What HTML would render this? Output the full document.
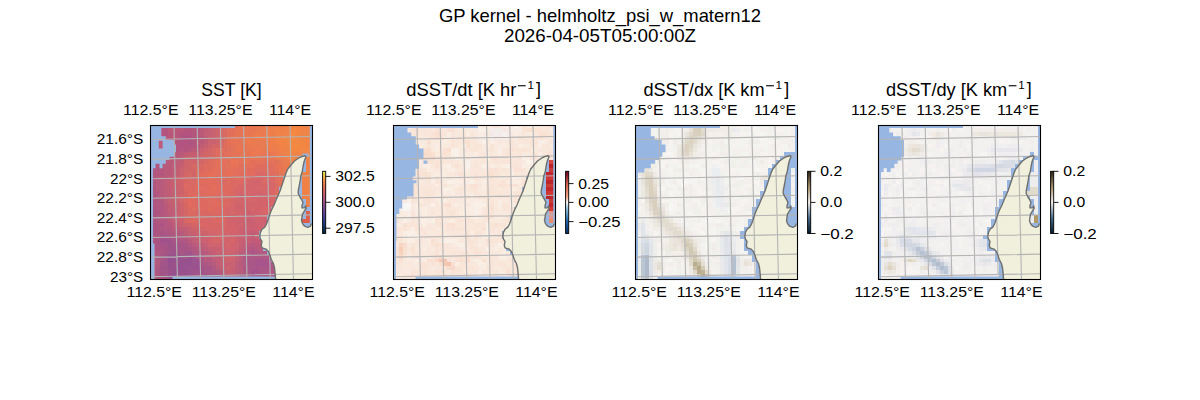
<!DOCTYPE html>
<html><head><meta charset="utf-8"><style>
html,body{margin:0;padding:0;background:#fff;}
svg{display:block;}
text{font-family:"Liberation Sans",sans-serif;fill:#000;}
</style></head><body>
<svg width="1200" height="400" viewBox="0 0 1200 400">
<defs>
<clipPath id="mc"><rect x="0" y="0" width="162" height="154"/></clipPath>

<linearGradient id="cb0" x1="0" y1="1" x2="0" y2="0"><stop offset="0" stop-color="#042333"/><stop offset="0.15" stop-color="#1b3a7e"/><stop offset="0.3" stop-color="#55409c"/><stop offset="0.45" stop-color="#8a4f8f"/><stop offset="0.6" stop-color="#c25a7b"/><stop offset="0.75" stop-color="#ec6f54"/><stop offset="0.88" stop-color="#f9a040"/><stop offset="1" stop-color="#e8fa5b"/></linearGradient>
<linearGradient id="cb1" x1="0" y1="1" x2="0" y2="0"><stop offset="0" stop-color="#053061"/><stop offset="0.2" stop-color="#2166ac"/><stop offset="0.4" stop-color="#92c5de"/><stop offset="0.5" stop-color="#f7f7f7"/><stop offset="0.6" stop-color="#f4a582"/><stop offset="0.8" stop-color="#d6604d"/><stop offset="1" stop-color="#67001f"/></linearGradient>
<linearGradient id="cb2" x1="0" y1="1" x2="0" y2="0"><stop offset="0" stop-color="#071a2b"/><stop offset="0.25" stop-color="#476d8e"/><stop offset="0.5" stop-color="#f5f2f0"/><stop offset="0.75" stop-color="#a8916b"/><stop offset="1" stop-color="#2b2115"/></linearGradient>
</defs>
<text x="600" y="21.7" text-anchor="middle" font-size="17.9" textLength="322.25" lengthAdjust="spacingAndGlyphs">GP kernel - helmholtz_psi_w_matern12</text>
<text x="600" y="42.3" text-anchor="middle" font-size="17.9" textLength="192.12" lengthAdjust="spacingAndGlyphs">2026-04-05T05:00:00Z</text>
<text x="231.5" y="95.6" text-anchor="middle" font-size="17.9" textLength="60.38" lengthAdjust="spacingAndGlyphs">SST [K]</text>
<clipPath id="mc0"><rect x="150.50" y="125.50" width="162.00" height="154.00"/></clipPath>
<g clip-path="url(#mc0)">
<rect x="150.50" y="125.50" width="162.00" height="154.00" fill="#97b6e1"/>
<g shape-rendering="crispEdges"><path fill="#bd577b" d="M148 124h4v4h-4z"/><path fill="#ba577b" d="M152 124h4v4h-4zM156 124h4v4h-4zM180 128h4v4h-4zM164 136h4v4h-4zM160 152h4v4h-4z"/><path fill="#b7577b" d="M160 124h4v4h-4zM176 124h4v4h-4zM180 124h4v4h-4zM168 132h4v4h-4zM176 132h4v4h-4zM196 132h4v4h-4zM156 136h4v4h-4zM176 136h4v4h-4zM196 136h4v4h-4zM160 140h4v4h-4zM168 140h4v4h-4zM164 144h4v4h-4zM164 148h4v4h-4zM168 148h4v4h-4zM172 148h4v4h-4zM188 148h4v4h-4zM176 152h4v4h-4zM160 168h4v4h-4z"/><path fill="#bd5a78" d="M164 124h4v4h-4zM172 124h4v4h-4zM196 140h4v4h-4zM200 140h4v4h-4zM176 227h4v4h-4z"/><path fill="#bd5a75" d="M168 124h4v4h-4zM196 148h4v4h-4z"/><path fill="#ba5778" d="M184 124h4v4h-4zM176 128h4v4h-4zM168 136h4v4h-4zM172 136h4v4h-4zM172 140h4v4h-4zM196 144h4v4h-4z"/><path fill="#b4577b" d="M188 124h4v4h-4zM192 128h4v4h-4z"/><path fill="#b4577e" d="M192 124h4v4h-4zM196 124h4v4h-4zM160 128h4v4h-4zM196 128h4v4h-4zM192 136h4v4h-4zM192 144h4v4h-4zM148 148h4v4h-4zM152 148h4v4h-4zM160 148h4v4h-4zM180 148h4v4h-4zM156 156h4v4h-4zM160 156h4v4h-4zM152 160h4v4h-4zM156 164h4v4h-4zM152 172h4v4h-4zM156 172h4v4h-4zM160 172h4v4h-4zM152 184h4v3h-4zM156 191h4v4h-4zM160 211h4v4h-4zM160 215h4v4h-4zM168 227h4v4h-4zM172 231h4v4h-4zM176 231h4v4h-4zM148 247h4v4h-4z"/><path fill="#b75a7b" d="M200 124h4v4h-4zM172 156h4v4h-4zM164 160h4v4h-4zM160 164h4v4h-4zM164 164h4v4h-4zM164 172h4v4h-4zM156 176h4v4h-4zM156 180h4v4h-4zM160 180h4v4h-4zM156 184h4v3h-4zM160 184h4v3h-4zM156 187h4v4h-4zM160 187h4v4h-4zM160 191h4v4h-4zM160 195h4v4h-4zM180 231h4v4h-4zM152 270h4v4h-4zM220 270h4v4h-4zM224 278h3v4h-3z"/><path fill="#bd5d78" d="M204 124h4v4h-4zM176 160h4v4h-4zM172 164h4v4h-4zM172 172h4v4h-4zM164 187h4v4h-4zM164 191h4v4h-4zM164 195h4v4h-4zM164 199h4v4h-4zM168 211h4v4h-4zM184 231h4v4h-4zM188 235h4v4h-4zM235 270h4v4h-4zM224 274h3v4h-3zM148 278h4v4h-4z"/><path fill="#c06075" d="M208 124h4v4h-4zM220 266h4v4h-4z"/><path fill="#c36072" d="M212 124h4v4h-4zM208 132h4v4h-4zM172 191h4v4h-4zM168 199h4v4h-4zM188 231h4v4h-4zM231 274h4v4h-4z"/><path fill="#cc666c" d="M216 124h4v4h-4zM216 128h4v4h-4zM216 132h4v4h-4zM216 136h4v4h-4z"/><path fill="#d56966" d="M220 124h4v4h-4zM220 128h4v4h-4zM220 132h4v4h-4zM220 140h4v4h-4zM208 156h4v4h-4zM188 172h4v4h-4z"/><path fill="#db6c63" d="M224 124h3v4h-3zM259 168h4v4h-4zM275 187h4v4h-4z"/><path fill="#e16f5d" d="M227 124h4v4h-4zM231 124h4v4h-4zM227 128h4v4h-4zM220 156h4v4h-4zM212 160h4v4h-4zM263 160h4v4h-4zM212 164h4v4h-4zM224 164h3v4h-3zM239 164h4v4h-4zM243 164h4v4h-4zM271 164h4v4h-4zM224 168h3v4h-3zM239 168h4v4h-4zM243 168h4v4h-4zM271 168h4v4h-4zM220 172h4v4h-4zM235 172h4v4h-4z"/><path fill="#e46f57" d="M235 124h4v4h-4zM231 132h4v4h-4z"/><path fill="#ea7554" d="M239 124h4v4h-4zM235 136h4v4h-4zM243 156h4v4h-4zM251 156h4v4h-4zM231 160h4v4h-4zM243 160h4v4h-4z"/><path fill="#e77554" d="M243 124h4v4h-4zM247 128h4v4h-4zM251 128h4v4h-4zM235 144h4v4h-4zM239 144h4v4h-4zM243 144h4v4h-4zM243 148h4v4h-4zM239 152h4v4h-4zM243 152h4v4h-4zM247 152h4v4h-4zM263 152h4v4h-4zM267 152h4v4h-4zM255 156h4v4h-4zM271 156h4v4h-4zM279 168h4v4h-4z"/><path fill="#ea7551" d="M247 124h4v4h-4zM243 128h4v4h-4zM243 132h4v4h-4zM239 148h4v4h-4z"/><path fill="#ea7851" d="M251 124h4v4h-4zM251 136h4v4h-4zM243 140h4v4h-4zM247 144h4v4h-4zM255 144h4v4h-4zM259 148h4v4h-4zM255 152h4v4h-4zM271 152h4v4h-4zM275 156h4v4h-4zM283 164h4v4h-4z"/><path fill="#e77854" d="M255 124h4v4h-4zM255 128h4v4h-4zM247 148h4v4h-4zM251 148h4v4h-4zM263 148h4v4h-4zM279 160h4v4h-4z"/><path fill="#e77851" d="M259 124h4v4h-4zM251 132h4v4h-4zM283 168h4v4h-4zM283 172h4v4h-4z"/><path fill="#ea7b4e" d="M263 124h4v4h-4zM267 124h4v4h-4zM263 132h4v4h-4zM251 140h4v4h-4zM279 156h4v4h-4z"/><path fill="#ed7e4e" d="M271 124h4v4h-4zM275 148h4v4h-4zM279 152h4v4h-4z"/><path fill="#ea7e4e" d="M275 124h4v4h-4z"/><path fill="#ea7e4b" d="M279 124h4v4h-4zM287 160h4v4h-4z"/><path fill="#ed8148" d="M283 124h4v4h-4zM287 124h4v4h-4zM279 128h4v4h-4zM283 128h4v4h-4zM310 136h4v4h-4zM310 144h4v4h-4zM283 148h4v4h-4zM310 156h4v4h-4z"/><path fill="#f38742" d="M291 124h4v4h-4zM295 124h4v4h-4zM291 128h4v4h-4zM295 128h4v4h-4zM295 132h4v4h-4zM302 140h4v4h-4zM299 144h3v4h-3zM302 144h4v4h-4zM291 148h4v4h-4zM295 148h4v4h-4z"/><path fill="#f38445" d="M299 124h3v4h-3zM299 128h3v4h-3zM279 140h4v4h-4zM306 140h4v4h-4zM310 148h4v4h-4zM306 152h4v4h-4z"/><path fill="#f08445" d="M302 124h4v4h-4zM306 124h4v4h-4zM310 124h4v4h-4zM299 132h3v4h-3zM283 140h4v4h-4zM283 144h4v4h-4zM306 144h4v4h-4zM287 152h4v4h-4zM291 152h4v4h-4zM295 152h4v4h-4zM302 152h4v4h-4zM310 152h4v4h-4zM291 156h4v4h-4zM295 156h4v4h-4zM306 156h4v4h-4z"/><path fill="#b45481" d="M148 128h4v4h-4zM152 128h4v4h-4zM152 132h4v4h-4zM148 136h4v4h-4zM152 140h4v4h-4zM152 144h4v4h-4zM156 144h4v4h-4z"/><path fill="#b7577e" d="M156 128h4v4h-4zM156 148h4v4h-4zM156 152h4v4h-4zM148 160h4v4h-4zM164 211h4v4h-4zM168 223h4v4h-4z"/><path fill="#b4547e" d="M164 128h4v4h-4zM156 132h4v4h-4zM160 132h4v4h-4zM164 132h4v4h-4zM180 132h4v4h-4zM184 132h4v4h-4zM160 136h4v4h-4zM156 140h4v4h-4zM184 140h4v4h-4zM160 144h4v4h-4zM168 144h4v4h-4zM176 148h4v4h-4z"/><path fill="#ba5a78" d="M168 128h4v4h-4zM200 128h4v4h-4zM200 132h4v4h-4zM192 148h4v4h-4zM164 152h4v4h-4zM168 152h4v4h-4zM172 152h4v4h-4zM180 152h4v4h-4zM164 156h4v4h-4zM168 156h4v4h-4zM176 156h4v4h-4zM168 160h4v4h-4zM172 160h4v4h-4zM168 164h4v4h-4zM168 168h4v4h-4zM168 172h4v4h-4zM164 176h4v4h-4zM164 203h4v4h-4z"/><path fill="#bd5778" d="M172 128h4v4h-4zM172 132h4v4h-4z"/><path fill="#b4547b" d="M184 128h4v4h-4zM188 128h4v4h-4zM164 140h4v4h-4zM172 144h4v4h-4z"/><path fill="#c05d75" d="M204 128h4v4h-4zM204 136h4v4h-4zM204 140h4v4h-4zM200 144h4v4h-4zM180 156h4v4h-4zM176 164h4v4h-4zM172 168h4v4h-4zM168 176h4v4h-4zM164 184h4v3h-4zM168 195h4v4h-4zM168 207h4v4h-4zM180 227h4v4h-4zM148 274h4v4h-4zM231 278h4v4h-4z"/><path fill="#c36075" d="M208 128h4v4h-4zM204 132h4v4h-4zM196 239h4v4h-4zM148 255h4v4h-4zM148 259h4v3h-4zM148 270h4v4h-4zM224 270h3v4h-3zM231 270h4v4h-4zM227 278h4v4h-4z"/><path fill="#c9636f" d="M212 128h4v4h-4zM212 132h4v4h-4zM208 140h4v4h-4zM212 140h4v4h-4zM180 168h4v4h-4zM176 187h4v4h-4zM176 191h4v4h-4zM176 199h4v4h-4z"/><path fill="#d86963" d="M224 128h3v4h-3zM224 132h3v4h-3zM220 144h4v4h-4zM212 148h4v4h-4zM212 152h4v4h-4zM204 160h4v4h-4zM200 164h4v4h-4zM188 176h4v4h-4zM192 180h4v4h-4zM196 207h4v4h-4zM192 215h4v4h-4zM196 215h4v4h-4zM200 223h4v4h-4z"/><path fill="#e46f5a" d="M231 128h4v4h-4zM227 152h4v4h-4zM216 160h4v4h-4zM220 160h4v4h-4zM267 160h4v4h-4zM216 164h4v4h-4zM220 164h4v4h-4zM247 164h4v4h-4zM251 164h4v4h-4zM212 168h4v4h-4zM216 168h4v4h-4zM227 168h4v4h-4zM231 168h4v4h-4zM235 168h4v4h-4zM212 172h4v4h-4zM216 172h4v4h-4zM231 172h4v4h-4zM208 176h4v4h-4zM212 187h4v4h-4z"/><path fill="#e77257" d="M235 128h4v4h-4zM235 140h4v4h-4zM247 156h4v4h-4zM259 156h4v4h-4zM267 156h4v4h-4zM247 160h4v4h-4zM231 164h4v4h-4zM235 164h4v4h-4zM275 164h4v4h-4z"/><path fill="#e77254" d="M239 128h4v4h-4zM235 132h4v4h-4zM239 132h4v4h-4zM231 140h4v4h-4zM235 148h4v4h-4z"/><path fill="#ea7b51" d="M259 128h4v4h-4zM263 128h4v4h-4zM255 140h4v4h-4zM263 140h4v4h-4zM251 144h4v4h-4z"/><path fill="#f07e4b" d="M267 128h4v4h-4zM271 128h4v4h-4zM271 132h4v4h-4zM267 136h4v4h-4zM271 136h4v4h-4zM271 140h4v4h-4zM267 144h4v4h-4z"/><path fill="#f08148" d="M275 128h4v4h-4zM279 132h4v4h-4zM275 136h4v4h-4zM275 140h4v4h-4zM279 144h4v4h-4zM279 148h4v4h-4zM287 156h4v4h-4z"/><path fill="#ed8448" d="M287 128h4v4h-4zM310 128h4v4h-4zM287 132h4v4h-4zM302 132h4v4h-4zM306 132h4v4h-4zM310 132h4v4h-4zM302 136h4v4h-4zM306 136h4v4h-4zM310 140h4v4h-4zM287 144h4v4h-4zM287 148h4v4h-4zM299 152h3v4h-3z"/><path fill="#f08448" d="M302 128h4v4h-4zM306 128h4v4h-4zM283 132h4v4h-4zM279 136h4v4h-4z"/><path fill="#b15484" d="M148 132h4v4h-4zM148 140h4v4h-4z"/><path fill="#b15481" d="M188 132h4v4h-4zM180 140h4v4h-4zM148 144h4v4h-4zM176 144h4v4h-4zM180 144h4v4h-4zM188 144h4v4h-4zM152 152h4v4h-4z"/><path fill="#b1547e" d="M192 132h4v4h-4zM176 140h4v4h-4zM192 140h4v4h-4zM184 144h4v4h-4zM184 148h4v4h-4z"/><path fill="#e16c5d" d="M227 132h4v4h-4zM216 152h4v4h-4zM255 164h4v4h-4zM247 168h4v4h-4zM251 168h4v4h-4zM200 172h4v4h-4zM239 172h4v4h-4zM243 172h4v4h-4zM212 176h4v4h-4zM216 176h4v4h-4zM227 176h4v4h-4zM235 176h4v4h-4zM239 176h4v4h-4zM200 180h4v4h-4zM204 180h4v4h-4zM208 180h4v4h-4zM212 180h4v4h-4zM196 184h4v3h-4zM216 184h4v3h-4zM208 187h4v4h-4zM212 191h4v4h-4zM192 195h4v4h-4zM188 203h4v4h-4zM212 203h4v4h-4zM216 203h4v4h-4zM208 207h4v4h-4z"/><path fill="#e77551" d="M247 132h4v4h-4z"/><path fill="#ed7b4e" d="M255 132h4v4h-4zM259 132h4v4h-4zM263 136h4v4h-4zM247 140h4v4h-4zM267 148h4v4h-4zM271 148h4v4h-4zM275 152h4v4h-4z"/><path fill="#ed7e4b" d="M267 132h4v4h-4zM267 140h4v4h-4zM271 144h4v4h-4zM275 144h4v4h-4zM283 156h4v4h-4z"/><path fill="#f38148" d="M275 132h4v4h-4z"/><path fill="#f68a42" d="M291 132h4v4h-4z"/><path fill="#b7547e" d="M152 136h4v4h-4z"/><path fill="#ae5481" d="M180 136h4v4h-4zM188 140h4v4h-4zM152 199h4v4h-4zM156 211h4v4h-4zM156 223h4v4h-4zM156 231h4v4h-4zM156 235h4v4h-4zM152 239h4v4h-4z"/><path fill="#ae5181" d="M184 136h4v4h-4zM188 136h4v4h-4z"/><path fill="#ba5a7b" d="M200 136h4v4h-4zM164 168h4v4h-4zM160 176h4v4h-4zM164 207h4v4h-4zM168 215h4v4h-4zM172 227h4v4h-4zM184 235h4v4h-4zM188 239h4v4h-4zM204 255h4v4h-4zM208 255h4v4h-4z"/><path fill="#c9606f" d="M208 136h4v4h-4zM200 148h4v4h-4zM176 176h4v4h-4zM172 180h4v4h-4zM176 203h4v4h-4zM176 211h4v4h-4zM180 223h4v4h-4zM188 227h4v4h-4zM192 231h4v4h-4z"/><path fill="#cc636c" d="M212 136h4v4h-4zM208 144h4v4h-4zM200 152h4v4h-4zM180 172h4v4h-4zM184 223h4v4h-4zM192 227h4v4h-4zM196 227h4v4h-4z"/><path fill="#d26969" d="M220 136h4v4h-4z"/><path fill="#db6c60" d="M224 136h3v4h-3zM224 140h3v4h-3zM208 160h4v4h-4z"/><path fill="#e76f57" d="M227 136h4v4h-4zM227 140h4v4h-4zM227 172h4v4h-4z"/><path fill="#ea7254" d="M231 136h4v4h-4z"/><path fill="#e47257" d="M239 136h4v4h-4zM231 144h4v4h-4zM231 152h4v4h-4zM235 152h4v4h-4zM227 156h4v4h-4zM235 156h4v4h-4zM239 156h4v4h-4zM263 156h4v4h-4zM275 168h4v4h-4zM279 176h4v4h-4zM279 180h4v4h-4z"/><path fill="#ed7851" d="M243 136h4v4h-4zM255 148h4v4h-4zM251 152h4v4h-4z"/><path fill="#ed784e" d="M247 136h4v4h-4z"/><path fill="#f07b4b" d="M255 136h4v4h-4zM259 136h4v4h-4z"/><path fill="#f38745" d="M283 136h4v4h-4zM299 148h3v4h-3zM302 148h4v4h-4zM306 148h4v4h-4z"/><path fill="#f08745" d="M287 136h4v4h-4zM295 136h4v4h-4zM287 140h4v4h-4zM295 140h4v4h-4zM299 140h3v4h-3z"/><path fill="#f38a42" d="M291 136h4v4h-4zM291 144h4v4h-4zM295 144h4v4h-4z"/><path fill="#f08748" d="M299 136h3v4h-3z"/><path fill="#cf666c" d="M216 140h4v4h-4z"/><path fill="#e47557" d="M239 140h4v4h-4zM279 172h4v4h-4z"/><path fill="#e77b51" d="M259 140h4v4h-4zM259 144h4v4h-4zM263 144h4v4h-4zM283 160h4v4h-4z"/><path fill="#f08a42" d="M291 140h4v4h-4z"/><path fill="#c6606f" d="M204 144h4v4h-4zM196 152h4v4h-4zM180 164h4v4h-4zM172 199h4v4h-4zM172 203h4v4h-4z"/><path fill="#d26669" d="M212 144h4v4h-4zM208 148h4v4h-4zM208 152h4v4h-4zM200 156h4v4h-4zM196 160h4v4h-4zM180 195h4v4h-4zM180 199h4v4h-4zM235 199h4v4h-4zM227 211h4v4h-4zM200 227h4v4h-4z"/><path fill="#d26666" d="M216 144h4v4h-4zM204 152h4v4h-4zM188 160h4v4h-4zM200 160h4v4h-4zM188 168h4v4h-4zM192 172h4v4h-4z"/><path fill="#de6c5d" d="M224 144h3v4h-3zM224 148h3v4h-3zM220 152h4v4h-4zM216 156h4v4h-4zM208 164h4v4h-4zM259 164h4v4h-4zM208 168h4v4h-4zM196 172h4v4h-4zM200 176h4v4h-4z"/><path fill="#e16f5a" d="M227 144h4v4h-4zM220 148h4v4h-4zM224 152h3v4h-3zM227 160h4v4h-4zM251 160h4v4h-4zM220 168h4v4h-4zM224 172h3v4h-3z"/><path fill="#cf6369" d="M204 148h4v4h-4zM184 160h4v4h-4zM192 160h4v4h-4zM184 164h4v4h-4zM188 223h4v4h-4z"/><path fill="#de6c60" d="M216 148h4v4h-4zM204 164h4v4h-4zM263 164h4v4h-4zM267 164h4v4h-4zM204 168h4v4h-4zM255 168h4v4h-4zM263 168h4v4h-4zM267 168h4v4h-4zM271 172h4v4h-4zM220 176h4v4h-4zM224 176h3v4h-3zM231 176h4v4h-4zM196 180h4v4h-4zM216 180h4v4h-4zM227 180h4v4h-4zM275 180h4v4h-4zM204 184h4v3h-4zM204 187h4v4h-4zM204 191h4v4h-4zM216 191h4v4h-4zM224 191h3v4h-3zM275 191h4v4h-4zM204 195h4v4h-4zM208 195h4v4h-4zM212 195h4v4h-4zM208 199h4v4h-4zM208 203h4v4h-4zM192 207h4v4h-4z"/><path fill="#de6f5d" d="M227 148h4v4h-4zM224 156h3v4h-3zM275 172h4v4h-4zM275 176h4v4h-4z"/><path fill="#e1725a" d="M231 148h4v4h-4zM275 160h4v4h-4zM227 164h4v4h-4z"/><path fill="#ae5484" d="M148 152h4v4h-4zM148 156h4v4h-4zM160 223h4v4h-4zM152 235h4v4h-4z"/><path fill="#c05a75" d="M184 152h4v4h-4z"/><path fill="#c35d72" d="M188 152h4v4h-4zM176 168h4v4h-4zM176 172h4v4h-4zM168 180h4v4h-4zM176 223h4v4h-4z"/><path fill="#c35d6f" d="M192 152h4v4h-4z"/><path fill="#ea7854" d="M259 152h4v4h-4z"/><path fill="#ed814b" d="M283 152h4v4h-4z"/><path fill="#b45781" d="M152 156h4v4h-4zM164 219h4v4h-4zM164 223h4v4h-4zM148 243h4v4h-4zM200 251h4v4h-4zM263 251h4v4h-4zM267 255h4v4h-4z"/><path fill="#c9606c" d="M184 156h4v4h-4zM188 156h4v4h-4zM196 156h4v4h-4z"/><path fill="#cc606c" d="M192 156h4v4h-4z"/><path fill="#d56666" d="M204 156h4v4h-4zM192 168h4v4h-4zM184 172h4v4h-4zM192 176h4v4h-4zM184 191h4v4h-4zM184 195h4v4h-4zM231 199h4v4h-4zM184 207h4v4h-4zM184 211h4v4h-4zM196 211h4v4h-4zM184 215h4v4h-4zM192 223h4v4h-4zM196 223h4v4h-4zM216 223h4v4h-4z"/><path fill="#db6960" d="M212 156h4v4h-4zM196 168h4v4h-4zM200 168h4v4h-4zM220 184h4v3h-4zM220 199h4v4h-4zM188 207h4v4h-4zM188 219h4v4h-4z"/><path fill="#e4725a" d="M231 156h4v4h-4zM224 160h3v4h-3zM239 160h4v4h-4zM255 160h4v4h-4zM259 160h4v4h-4zM271 160h4v4h-4zM279 184h4v3h-4z"/><path fill="#b15781" d="M156 160h4v4h-4zM160 160h4v4h-4zM148 164h4v4h-4zM152 164h4v4h-4zM152 168h4v4h-4zM156 168h4v4h-4zM156 203h4v4h-4zM160 203h4v4h-4zM156 207h4v4h-4zM160 207h4v4h-4zM156 215h4v4h-4zM160 219h4v4h-4zM164 227h4v4h-4zM176 235h4v4h-4zM148 239h4v4h-4zM184 239h4v4h-4zM188 243h4v4h-4zM152 247h4v4h-4zM192 247h4v4h-4zM251 247h4v4h-4zM156 251h4v4h-4zM156 255h4v4h-4zM200 255h4v4h-4zM271 274h4v4h-4z"/><path fill="#c05d72" d="M180 160h4v4h-4z"/><path fill="#e77557" d="M235 160h4v4h-4z"/><path fill="#f08145" d="M291 160h4v4h-4zM306 160h4v4h-4zM310 160h4v4h-4zM306 164h4v4h-4zM310 164h4v4h-4zM306 168h4v4h-4zM310 168h4v4h-4zM302 172h4v4h-4zM306 172h4v4h-4zM310 172h4v4h-4zM302 176h4v4h-4zM306 176h4v4h-4zM310 176h4v4h-4zM302 180h4v4h-4zM306 180h4v4h-4zM310 180h4v4h-4zM302 184h4v3h-4zM306 184h4v3h-4zM310 184h4v3h-4zM302 187h4v4h-4zM306 187h4v4h-4zM310 187h4v4h-4zM302 191h4v4h-4zM306 191h4v4h-4zM310 191h4v4h-4zM302 195h4v4h-4zM306 195h4v4h-4zM310 195h4v4h-4zM306 199h4v4h-4zM310 199h4v4h-4zM306 203h4v4h-4zM310 203h4v4h-4zM310 207h4v4h-4z"/><path fill="#cf6669" d="M188 164h4v4h-4zM184 168h4v4h-4z"/><path fill="#d56963" d="M192 164h4v4h-4zM196 164h4v4h-4z"/><path fill="#e47554" d="M279 164h4v4h-4z"/><path fill="#ea7b4b" d="M287 164h4v4h-4z"/><path fill="#ab5484" d="M148 168h4v4h-4zM148 172h4v4h-4zM148 184h4v3h-4zM152 215h4v4h-4zM152 219h4v4h-4zM152 223h4v4h-4zM152 227h4v4h-4zM156 227h4v4h-4zM152 231h4v4h-4zM160 231h4v4h-4zM148 235h4v4h-4zM156 239h4v4h-4zM152 243h4v4h-4zM156 243h4v4h-4zM156 247h4v4h-4zM160 247h4v4h-4z"/><path fill="#e46c5a" d="M204 172h4v4h-4zM212 184h4v3h-4z"/><path fill="#e76f5a" d="M208 172h4v4h-4z"/><path fill="#e16c60" d="M247 172h4v4h-4zM251 172h4v4h-4zM267 172h4v4h-4zM208 184h4v3h-4zM200 187h4v4h-4zM212 199h4v4h-4z"/><path fill="#d86966" d="M255 172h4v4h-4zM259 172h4v4h-4zM263 172h4v4h-4zM227 203h4v4h-4zM200 211h4v4h-4zM200 215h4v4h-4zM204 215h4v4h-4z"/><path fill="#ab5784" d="M148 176h4v4h-4zM176 239h4v4h-4zM184 243h4v4h-4zM188 247h4v4h-4zM160 251h4v4h-4zM192 251h4v4h-4zM200 259h4v3h-4zM156 270h4v4h-4zM212 270h4v4h-4zM216 274h4v4h-4zM216 278h4v4h-4z"/><path fill="#b1577e" d="M152 176h4v4h-4zM152 180h4v4h-4zM152 187h4v4h-4zM156 199h4v4h-4zM160 199h4v4h-4zM156 219h4v4h-4z"/><path fill="#c65d72" d="M172 176h4v4h-4zM168 184h4v3h-4z"/><path fill="#d26369" d="M180 176h4v4h-4zM180 180h4v4h-4zM180 184h4v3h-4zM235 211h4v4h-4zM231 215h4v4h-4zM235 215h4v4h-4z"/><path fill="#d86663" d="M184 176h4v4h-4zM184 180h4v4h-4zM184 203h4v4h-4zM204 211h4v4h-4zM188 215h4v4h-4zM184 219h4v4h-4z"/><path fill="#de6960" d="M196 176h4v4h-4zM184 184h4v3h-4zM200 184h4v3h-4zM224 184h3v3h-3zM227 184h4v3h-4zM220 187h4v4h-4zM224 187h3v4h-3zM227 187h4v4h-4zM188 191h4v4h-4zM192 191h4v4h-4zM196 191h4v4h-4zM200 191h4v4h-4zM227 191h4v4h-4zM188 195h4v4h-4zM196 195h4v4h-4zM192 199h4v4h-4zM200 199h4v4h-4zM204 199h4v4h-4zM216 199h4v4h-4zM192 203h4v4h-4zM200 203h4v4h-4zM204 203h4v4h-4zM220 203h4v4h-4zM224 203h3v4h-3zM200 207h4v4h-4zM204 207h4v4h-4zM212 207h4v4h-4zM216 207h4v4h-4zM192 219h4v4h-4z"/><path fill="#e46c5d" d="M204 176h4v4h-4zM216 187h4v4h-4zM208 191h4v4h-4z"/><path fill="#de6963" d="M243 176h4v4h-4zM239 180h4v4h-4zM220 207h4v4h-4zM220 219h4v4h-4z"/><path fill="#db6966" d="M247 176h4v4h-4zM263 176h4v4h-4zM267 176h4v4h-4zM243 180h4v4h-4zM263 180h4v4h-4zM235 184h4v3h-4zM243 187h4v4h-4z"/><path fill="#d56669" d="M251 176h4v4h-4zM255 176h4v4h-4zM259 176h4v4h-4zM267 180h4v4h-4zM259 184h4v3h-4zM259 187h4v4h-4zM263 187h4v4h-4zM235 191h4v4h-4zM247 191h4v4h-4zM235 195h4v4h-4zM243 195h4v4h-4zM247 195h4v4h-4zM231 203h4v4h-4zM227 207h4v4h-4zM231 207h4v4h-4zM251 207h4v4h-4zM231 211h4v4h-4zM208 219h4v4h-4zM204 227h4v4h-4zM212 227h4v4h-4zM216 227h4v4h-4zM216 231h4v4h-4zM220 231h4v4h-4zM227 231h4v4h-4zM212 235h4v4h-4zM216 235h4v4h-4zM212 239h4v4h-4zM216 239h4v4h-4z"/><path fill="#db6963" d="M271 176h4v4h-4zM188 180h4v4h-4zM220 180h4v4h-4zM224 180h3v4h-3zM231 180h4v4h-4zM235 180h4v4h-4zM188 184h4v3h-4zM192 184h4v3h-4zM231 184h4v3h-4zM184 187h4v4h-4zM188 187h4v4h-4zM192 187h4v4h-4zM231 187h4v4h-4zM220 191h4v4h-4zM231 191h4v4h-4zM200 195h4v4h-4zM216 195h4v4h-4zM220 195h4v4h-4zM224 195h3v4h-3zM227 195h4v4h-4zM275 195h4v4h-4zM184 199h4v4h-4zM196 199h4v4h-4zM224 199h3v4h-3zM227 199h4v4h-4zM196 203h4v4h-4zM188 211h4v4h-4zM192 211h4v4h-4zM208 211h4v4h-4zM212 211h4v4h-4zM216 211h4v4h-4zM212 215h4v4h-4zM196 219h4v4h-4zM212 219h4v4h-4zM216 219h4v4h-4z"/><path fill="#ae5781" d="M148 180h4v4h-4zM152 191h4v4h-4zM152 203h4v4h-4zM160 227h4v4h-4zM168 231h4v4h-4zM172 235h4v4h-4zM156 266h4v4h-4zM156 274h4v4h-4zM156 278h4v4h-4z"/><path fill="#c05d78" d="M164 180h4v4h-4zM172 211h4v4h-4zM172 215h4v4h-4zM192 239h4v4h-4zM200 243h4v4h-4zM208 251h4v4h-4zM212 255h4v4h-4zM216 262h4v4h-4zM235 262h4v4h-4z"/><path fill="#cf636c" d="M176 180h4v4h-4zM180 187h4v4h-4zM180 191h4v4h-4zM180 203h4v4h-4zM235 203h4v4h-4zM239 203h4v4h-4zM180 207h4v4h-4zM239 207h4v4h-4zM180 211h4v4h-4zM243 211h4v4h-4zM180 215h4v4h-4zM227 215h4v4h-4zM235 223h4v4h-4zM200 231h4v4h-4zM204 231h4v4h-4zM204 235h4v4h-4z"/><path fill="#d5666c" d="M247 180h4v4h-4zM259 180h4v4h-4zM251 184h4v3h-4zM267 184h4v3h-4zM271 184h4v3h-4zM255 187h4v4h-4zM263 191h4v4h-4zM227 243h4v4h-4z"/><path fill="#d2666c" d="M251 180h4v4h-4zM255 184h4v3h-4zM239 191h4v4h-4zM239 199h4v4h-4zM247 199h4v4h-4zM251 199h4v4h-4zM239 211h4v4h-4zM208 231h4v4h-4zM212 231h4v4h-4z"/><path fill="#d2636c" d="M255 180h4v4h-4zM259 191h4v4h-4zM239 195h4v4h-4zM259 195h4v4h-4zM243 199h4v4h-4zM259 199h4v4h-4zM243 203h4v4h-4zM247 203h4v4h-4zM251 203h4v4h-4zM255 203h4v4h-4zM259 203h4v4h-4zM235 207h4v4h-4zM243 207h4v4h-4zM247 207h4v4h-4zM255 207h4v4h-4zM255 211h4v4h-4zM239 215h4v4h-4zM259 215h4v4h-4zM227 219h4v4h-4zM227 223h4v4h-4zM235 227h4v4h-4zM224 231h3v4h-3zM231 231h4v4h-4zM235 231h4v4h-4zM208 235h4v4h-4zM208 239h4v4h-4zM224 239h3v4h-3zM227 239h4v4h-4zM224 243h3v4h-3zM231 243h4v4h-4zM227 255h4v4h-4z"/><path fill="#d86969" d="M271 180h4v4h-4z"/><path fill="#c96072" d="M172 184h4v3h-4zM176 207h4v4h-4zM247 219h4v4h-4zM196 235h4v4h-4zM200 235h4v4h-4zM239 235h4v4h-4zM243 235h4v4h-4zM255 235h4v4h-4zM200 239h4v4h-4zM239 239h4v4h-4zM212 247h4v4h-4zM216 247h4v4h-4zM220 251h4v4h-4zM224 262h3v4h-3zM227 262h4v4h-4zM227 270h4v4h-4z"/><path fill="#cc606f" d="M176 184h4v3h-4zM247 211h4v4h-4zM176 215h4v4h-4zM180 219h4v4h-4zM243 223h4v4h-4zM247 223h4v4h-4zM239 227h4v4h-4zM239 231h4v4h-4z"/><path fill="#d86666" d="M239 184h4v3h-4zM243 184h4v3h-4zM235 187h4v4h-4zM239 187h4v4h-4zM271 187h4v4h-4zM243 191h4v4h-4zM231 195h4v4h-4zM267 195h4v4h-4zM271 195h4v4h-4zM224 207h3v4h-3zM220 211h4v4h-4zM224 211h3v4h-3zM208 215h4v4h-4zM216 215h4v4h-4zM224 215h3v4h-3zM200 219h4v4h-4zM204 219h4v4h-4zM224 219h3v4h-3zM204 223h4v4h-4zM208 223h4v4h-4zM212 223h4v4h-4zM208 227h4v4h-4zM220 227h4v4h-4zM224 227h3v4h-3z"/><path fill="#d5636c" d="M247 184h4v3h-4zM247 187h4v4h-4zM255 191h4v4h-4zM255 195h4v4h-4zM263 195h4v4h-4zM255 199h4v4h-4zM263 199h4v4h-4zM263 203h4v4h-4zM267 203h4v4h-4zM259 207h4v4h-4zM267 207h4v4h-4zM259 211h4v4h-4zM231 223h4v4h-4zM224 235h3v4h-3zM227 235h4v4h-4zM231 235h4v4h-4zM220 239h4v4h-4z"/><path fill="#db6666" d="M263 184h4v3h-4zM271 191h4v4h-4zM220 223h4v4h-4z"/><path fill="#d86c63" d="M275 184h4v3h-4z"/><path fill="#a85487" d="M148 187h4v4h-4zM148 223h4v4h-4zM148 231h4v4h-4zM164 235h4v4h-4zM172 239h4v4h-4zM160 243h4v4h-4zM180 243h4v4h-4zM180 247h4v4h-4zM184 247h4v4h-4zM208 266h4v4h-4zM263 278h4v4h-4z"/><path fill="#c35d75" d="M168 187h4v4h-4zM168 191h4v4h-4zM168 203h4v4h-4zM172 207h4v4h-4zM184 227h4v4h-4zM251 231h4v4h-4zM192 235h4v4h-4zM243 243h4v4h-4zM216 255h4v4h-4zM148 266h4v4h-4z"/><path fill="#c66072" d="M172 187h4v4h-4zM172 195h4v4h-4zM176 219h4v4h-4zM220 262h4v4h-4zM224 266h3v4h-3zM231 266h4v4h-4zM227 274h4v4h-4z"/><path fill="#e1695d" d="M196 187h4v4h-4zM188 199h4v4h-4z"/><path fill="#d2636f" d="M251 187h4v4h-4zM251 191h4v4h-4zM227 247h4v4h-4zM231 247h4v4h-4z"/><path fill="#d86669" d="M267 187h4v4h-4zM267 191h4v4h-4zM271 199h4v4h-4zM271 203h4v4h-4zM263 207h4v4h-4zM263 211h4v4h-4zM267 211h4v4h-4zM224 223h3v4h-3zM220 235h4v4h-4zM231 239h4v4h-4z"/><path fill="#a55487" d="M148 191h4v4h-4zM160 235h4v4h-4zM164 243h4v4h-4zM176 243h4v4h-4zM164 247h4v4h-4zM176 247h4v4h-4zM184 251h4v4h-4zM160 262h4v4h-4zM160 274h4v4h-4z"/><path fill="#a85484" d="M148 195h4v4h-4zM148 207h4v4h-4zM168 235h4v4h-4zM160 255h4v4h-4z"/><path fill="#ab5481" d="M152 195h4v4h-4zM152 207h4v4h-4zM152 211h4v4h-4z"/><path fill="#b45a7e" d="M156 195h4v4h-4zM180 235h4v4h-4zM196 247h4v4h-4zM204 259h4v3h-4zM208 259h4v3h-4zM156 262h4v4h-4zM220 274h4v4h-4zM152 278h4v4h-4zM220 278h4v4h-4z"/><path fill="#cc636f" d="M176 195h4v4h-4zM243 215h4v4h-4zM239 219h4v4h-4zM196 231h4v4h-4zM224 251h3v4h-3zM231 251h4v4h-4zM224 255h3v4h-3zM224 259h3v3h-3zM231 259h4v3h-4zM227 266h4v4h-4z"/><path fill="#d56369" d="M251 195h4v4h-4zM267 199h4v4h-4zM263 215h4v4h-4zM227 227h4v4h-4zM231 227h4v4h-4z"/><path fill="#a55187" d="M148 199h4v4h-4zM148 211h4v4h-4z"/><path fill="#a85184" d="M148 203h4v4h-4z"/><path fill="#cf636f" d="M251 211h4v4h-4zM255 215h4v4h-4zM231 219h4v4h-4zM235 219h4v4h-4zM255 219h4v4h-4zM259 219h4v4h-4zM239 223h4v4h-4zM259 223h4v4h-4zM263 223h4v4h-4zM259 227h4v4h-4zM208 243h4v4h-4zM212 243h4v4h-4zM216 243h4v4h-4zM220 243h4v4h-4zM235 243h4v4h-4zM224 247h3v4h-3zM227 251h4v4h-4zM231 255h4v4h-4zM227 259h4v3h-4z"/><path fill="#de5d48" d="M306 211h4v4h-4zM310 211h4v4h-4zM306 215h4v4h-4zM310 215h4v4h-4zM302 219h4v4h-4zM306 219h4v4h-4zM310 219h4v4h-4z"/><path fill="#a25187" d="M148 215h4v4h-4z"/><path fill="#b75a7e" d="M164 215h4v4h-4zM251 243h4v4h-4zM255 247h4v4h-4zM148 251h4v4h-4zM152 251h4v4h-4zM212 262h4v4h-4zM239 262h4v4h-4zM152 266h4v4h-4zM152 274h4v4h-4z"/><path fill="#db6663" d="M220 215h4v4h-4z"/><path fill="#cc6072" d="M247 215h4v4h-4zM263 219h4v4h-4zM251 223h4v4h-4zM243 227h4v4h-4zM247 227h4v4h-4zM251 227h4v4h-4zM204 239h4v4h-4zM220 247h4v4h-4z"/><path fill="#cc6372" d="M251 215h4v4h-4zM243 219h4v4h-4zM235 247h4v4h-4zM216 251h4v4h-4z"/><path fill="#a2518a" d="M148 219h4v4h-4zM160 239h4v4h-4zM164 239h4v4h-4zM168 239h4v4h-4z"/><path fill="#bd5a7b" d="M168 219h4v4h-4zM247 243h4v4h-4zM255 243h4v4h-4z"/><path fill="#c65d75" d="M172 219h4v4h-4zM243 231h4v4h-4zM247 231h4v4h-4zM251 235h4v4h-4zM243 239h4v4h-4zM247 239h4v4h-4zM212 251h4v4h-4z"/><path fill="#c96075" d="M251 219h4v4h-4z"/><path fill="#c05a78" d="M172 223h4v4h-4zM251 239h4v4h-4zM255 239h4v4h-4zM259 243h4v4h-4z"/><path fill="#cf606f" d="M255 223h4v4h-4zM255 227h4v4h-4zM235 235h4v4h-4zM235 239h4v4h-4z"/><path fill="#a85187" d="M148 227h4v4h-4z"/><path fill="#ae5784" d="M164 231h4v4h-4zM180 239h4v4h-4zM196 251h4v4h-4zM247 255h4v4h-4zM251 255h4v4h-4zM204 262h4v4h-4zM243 266h4v4h-4zM271 266h4v4h-4zM267 270h4v4h-4zM267 274h4v4h-4z"/><path fill="#c95d72" d="M255 231h4v4h-4zM247 235h4v4h-4z"/><path fill="#c35d78" d="M259 239h4v4h-4zM239 247h4v4h-4zM216 259h4v3h-4z"/><path fill="#9f518a" d="M168 243h4v4h-4zM172 247h4v4h-4z"/><path fill="#a25487" d="M172 243h4v4h-4zM176 251h4v4h-4zM160 270h4v4h-4zM164 270h4v4h-4zM164 278h4v4h-4z"/><path fill="#ba5a7e" d="M192 243h4v4h-4zM259 247h4v4h-4zM204 251h4v4h-4z"/><path fill="#bd5d7b" d="M196 243h4v4h-4zM204 247h4v4h-4zM243 247h4v4h-4zM239 251h4v4h-4zM239 255h4v4h-4zM212 259h4v3h-4zM148 262h4v4h-4z"/><path fill="#c66075" d="M204 243h4v4h-4zM239 243h4v4h-4zM208 247h4v4h-4zM235 251h4v4h-4zM220 255h4v4h-4zM235 255h4v4h-4zM220 259h4v3h-4z"/><path fill="#9f5487" d="M168 247h4v4h-4zM164 266h4v4h-4z"/><path fill="#ba5d7b" d="M200 247h4v4h-4zM152 255h4v4h-4zM152 259h4v3h-4zM152 262h4v4h-4zM216 266h4v4h-4zM239 266h4v4h-4zM235 274h4v4h-4z"/><path fill="#b75781" d="M247 247h4v4h-4z"/><path fill="#a55484" d="M164 251h4v4h-4z"/><path fill="#9f548a" d="M168 251h4v4h-4zM164 255h4v4h-4zM184 255h4v4h-4zM164 259h4v3h-4zM164 262h4v4h-4zM192 270h4v4h-4zM196 270h4v4h-4zM164 274h4v4h-4zM192 274h4v4h-4zM200 278h4v4h-4z"/><path fill="#9c518a" d="M172 251h4v4h-4zM172 262h4v4h-4zM168 270h4v4h-4zM180 274h4v4h-4z"/><path fill="#a85784" d="M180 251h4v4h-4zM160 259h4v3h-4z"/><path fill="#a2548a" d="M188 251h4v4h-4zM160 266h4v4h-4zM200 266h4v4h-4zM200 270h4v4h-4zM251 270h4v4h-4zM200 274h4v4h-4zM255 274h4v4h-4zM204 278h4v4h-4zM251 278h4v4h-4z"/><path fill="#ba5d7e" d="M243 251h4v4h-4zM239 259h4v3h-4z"/><path fill="#b15a81" d="M247 251h4v4h-4zM156 259h4v3h-4zM208 262h4v4h-4zM212 266h4v4h-4zM216 270h4v4h-4zM239 274h4v4h-4zM239 278h4v4h-4z"/><path fill="#ab5487" d="M251 251h4v4h-4zM263 259h4v3h-4zM263 266h4v4h-4zM267 266h4v4h-4zM271 278h4v4h-4z"/><path fill="#b15784" d="M255 251h4v4h-4zM243 255h4v4h-4zM259 255h4v4h-4zM263 255h4v4h-4zM271 270h4v4h-4z"/><path fill="#b45a81" d="M259 251h4v4h-4z"/><path fill="#964e8d" d="M168 255h4v4h-4z"/><path fill="#99518d" d="M172 255h4v4h-4zM176 255h4v4h-4zM172 259h4v3h-4zM176 259h4v3h-4zM180 259h4v3h-4zM184 259h4v3h-4zM168 262h4v4h-4zM176 270h4v4h-4zM180 270h4v4h-4zM184 270h4v4h-4zM176 274h4v4h-4zM180 278h4v4h-4z"/><path fill="#9c518d" d="M180 255h4v4h-4zM188 255h4v4h-4zM192 266h4v4h-4z"/><path fill="#9f548d" d="M192 255h4v4h-4zM251 274h4v4h-4z"/><path fill="#ab5787" d="M196 255h4v4h-4zM251 259h4v3h-4zM259 266h4v4h-4zM263 270h4v4h-4zM263 274h4v4h-4zM267 278h4v4h-4z"/><path fill="#ae5787" d="M255 255h4v4h-4zM271 262h4v4h-4z"/><path fill="#964e90" d="M168 259h4v3h-4zM176 266h4v4h-4z"/><path fill="#965190" d="M188 259h4v3h-4zM180 262h4v4h-4zM188 262h4v4h-4zM180 266h4v4h-4zM184 274h4v4h-4zM184 278h4v4h-4z"/><path fill="#9c5490" d="M192 259h4v3h-4z"/><path fill="#9f518d" d="M196 259h4v3h-4z"/><path fill="#c36078" d="M235 259h4v3h-4z"/><path fill="#ae5a84" d="M243 259h4v3h-4zM243 262h4v4h-4z"/><path fill="#a85787" d="M247 259h4v3h-4zM200 262h4v4h-4zM247 262h4v4h-4zM251 262h4v4h-4zM204 266h4v4h-4zM247 266h4v4h-4zM251 266h4v4h-4zM208 270h4v4h-4zM247 270h4v4h-4zM259 270h4v4h-4zM208 274h4v4h-4zM212 274h4v4h-4zM247 274h4v4h-4zM259 274h4v4h-4zM212 278h4v4h-4zM259 278h4v4h-4z"/><path fill="#a5548d" d="M255 259h4v3h-4zM259 262h4v4h-4zM263 262h4v4h-4z"/><path fill="#a8548a" d="M259 259h4v3h-4zM255 262h4v4h-4zM267 262h4v4h-4zM255 266h4v4h-4z"/><path fill="#ab548a" d="M267 259h4v3h-4z"/><path fill="#96518d" d="M176 262h4v4h-4zM172 270h4v4h-4zM168 274h4v4h-4z"/><path fill="#995190" d="M184 262h4v4h-4zM184 266h4v4h-4zM196 266h4v4h-4z"/><path fill="#9c548d" d="M192 262h4v4h-4zM188 266h4v4h-4zM188 270h4v4h-4zM196 278h4v4h-4z"/><path fill="#9c5190" d="M196 262h4v4h-4z"/><path fill="#c96372" d="M231 262h4v4h-4z"/><path fill="#99518a" d="M168 266h4v4h-4zM172 266h4v4h-4zM172 278h4v4h-4z"/><path fill="#c06078" d="M235 266h4v4h-4z"/><path fill="#a55787" d="M204 270h4v4h-4zM247 278h4v4h-4z"/><path fill="#b75d7e" d="M239 270h4v4h-4z"/><path fill="#ae5a81" d="M243 270h4v4h-4zM243 274h4v4h-4zM243 278h4v4h-4z"/><path fill="#a5548a" d="M255 270h4v4h-4z"/><path fill="#934e90" d="M172 274h4v4h-4z"/><path fill="#99548d" d="M188 274h4v4h-4zM188 278h4v4h-4z"/><path fill="#a25787" d="M196 274h4v4h-4z"/><path fill="#a2578a" d="M204 274h4v4h-4zM208 278h4v4h-4z"/><path fill="#ab5781" d="M160 278h4v4h-4z"/><path fill="#9c548a" d="M168 278h4v4h-4zM176 278h4v4h-4zM192 278h4v4h-4z"/><path fill="#b75d7b" d="M235 278h4v4h-4z"/><path fill="#a5578a" d="M255 278h4v4h-4z"/></g>
<g transform="translate(150.50 125.50)">
<path fill="#97b6e1" d="M0 0 L84.5 0 L84.5 2.5 L10.8 2.5 L10.8 10.8 L15.3 10.8 L15.3 14.6 L23.6 14.6 L23.6 19 L25.5 19 L25.5 26.8 L23.6 26.8 L23.6 31.2 L19 31.2 L19 34.4 L15.3 34.4 L15.3 38.2 L12.1 38.2 L12.1 42.7 L9 42.7 L9 38.2 L5 38.2 L5 42.7 L2.5 42.7 L2.5 154 L0 154Z"/>
<path fill="#bf5a78" d="M8.3 15.3 L12.1 15.3 L12.1 23 L8.3 23Z"/>
<path fill="#97b6e1" d="M22 151 L125 151 L125 156 L22 156Z"/>
<path fill="#97b6e1" d="M0 118 L4 118 L4 156 L0 156Z"/>
<path fill="#97b6e1" d="M159.3 0 L163 0 L163 102 L159.3 102Z"/>
<path fill="#97b6e1" d="M152 28 L158 28 L158 31.5 L152 31.5Z"/>
</g>
<g transform="translate(150.50 125.50)">
<path d="M155 30 L153.5 30.5 L150.5 31.3 L147.5 33 L144 35.5 L140.5 39.5 L137.3 43.5 L135.5 47.5 L134 52 L132.5 56.5 L131 61 L129.5 65.5 L127.5 70 L125.5 74.5 L123.5 79.5 L121 84.5 L119 89.5 L117.5 94.5 L116 98.5 L114.3 101.6 L111.5 103.8 L110 106.6 L109.3 110.9 L110 113.7 L111.5 115.9 L110.8 119.5 L111.5 122.3 L115.7 123.7 L117.9 125.9 L119.3 129.4 L120.7 133.7 L122.9 138 L124 142.2 L124.6 147.9 L125 152.9 L125.2 156.5 L165.5 156.5 L165.5 98.5 L160.9 98.1 L159.9 100.7 L157.3 101.8 L154.1 100.7 L152 98.1 L151 95 L151.5 91.8 L152 88.7 L153.6 86 L155.7 82.9 L155.2 80.3 L154.1 82.4 L151.5 82.4 L151.5 80.3 L152.5 77.1 L151.1 74 L149.5 71.5 L147.7 68 L147.8 65 L148.9 59.5 L149.8 54.5 L150.3 50.5 L151.7 46.5 L152.5 41.5 L153.5 36.5 L154.5 33.5 L155.5 31.5Z" fill="#f0f0dc"/>
<path d="M23.1 -15.8L27.3 170.4M46.3 -16.3L50.5 169.9M69.5 -16.7L73.7 169.5M92.7 -17.1L96.9 169.1M115.9 -17.6L120.1 168.6M139.1 -18L143.3 168.2M-18 14.3L176.9 10.7M-17.5 33.9L177.3 30.3M-17.1 53.5L177.8 49.9M-16.7 73.1L178.2 69.5M-16.2 92.7L178.7 89.1M-15.8 112.3L179.1 108.7M-15.3 131.9L179.5 128.3M-14.9 151.5L180 147.9" fill="none" stroke="#b4b4b4" stroke-width="1.1"/>
<path d="M155 30 L153.5 30.5 L150.5 31.3 L147.5 33 L144 35.5 L140.5 39.5 L137.3 43.5 L135.5 47.5 L134 52 L132.5 56.5 L131 61 L129.5 65.5 L127.5 70 L125.5 74.5 L123.5 79.5 L121 84.5 L119 89.5 L117.5 94.5 L116 98.5 L114.3 101.6 L111.5 103.8 L110 106.6 L109.3 110.9 L110 113.7 L111.5 115.9 L110.8 119.5 L111.5 122.3 L115.7 123.7 L117.9 125.9 L119.3 129.4 L120.7 133.7 L122.9 138 L124 142.2 L124.6 147.9 L125 152.9 L125.2 156.5 M160.9 98.1 L159.9 100.7 L157.3 101.8 L154.1 100.7 L152 98.1 L151 95 L151.5 91.8 L152 88.7 L153.6 86 L155.7 82.9 L155.2 80.3 L154.1 82.4 L151.5 82.4 L151.5 80.3 L152.5 77.1 L151.1 74 L149.5 71.5 L147.7 68 L147.8 65 L148.9 59.5 L149.8 54.5 L150.3 50.5 L151.7 46.5 L152.5 41.5 L153.5 36.5 L154.5 33.5 L155.5 31.5 L155 30" fill="none" stroke="#707070" stroke-width="1.4" stroke-linejoin="round"/>
</g></g>
<rect x="150.50" y="125.50" width="162.00" height="154.00" fill="none" stroke="#000" stroke-width="1.1"/>
<text x="150.8" y="114.5" text-anchor="middle" font-size="13.9" textLength="55.38" lengthAdjust="spacingAndGlyphs">112.5°E</text>
<text x="154.2" y="296.8" text-anchor="middle" font-size="13.9" textLength="55.38" lengthAdjust="spacingAndGlyphs">112.5°E</text>
<text x="220.4" y="114.5" text-anchor="middle" font-size="13.9" textLength="64.12" lengthAdjust="spacingAndGlyphs">113.25°E</text>
<text x="223.8" y="296.8" text-anchor="middle" font-size="13.9" textLength="64.12" lengthAdjust="spacingAndGlyphs">113.25°E</text>
<text x="290" y="114.5" text-anchor="middle" font-size="13.9" textLength="42.25" lengthAdjust="spacingAndGlyphs">114°E</text>
<text x="293.4" y="296.8" text-anchor="middle" font-size="13.9" textLength="42.25" lengthAdjust="spacingAndGlyphs">114°E</text>
<text x="143.3" y="144.4" text-anchor="end" font-size="13.9" textLength="46.62" lengthAdjust="spacingAndGlyphs">21.6°S</text>
<text x="143.3" y="164" text-anchor="end" font-size="13.9" textLength="46.62" lengthAdjust="spacingAndGlyphs">21.8°S</text>
<text x="143.3" y="183.6" text-anchor="end" font-size="13.9" textLength="33.25" lengthAdjust="spacingAndGlyphs">22°S</text>
<text x="143.3" y="203.2" text-anchor="end" font-size="13.9" textLength="46.62" lengthAdjust="spacingAndGlyphs">22.2°S</text>
<text x="143.3" y="222.8" text-anchor="end" font-size="13.9" textLength="46.62" lengthAdjust="spacingAndGlyphs">22.4°S</text>
<text x="143.3" y="242.4" text-anchor="end" font-size="13.9" textLength="46.62" lengthAdjust="spacingAndGlyphs">22.6°S</text>
<text x="143.3" y="262" text-anchor="end" font-size="13.9" textLength="46.62" lengthAdjust="spacingAndGlyphs">22.8°S</text>
<text x="143.3" y="281.6" text-anchor="end" font-size="13.9" textLength="33.25" lengthAdjust="spacingAndGlyphs">23°S</text>
<rect x="322.61" y="171.3" width="3.1" height="62.2" fill="url(#cb0)" stroke="#000" stroke-width="0.9"/>
<path d="M325.71 176.4h4.8" stroke="#000" stroke-width="0.9"/>
<text x="335.31" y="181.4" font-size="13.9" textLength="39.38" lengthAdjust="spacingAndGlyphs">302.5</text>
<path d="M325.71 202.3h4.8" stroke="#000" stroke-width="0.9"/>
<text x="335.31" y="207.3" font-size="13.9" textLength="39.38" lengthAdjust="spacingAndGlyphs">300.0</text>
<path d="M325.71 228.2h4.8" stroke="#000" stroke-width="0.9"/>
<text x="335.31" y="233.2" font-size="13.9" textLength="39.5" lengthAdjust="spacingAndGlyphs">297.5</text>
<text x="406.30" y="95.6" font-size="17.9" textLength="110.10" lengthAdjust="spacingAndGlyphs">dSST/dt [K hr</text>
<rect x="517.90" y="85.2" width="7.8" height="1.1" fill="#000"/>
<text x="527.40" y="88.75" font-size="11.67">1</text>
<text x="536.00" y="94.8" font-size="17.9">]</text>
<clipPath id="mc1"><rect x="393.50" y="125.50" width="162.00" height="154.00"/></clipPath>
<g clip-path="url(#mc1)">
<rect x="393.50" y="125.50" width="162.00" height="154.00" fill="#97b6e1"/>
<g shape-rendering="crispEdges"><path fill="#f9ede4" d="M391 124h4v4h-4zM395 124h4v4h-4zM447 124h4v4h-4zM463 124h3v4h-3zM470 124h4v4h-4zM478 124h4v4h-4zM506 124h4v4h-4zM518 124h4v4h-4zM530 124h4v4h-4zM518 128h4v4h-4zM447 132h4v4h-4zM466 132h4v4h-4zM514 132h4v4h-4zM447 136h4v4h-4zM391 140h4v4h-4zM443 140h4v4h-4zM490 140h4v4h-4zM542 140h4v4h-4zM419 144h4v4h-4zM502 144h4v4h-4zM518 144h4v4h-4zM538 144h4v4h-4zM474 152h4v4h-4zM498 152h4v4h-4zM538 152h4v4h-4zM455 156h4v4h-4zM470 156h4v4h-4zM526 156h4v4h-4zM423 164h4v4h-4zM427 164h4v4h-4zM443 164h4v4h-4zM463 164h3v4h-3zM490 164h4v4h-4zM502 164h4v4h-4zM522 164h4v4h-4zM526 164h4v4h-4zM407 168h4v4h-4zM427 168h4v4h-4zM447 168h4v4h-4zM451 168h4v4h-4zM463 168h3v4h-3zM466 168h4v4h-4zM391 172h4v4h-4zM510 172h4v4h-4zM391 176h4v4h-4zM395 176h4v4h-4zM431 176h4v4h-4zM455 176h4v4h-4zM466 176h4v4h-4zM510 176h4v4h-4zM514 176h4v4h-4zM431 180h4v4h-4zM455 180h4v4h-4zM459 180h4v4h-4zM482 180h4v4h-4zM510 180h4v4h-4zM395 184h4v3h-4zM435 184h4v3h-4zM455 184h4v3h-4zM482 184h4v3h-4zM395 187h4v4h-4zM482 187h4v4h-4zM510 187h4v4h-4zM395 191h4v4h-4zM399 191h4v4h-4zM443 191h4v4h-4zM451 191h4v4h-4zM395 195h4v4h-4zM399 195h4v4h-4zM403 195h4v4h-4zM439 195h4v4h-4zM470 195h4v4h-4zM443 199h4v4h-4zM474 199h4v4h-4zM478 199h4v4h-4zM498 199h4v4h-4zM415 203h4v4h-4zM455 203h4v4h-4zM463 203h3v4h-3zM470 203h4v4h-4zM498 203h4v4h-4zM510 203h4v4h-4zM415 207h4v4h-4zM423 207h4v4h-4zM463 207h3v4h-3zM466 207h4v4h-4zM470 207h4v4h-4zM478 207h4v4h-4zM391 211h4v4h-4zM403 211h4v4h-4zM415 211h4v4h-4zM423 211h4v4h-4zM463 211h3v4h-3zM478 211h4v4h-4zM423 215h4v4h-4zM474 215h4v4h-4zM391 219h4v4h-4zM419 219h4v4h-4zM427 219h4v4h-4zM451 219h4v4h-4zM395 223h4v4h-4zM423 223h4v4h-4zM411 227h4v4h-4zM391 231h4v4h-4zM403 231h4v4h-4zM470 231h4v4h-4zM403 235h4v4h-4zM411 235h4v4h-4zM482 235h4v4h-4zM486 235h4v4h-4zM407 239h4v4h-4zM411 239h4v4h-4zM455 239h4v4h-4zM455 243h4v4h-4zM463 243h3v4h-3zM502 243h4v4h-4zM423 247h4v4h-4zM494 247h4v4h-4zM502 247h4v4h-4zM502 251h4v4h-4zM407 255h4v4h-4zM498 255h4v4h-4zM423 259h4v3h-4zM455 262h4v4h-4zM482 262h4v4h-4zM391 270h4v4h-4zM478 270h4v4h-4zM395 274h4v4h-4zM478 274h4v4h-4zM486 274h4v4h-4zM506 278h4v4h-4zM514 278h4v4h-4z"/><path fill="#f9ede1" d="M399 124h4v4h-4zM474 124h4v4h-4zM534 124h4v4h-4zM478 132h4v4h-4zM530 132h4v4h-4zM553 132h4v4h-4zM415 140h4v4h-4zM486 144h4v4h-4zM498 144h4v4h-4zM399 148h4v4h-4zM435 148h4v4h-4zM459 156h4v4h-4zM534 160h4v4h-4zM407 164h4v4h-4zM526 168h4v4h-4zM435 172h4v4h-4zM443 172h4v4h-4zM439 176h4v4h-4zM443 176h4v4h-4zM514 180h4v4h-4zM518 180h4v4h-4zM407 184h4v3h-4zM451 187h4v4h-4zM514 187h4v4h-4zM419 199h4v4h-4zM439 199h4v4h-4zM466 199h4v4h-4zM514 203h4v4h-4zM419 207h4v4h-4zM395 211h4v4h-4zM459 211h4v4h-4zM470 211h4v4h-4zM470 215h4v4h-4zM498 215h4v4h-4zM447 219h4v4h-4zM506 223h4v4h-4zM447 235h4v4h-4zM427 239h4v4h-4zM478 243h4v4h-4zM478 259h4v3h-4zM482 266h4v4h-4z"/><path fill="#f9e7db" d="M403 124h4v4h-4zM443 124h4v4h-4zM459 124h4v4h-4zM526 124h4v4h-4zM391 128h4v4h-4zM423 128h4v4h-4zM427 128h4v4h-4zM439 128h4v4h-4zM443 128h4v4h-4zM455 128h4v4h-4zM463 128h3v4h-3zM553 128h4v4h-4zM403 132h4v4h-4zM407 132h4v4h-4zM411 132h4v4h-4zM419 132h4v4h-4zM423 132h4v4h-4zM427 132h4v4h-4zM451 132h4v4h-4zM459 132h4v4h-4zM522 132h4v4h-4zM534 132h4v4h-4zM549 132h4v4h-4zM415 136h4v4h-4zM427 136h4v4h-4zM466 136h4v4h-4zM470 136h4v4h-4zM510 136h4v4h-4zM526 136h4v4h-4zM530 136h4v4h-4zM542 136h4v4h-4zM553 136h4v4h-4zM455 140h4v4h-4zM459 140h4v4h-4zM470 140h4v4h-4zM518 140h4v4h-4zM522 140h4v4h-4zM553 140h4v4h-4zM407 144h4v4h-4zM455 144h4v4h-4zM470 144h4v4h-4zM514 144h4v4h-4zM542 144h4v4h-4zM391 148h4v4h-4zM415 148h4v4h-4zM439 148h4v4h-4zM478 148h4v4h-4zM486 148h4v4h-4zM502 148h4v4h-4zM542 148h4v4h-4zM546 148h3v4h-3zM395 152h4v4h-4zM399 152h4v4h-4zM411 152h4v4h-4zM439 152h4v4h-4zM490 152h4v4h-4zM502 152h4v4h-4zM510 152h4v4h-4zM514 152h4v4h-4zM530 152h4v4h-4zM542 152h4v4h-4zM435 156h4v4h-4zM439 156h4v4h-4zM447 156h4v4h-4zM478 156h4v4h-4zM498 156h4v4h-4zM506 156h4v4h-4zM534 156h4v4h-4zM403 160h4v4h-4zM407 160h4v4h-4zM443 160h4v4h-4zM447 160h4v4h-4zM451 160h4v4h-4zM478 160h4v4h-4zM482 160h4v4h-4zM490 160h4v4h-4zM498 160h4v4h-4zM510 160h4v4h-4zM514 160h4v4h-4zM391 164h4v4h-4zM395 164h4v4h-4zM431 164h4v4h-4zM451 164h4v4h-4zM459 164h4v4h-4zM470 164h4v4h-4zM478 164h4v4h-4zM486 164h4v4h-4zM510 164h4v4h-4zM395 168h4v4h-4zM423 168h4v4h-4zM439 168h4v4h-4zM455 168h4v4h-4zM459 168h4v4h-4zM474 168h4v4h-4zM498 168h4v4h-4zM506 168h4v4h-4zM403 172h4v4h-4zM411 172h4v4h-4zM447 172h4v4h-4zM451 172h4v4h-4zM463 172h3v4h-3zM470 172h4v4h-4zM478 172h4v4h-4zM482 172h4v4h-4zM498 172h4v4h-4zM506 172h4v4h-4zM514 172h4v4h-4zM518 172h4v4h-4zM522 172h4v4h-4zM526 172h4v4h-4zM399 176h4v4h-4zM403 176h4v4h-4zM407 176h4v4h-4zM435 176h4v4h-4zM447 176h4v4h-4zM478 176h4v4h-4zM494 176h4v4h-4zM506 176h4v4h-4zM399 180h4v4h-4zM403 180h4v4h-4zM423 180h4v4h-4zM427 180h4v4h-4zM435 180h4v4h-4zM490 180h4v4h-4zM494 180h4v4h-4zM498 180h4v4h-4zM399 184h4v3h-4zM419 184h4v3h-4zM423 184h4v3h-4zM439 184h4v3h-4zM466 184h4v3h-4zM478 184h4v3h-4zM494 184h4v3h-4zM399 187h4v4h-4zM419 187h4v4h-4zM431 187h4v4h-4zM439 187h4v4h-4zM455 187h4v4h-4zM463 187h3v4h-3zM466 187h4v4h-4zM494 187h4v4h-4zM502 187h4v4h-4zM518 187h4v4h-4zM391 191h4v4h-4zM478 191h4v4h-4zM391 195h4v4h-4zM407 195h4v4h-4zM415 195h4v4h-4zM419 195h4v4h-4zM423 195h4v4h-4zM443 195h4v4h-4zM466 195h4v4h-4zM490 195h4v4h-4zM502 195h4v4h-4zM415 199h4v4h-4zM431 199h4v4h-4zM447 199h4v4h-4zM451 199h4v4h-4zM486 199h4v4h-4zM391 203h4v4h-4zM423 203h4v4h-4zM435 203h4v4h-4zM439 207h4v4h-4zM443 207h4v4h-4zM451 207h4v4h-4zM482 207h4v4h-4zM494 207h4v4h-4zM510 207h4v4h-4zM443 211h4v4h-4zM510 211h4v4h-4zM403 215h4v4h-4zM435 215h4v4h-4zM443 215h4v4h-4zM455 215h4v4h-4zM459 215h4v4h-4zM415 219h4v4h-4zM439 219h4v4h-4zM455 219h4v4h-4zM463 219h3v4h-3zM502 219h4v4h-4zM391 223h4v4h-4zM427 223h4v4h-4zM443 223h4v4h-4zM455 223h4v4h-4zM459 223h4v4h-4zM463 223h3v4h-3zM466 223h4v4h-4zM470 223h4v4h-4zM407 227h4v4h-4zM423 227h4v4h-4zM431 227h4v4h-4zM443 227h4v4h-4zM466 227h4v4h-4zM470 227h4v4h-4zM474 227h4v4h-4zM478 227h4v4h-4zM498 227h4v4h-4zM399 231h4v4h-4zM439 231h4v4h-4zM447 231h4v4h-4zM451 231h4v4h-4zM455 231h4v4h-4zM395 235h4v4h-4zM399 235h4v4h-4zM423 235h4v4h-4zM431 235h4v4h-4zM435 235h4v4h-4zM451 235h4v4h-4zM478 235h4v4h-4zM494 235h4v4h-4zM415 239h4v4h-4zM435 239h4v4h-4zM459 239h4v4h-4zM498 239h4v4h-4zM395 243h4v4h-4zM415 243h4v4h-4zM443 243h4v4h-4zM447 243h4v4h-4zM466 243h4v4h-4zM486 243h4v4h-4zM407 247h4v4h-4zM427 247h4v4h-4zM439 247h4v4h-4zM443 247h4v4h-4zM447 247h4v4h-4zM451 247h4v4h-4zM478 247h4v4h-4zM415 251h4v4h-4zM427 251h4v4h-4zM447 251h4v4h-4zM470 251h4v4h-4zM490 251h4v4h-4zM506 251h4v4h-4zM403 255h4v4h-4zM411 255h4v4h-4zM443 255h4v4h-4zM447 255h4v4h-4zM451 255h4v4h-4zM470 255h4v4h-4zM478 255h4v4h-4zM391 259h4v3h-4zM494 259h4v3h-4zM506 259h4v3h-4zM399 262h4v4h-4zM407 262h4v4h-4zM427 262h4v4h-4zM435 262h4v4h-4zM459 262h4v4h-4zM470 262h4v4h-4zM486 262h4v4h-4zM494 262h4v4h-4zM510 262h4v4h-4zM395 266h4v4h-4zM411 266h4v4h-4zM427 266h4v4h-4zM435 266h4v4h-4zM463 266h3v4h-3zM466 266h4v4h-4zM474 266h4v4h-4zM502 266h4v4h-4zM395 270h4v4h-4zM419 270h4v4h-4zM427 270h4v4h-4zM443 270h4v4h-4zM482 270h4v4h-4zM486 270h4v4h-4zM510 270h4v4h-4zM514 270h4v4h-4zM419 274h4v4h-4zM427 274h4v4h-4zM447 274h4v4h-4zM455 274h4v4h-4zM459 274h4v4h-4zM470 274h4v4h-4zM490 274h4v4h-4zM498 274h4v4h-4zM451 278h4v4h-4zM494 278h4v4h-4zM502 278h4v4h-4z"/><path fill="#f9e4d8" d="M407 124h4v4h-4zM439 124h4v4h-4zM451 124h4v4h-4zM466 124h4v4h-4zM494 124h4v4h-4zM546 124h3v4h-3zM549 124h4v4h-4zM553 124h4v4h-4zM411 128h4v4h-4zM522 128h4v4h-4zM546 128h3v4h-3zM391 132h4v4h-4zM395 132h4v4h-4zM399 132h4v4h-4zM415 132h4v4h-4zM443 132h4v4h-4zM463 132h3v4h-3zM470 132h4v4h-4zM395 136h4v4h-4zM399 136h4v4h-4zM411 136h4v4h-4zM431 136h4v4h-4zM451 136h4v4h-4zM463 136h3v4h-3zM518 136h4v4h-4zM522 136h4v4h-4zM538 136h4v4h-4zM395 140h4v4h-4zM411 140h4v4h-4zM451 140h4v4h-4zM463 140h3v4h-3zM510 140h4v4h-4zM526 140h4v4h-4zM530 140h4v4h-4zM534 140h4v4h-4zM549 140h4v4h-4zM391 144h4v4h-4zM427 144h4v4h-4zM478 144h4v4h-4zM490 144h4v4h-4zM510 144h4v4h-4zM530 144h4v4h-4zM407 148h4v4h-4zM470 148h4v4h-4zM474 148h4v4h-4zM490 148h4v4h-4zM506 148h4v4h-4zM514 148h4v4h-4zM518 148h4v4h-4zM522 148h4v4h-4zM526 148h4v4h-4zM549 148h4v4h-4zM391 152h4v4h-4zM403 152h4v4h-4zM407 152h4v4h-4zM447 152h4v4h-4zM506 152h4v4h-4zM518 152h4v4h-4zM534 152h4v4h-4zM553 152h4v4h-4zM395 156h4v4h-4zM399 156h4v4h-4zM407 156h4v4h-4zM415 156h4v4h-4zM419 156h4v4h-4zM443 156h4v4h-4zM490 156h4v4h-4zM518 156h4v4h-4zM553 156h4v4h-4zM391 160h4v4h-4zM427 160h4v4h-4zM431 160h4v4h-4zM494 160h4v4h-4zM502 160h4v4h-4zM506 160h4v4h-4zM415 164h4v4h-4zM474 164h4v4h-4zM514 164h4v4h-4zM415 168h4v4h-4zM419 168h4v4h-4zM522 168h4v4h-4zM427 172h4v4h-4zM474 172h4v4h-4zM494 172h4v4h-4zM419 176h4v4h-4zM423 176h4v4h-4zM474 176h4v4h-4zM490 176h4v4h-4zM411 180h4v4h-4zM439 180h4v4h-4zM391 184h4v3h-4zM403 184h4v3h-4zM443 184h4v3h-4zM463 184h3v3h-3zM486 184h4v3h-4zM490 184h4v3h-4zM407 187h4v4h-4zM423 187h4v4h-4zM459 187h4v4h-4zM470 187h4v4h-4zM474 187h4v4h-4zM486 187h4v4h-4zM490 187h4v4h-4zM415 191h4v4h-4zM423 191h4v4h-4zM427 191h4v4h-4zM431 191h4v4h-4zM474 191h4v4h-4zM490 191h4v4h-4zM494 191h4v4h-4zM498 191h4v4h-4zM506 191h4v4h-4zM514 191h4v4h-4zM518 191h4v4h-4zM427 195h4v4h-4zM478 195h4v4h-4zM482 195h4v4h-4zM486 195h4v4h-4zM498 195h4v4h-4zM506 195h4v4h-4zM514 195h4v4h-4zM391 199h4v4h-4zM411 199h4v4h-4zM427 199h4v4h-4zM490 199h4v4h-4zM486 203h4v4h-4zM502 203h4v4h-4zM506 203h4v4h-4zM447 207h4v4h-4zM486 207h4v4h-4zM502 207h4v4h-4zM506 207h4v4h-4zM431 211h4v4h-4zM447 211h4v4h-4zM490 211h4v4h-4zM411 215h4v4h-4zM439 215h4v4h-4zM447 215h4v4h-4zM451 215h4v4h-4zM466 215h4v4h-4zM490 215h4v4h-4zM506 215h4v4h-4zM395 219h4v4h-4zM411 219h4v4h-4zM435 219h4v4h-4zM470 219h4v4h-4zM411 223h4v4h-4zM415 223h4v4h-4zM435 223h4v4h-4zM474 223h4v4h-4zM490 223h4v4h-4zM498 223h4v4h-4zM502 223h4v4h-4zM395 227h4v4h-4zM403 227h4v4h-4zM415 227h4v4h-4zM447 227h4v4h-4zM490 227h4v4h-4zM423 231h4v4h-4zM466 231h4v4h-4zM474 231h4v4h-4zM498 231h4v4h-4zM439 235h4v4h-4zM474 235h4v4h-4zM498 235h4v4h-4zM391 239h4v4h-4zM399 239h4v4h-4zM419 239h4v4h-4zM466 239h4v4h-4zM470 239h4v4h-4zM474 239h4v4h-4zM490 239h4v4h-4zM494 239h4v4h-4zM502 239h4v4h-4zM411 243h4v4h-4zM470 247h4v4h-4zM474 247h4v4h-4zM451 251h4v4h-4zM459 251h4v4h-4zM463 251h3v4h-3zM466 251h4v4h-4zM478 251h4v4h-4zM391 255h4v4h-4zM431 255h4v4h-4zM455 255h4v4h-4zM463 255h3v4h-3zM474 255h4v4h-4zM490 255h4v4h-4zM463 259h3v3h-3zM490 259h4v3h-4zM510 259h4v3h-4zM391 262h4v4h-4zM395 262h4v4h-4zM419 262h4v4h-4zM463 262h3v4h-3zM490 262h4v4h-4zM498 262h4v4h-4zM502 262h4v4h-4zM514 262h4v4h-4zM419 266h4v4h-4zM423 266h4v4h-4zM443 266h4v4h-4zM455 266h4v4h-4zM459 266h4v4h-4zM470 266h4v4h-4zM486 266h4v4h-4zM490 266h4v4h-4zM506 266h4v4h-4zM514 266h4v4h-4zM411 270h4v4h-4zM415 270h4v4h-4zM423 270h4v4h-4zM435 270h4v4h-4zM439 270h4v4h-4zM455 270h4v4h-4zM459 270h4v4h-4zM494 270h4v4h-4zM403 274h4v4h-4zM407 274h4v4h-4zM435 274h4v4h-4zM439 274h4v4h-4zM451 274h4v4h-4zM463 274h3v4h-3zM494 274h4v4h-4zM506 274h4v4h-4zM510 274h4v4h-4zM403 278h4v4h-4zM427 278h4v4h-4zM435 278h4v4h-4zM447 278h4v4h-4zM455 278h4v4h-4zM459 278h4v4h-4zM490 278h4v4h-4z"/><path fill="#f9e7d8" d="M411 124h4v4h-4zM459 136h4v4h-4zM439 164h4v4h-4zM419 203h4v4h-4z"/><path fill="#f9eade" d="M415 124h4v4h-4zM423 124h4v4h-4zM427 124h4v4h-4zM538 124h4v4h-4zM459 128h4v4h-4zM466 128h4v4h-4zM419 136h4v4h-4zM549 136h4v4h-4zM419 140h4v4h-4zM423 140h4v4h-4zM431 140h4v4h-4zM435 140h4v4h-4zM447 140h4v4h-4zM486 140h4v4h-4zM395 144h4v4h-4zM403 144h4v4h-4zM415 144h4v4h-4zM423 144h4v4h-4zM439 144h4v4h-4zM443 144h4v4h-4zM459 144h4v4h-4zM506 144h4v4h-4zM522 144h4v4h-4zM526 144h4v4h-4zM549 144h4v4h-4zM403 148h4v4h-4zM431 148h4v4h-4zM459 148h4v4h-4zM494 148h4v4h-4zM530 148h4v4h-4zM534 148h4v4h-4zM435 152h4v4h-4zM463 152h3v4h-3zM486 152h4v4h-4zM494 152h4v4h-4zM526 152h4v4h-4zM411 156h4v4h-4zM451 156h4v4h-4zM466 156h4v4h-4zM538 156h4v4h-4zM395 160h4v4h-4zM415 160h4v4h-4zM423 160h4v4h-4zM459 160h4v4h-4zM470 160h4v4h-4zM486 160h4v4h-4zM494 164h4v4h-4zM498 164h4v4h-4zM403 168h4v4h-4zM443 168h4v4h-4zM399 172h4v4h-4zM431 172h4v4h-4zM466 172h4v4h-4zM502 172h4v4h-4zM451 176h4v4h-4zM498 176h4v4h-4zM395 180h4v4h-4zM415 180h4v4h-4zM443 180h4v4h-4zM474 180h4v4h-4zM447 184h4v3h-4zM518 184h4v3h-4zM498 187h4v4h-4zM435 191h4v4h-4zM470 191h4v4h-4zM482 191h4v4h-4zM447 195h4v4h-4zM510 195h4v4h-4zM435 199h4v4h-4zM482 199h4v4h-4zM494 199h4v4h-4zM395 203h4v4h-4zM439 203h4v4h-4zM459 203h4v4h-4zM494 203h4v4h-4zM459 207h4v4h-4zM498 207h4v4h-4zM399 211h4v4h-4zM435 211h4v4h-4zM439 211h4v4h-4zM498 211h4v4h-4zM399 215h4v4h-4zM419 215h4v4h-4zM427 215h4v4h-4zM431 215h4v4h-4zM478 215h4v4h-4zM494 215h4v4h-4zM474 219h4v4h-4zM478 219h4v4h-4zM490 219h4v4h-4zM494 219h4v4h-4zM498 219h4v4h-4zM391 227h4v4h-4zM439 227h4v4h-4zM502 227h4v4h-4zM415 231h4v4h-4zM431 231h4v4h-4zM443 231h4v4h-4zM463 231h3v4h-3zM482 231h4v4h-4zM443 235h4v4h-4zM455 235h4v4h-4zM470 235h4v4h-4zM490 235h4v4h-4zM403 239h4v4h-4zM463 239h3v4h-3zM482 239h4v4h-4zM419 243h4v4h-4zM415 247h4v4h-4zM419 247h4v4h-4zM498 247h4v4h-4zM443 251h4v4h-4zM498 251h4v4h-4zM423 255h4v4h-4zM482 255h4v4h-4zM510 255h4v4h-4zM403 259h4v3h-4zM498 259h4v3h-4zM502 259h4v3h-4zM403 262h4v4h-4zM474 262h4v4h-4zM506 262h4v4h-4zM403 266h4v4h-4zM415 266h4v4h-4zM494 266h4v4h-4zM498 266h4v4h-4zM431 270h4v4h-4zM463 270h3v4h-3zM502 270h4v4h-4zM399 274h4v4h-4zM514 274h4v4h-4zM407 278h4v4h-4zM415 278h4v4h-4zM482 278h4v4h-4zM486 278h4v4h-4z"/><path fill="#f9eae1" d="M419 124h4v4h-4zM482 124h4v4h-4zM490 124h4v4h-4zM542 124h4v4h-4zM407 128h4v4h-4zM470 128h4v4h-4zM474 128h4v4h-4zM549 128h4v4h-4zM455 132h4v4h-4zM474 132h4v4h-4zM518 132h4v4h-4zM526 132h4v4h-4zM391 136h4v4h-4zM423 136h4v4h-4zM443 136h4v4h-4zM474 136h4v4h-4zM486 136h4v4h-4zM514 136h4v4h-4zM439 140h4v4h-4zM478 140h4v4h-4zM502 140h4v4h-4zM514 140h4v4h-4zM546 140h3v4h-3zM399 144h4v4h-4zM411 144h4v4h-4zM431 144h4v4h-4zM447 144h4v4h-4zM482 144h4v4h-4zM494 144h4v4h-4zM553 144h4v4h-4zM482 148h4v4h-4zM553 148h4v4h-4zM459 152h4v4h-4zM466 152h4v4h-4zM470 152h4v4h-4zM522 152h4v4h-4zM463 156h3v4h-3zM474 156h4v4h-4zM514 156h4v4h-4zM399 160h4v4h-4zM419 160h4v4h-4zM463 160h3v4h-3zM522 160h4v4h-4zM419 164h4v4h-4zM530 164h4v4h-4zM399 168h4v4h-4zM411 168h4v4h-4zM431 168h4v4h-4zM482 168h4v4h-4zM510 168h4v4h-4zM395 172h4v4h-4zM407 172h4v4h-4zM439 172h4v4h-4zM470 176h4v4h-4zM482 176h4v4h-4zM502 176h4v4h-4zM518 176h4v4h-4zM419 180h4v4h-4zM478 180h4v4h-4zM506 180h4v4h-4zM451 184h4v3h-4zM459 184h4v3h-4zM391 187h4v4h-4zM478 187h4v4h-4zM447 191h4v4h-4zM463 191h3v4h-3zM466 191h4v4h-4zM510 191h4v4h-4zM435 195h4v4h-4zM451 195h4v4h-4zM455 195h4v4h-4zM474 195h4v4h-4zM395 199h4v4h-4zM399 199h4v4h-4zM403 199h4v4h-4zM459 199h4v4h-4zM463 199h3v4h-3zM470 199h4v4h-4zM502 199h4v4h-4zM506 199h4v4h-4zM411 203h4v4h-4zM427 203h4v4h-4zM451 203h4v4h-4zM391 207h4v4h-4zM395 207h4v4h-4zM411 207h4v4h-4zM427 207h4v4h-4zM419 211h4v4h-4zM427 211h4v4h-4zM466 211h4v4h-4zM494 211h4v4h-4zM502 211h4v4h-4zM415 215h4v4h-4zM463 215h3v4h-3zM502 215h4v4h-4zM399 219h4v4h-4zM407 219h4v4h-4zM443 219h4v4h-4zM399 223h4v4h-4zM419 223h4v4h-4zM431 223h4v4h-4zM435 227h4v4h-4zM427 231h4v4h-4zM391 235h4v4h-4zM459 235h4v4h-4zM423 239h4v4h-4zM439 239h4v4h-4zM478 239h4v4h-4zM391 243h4v4h-4zM407 243h4v4h-4zM423 243h4v4h-4zM427 243h4v4h-4zM451 243h4v4h-4zM482 243h4v4h-4zM494 243h4v4h-4zM431 247h4v4h-4zM459 247h4v4h-4zM463 247h3v4h-3zM466 247h4v4h-4zM490 247h4v4h-4zM407 251h4v4h-4zM419 251h4v4h-4zM423 251h4v4h-4zM439 251h4v4h-4zM494 251h4v4h-4zM419 255h4v4h-4zM427 255h4v4h-4zM506 255h4v4h-4zM407 259h4v3h-4zM411 259h4v3h-4zM419 259h4v3h-4zM451 259h4v3h-4zM470 259h4v3h-4zM486 259h4v3h-4zM411 262h4v4h-4zM415 262h4v4h-4zM407 266h4v4h-4zM431 266h4v4h-4zM478 266h4v4h-4zM399 270h4v4h-4zM403 270h4v4h-4zM407 270h4v4h-4zM447 270h4v4h-4zM466 270h4v4h-4zM498 270h4v4h-4zM482 274h4v4h-4zM399 278h4v4h-4zM431 278h4v4h-4zM463 278h3v4h-3zM498 278h4v4h-4z"/><path fill="#f9e1d5" d="M431 124h4v4h-4zM435 124h4v4h-4zM395 128h4v4h-4zM415 128h4v4h-4zM435 128h4v4h-4zM447 128h4v4h-4zM451 128h4v4h-4zM431 132h4v4h-4zM439 132h4v4h-4zM538 132h4v4h-4zM403 136h4v4h-4zM435 136h4v4h-4zM439 136h4v4h-4zM399 140h4v4h-4zM407 140h4v4h-4zM443 148h4v4h-4zM510 148h4v4h-4zM549 152h4v4h-4zM494 156h4v4h-4zM411 160h4v4h-4zM435 164h4v4h-4zM455 164h4v4h-4zM490 168h4v4h-4zM494 168h4v4h-4zM514 168h4v4h-4zM518 168h4v4h-4zM419 172h4v4h-4zM459 172h4v4h-4zM502 180h4v4h-4zM522 180h4v4h-4zM470 184h4v3h-4zM474 184h4v3h-4zM498 184h4v3h-4zM502 184h4v3h-4zM510 184h4v3h-4zM514 184h4v3h-4zM522 184h4v3h-4zM403 187h4v4h-4zM411 187h4v4h-4zM407 191h4v4h-4zM518 195h4v4h-4zM443 203h4v4h-4zM490 203h4v4h-4zM451 211h4v4h-4zM486 211h4v4h-4zM447 223h4v4h-4zM419 227h4v4h-4zM451 227h4v4h-4zM482 227h4v4h-4zM466 235h4v4h-4zM486 239h4v4h-4zM395 247h4v4h-4zM435 251h4v4h-4zM474 251h4v4h-4zM431 259h4v3h-4zM455 259h4v3h-4zM431 262h4v4h-4zM451 270h4v4h-4zM506 270h4v4h-4zM411 274h4v4h-4zM423 274h4v4h-4zM443 274h4v4h-4zM439 278h4v4h-4z"/><path fill="#f9e1d2" d="M455 124h4v4h-4zM526 128h4v4h-4zM530 128h4v4h-4zM542 132h4v4h-4zM407 136h4v4h-4zM466 140h4v4h-4zM466 144h4v4h-4zM423 148h4v4h-4zM415 152h4v4h-4zM431 152h4v4h-4zM443 152h4v4h-4zM391 156h4v4h-4zM399 164h4v4h-4zM423 172h4v4h-4zM486 172h4v4h-4zM490 172h4v4h-4zM427 176h4v4h-4zM411 184h4v3h-4zM415 184h4v3h-4zM411 191h4v4h-4zM486 191h4v4h-4zM411 195h4v4h-4zM490 207h4v4h-4zM486 215h4v4h-4zM403 223h4v4h-4zM451 223h4v4h-4zM494 223h4v4h-4zM431 239h4v4h-4zM435 243h4v4h-4zM403 247h4v4h-4zM411 247h4v4h-4zM395 251h4v4h-4zM403 251h4v4h-4zM459 255h4v4h-4zM466 255h4v4h-4zM399 259h4v3h-4zM427 259h4v3h-4zM459 259h4v3h-4zM482 259h4v3h-4zM439 262h4v4h-4zM466 274h4v4h-4zM466 278h4v4h-4z"/><path fill="#f9f0e7" d="M486 124h4v4h-4zM482 128h4v4h-4zM482 140h4v4h-4zM463 144h3v4h-3zM395 148h4v4h-4zM451 148h4v4h-4zM451 152h4v4h-4zM455 152h4v4h-4zM486 156h4v4h-4zM522 156h4v4h-4zM530 160h4v4h-4zM447 164h4v4h-4zM482 164h4v4h-4zM506 164h4v4h-4zM391 180h4v4h-4zM447 180h4v4h-4zM451 180h4v4h-4zM470 180h4v4h-4zM443 187h4v4h-4zM447 187h4v4h-4zM431 203h4v4h-4zM474 203h4v4h-4zM478 203h4v4h-4zM482 203h4v4h-4zM474 211h4v4h-4zM407 215h4v4h-4zM403 219h4v4h-4zM423 219h4v4h-4zM431 219h4v4h-4zM486 223h4v4h-4zM486 227h4v4h-4zM407 231h4v4h-4zM486 231h4v4h-4zM415 235h4v4h-4zM447 239h4v4h-4zM451 239h4v4h-4zM459 243h4v4h-4zM498 243h4v4h-4zM486 247h4v4h-4zM502 255h4v4h-4zM415 259h4v3h-4zM474 259h4v3h-4zM478 262h4v4h-4zM391 274h4v4h-4zM395 278h4v4h-4zM419 278h4v4h-4zM478 278h4v4h-4z"/><path fill="#f9e7de" d="M498 124h4v4h-4zM399 128h4v4h-4zM403 128h4v4h-4zM419 128h4v4h-4zM431 128h4v4h-4zM542 128h4v4h-4zM455 136h4v4h-4zM534 136h4v4h-4zM546 136h3v4h-3zM474 140h4v4h-4zM498 140h4v4h-4zM506 140h4v4h-4zM534 144h4v4h-4zM463 148h3v4h-3zM466 148h4v4h-4zM538 148h4v4h-4zM478 152h4v4h-4zM482 152h4v4h-4zM502 156h4v4h-4zM510 156h4v4h-4zM530 156h4v4h-4zM455 160h4v4h-4zM474 160h4v4h-4zM518 160h4v4h-4zM403 164h4v4h-4zM391 168h4v4h-4zM435 168h4v4h-4zM470 168h4v4h-4zM478 168h4v4h-4zM415 176h4v4h-4zM459 176h4v4h-4zM486 176h4v4h-4zM522 176h4v4h-4zM407 180h4v4h-4zM486 180h4v4h-4zM427 184h4v3h-4zM431 184h4v3h-4zM415 187h4v4h-4zM435 187h4v4h-4zM506 187h4v4h-4zM403 191h4v4h-4zM419 191h4v4h-4zM439 191h4v4h-4zM455 191h4v4h-4zM459 191h4v4h-4zM502 191h4v4h-4zM431 195h4v4h-4zM459 195h4v4h-4zM494 195h4v4h-4zM423 199h4v4h-4zM455 199h4v4h-4zM510 199h4v4h-4zM466 203h4v4h-4zM431 207h4v4h-4zM435 207h4v4h-4zM455 207h4v4h-4zM455 211h4v4h-4zM482 211h4v4h-4zM506 211h4v4h-4zM395 215h4v4h-4zM482 215h4v4h-4zM482 219h4v4h-4zM486 219h4v4h-4zM427 227h4v4h-4zM463 227h3v4h-3zM494 227h4v4h-4zM395 231h4v4h-4zM419 231h4v4h-4zM435 231h4v4h-4zM459 231h4v4h-4zM490 231h4v4h-4zM494 231h4v4h-4zM419 235h4v4h-4zM427 235h4v4h-4zM463 235h3v4h-3zM474 243h4v4h-4zM490 243h4v4h-4zM455 247h4v4h-4zM482 247h4v4h-4zM431 251h4v4h-4zM455 251h4v4h-4zM482 251h4v4h-4zM486 251h4v4h-4zM486 255h4v4h-4zM494 255h4v4h-4zM395 259h4v3h-4zM466 262h4v4h-4zM399 266h4v4h-4zM439 266h4v4h-4zM510 266h4v4h-4zM470 270h4v4h-4zM474 270h4v4h-4zM490 270h4v4h-4zM415 274h4v4h-4zM474 274h4v4h-4zM502 274h4v4h-4zM423 278h4v4h-4zM474 278h4v4h-4z"/><path fill="#f9ede7" d="M502 124h4v4h-4zM510 124h4v4h-4zM510 128h4v4h-4zM514 128h4v4h-4zM478 136h4v4h-4zM482 136h4v4h-4zM538 140h4v4h-4zM435 144h4v4h-4zM498 148h4v4h-4zM466 180h4v4h-4zM463 195h3v4h-3zM474 207h4v4h-4zM407 211h4v4h-4z"/><path fill="#f9f3ea" d="M514 124h4v4h-4zM526 160h4v4h-4zM391 278h4v4h-4z"/><path fill="#f9e4d5" d="M522 124h4v4h-4zM534 128h4v4h-4zM538 128h4v4h-4zM546 132h3v4h-3zM403 140h4v4h-4zM451 144h4v4h-4zM411 148h4v4h-4zM419 148h4v4h-4zM546 152h3v4h-3zM403 156h4v4h-4zM482 156h4v4h-4zM549 156h4v4h-4zM435 160h4v4h-4zM439 160h4v4h-4zM411 164h4v4h-4zM502 168h4v4h-4zM415 172h4v4h-4zM463 176h3v4h-3zM506 184h4v3h-4zM427 187h4v4h-4zM514 199h4v4h-4zM459 219h4v4h-4zM506 219h4v4h-4zM407 223h4v4h-4zM439 223h4v4h-4zM478 223h4v4h-4zM399 227h4v4h-4zM459 227h4v4h-4zM395 239h4v4h-4zM431 243h4v4h-4zM439 243h4v4h-4zM470 243h4v4h-4zM391 247h4v4h-4zM411 251h4v4h-4zM423 262h4v4h-4zM391 266h4v4h-4zM431 274h4v4h-4zM411 278h4v4h-4zM470 278h4v4h-4z"/><path fill="#f9f0ea" d="M478 128h4v4h-4zM455 148h4v4h-4zM466 160h4v4h-4zM407 199h4v4h-4zM391 215h4v4h-4zM411 231h4v4h-4zM407 235h4v4h-4zM443 239h4v4h-4zM510 278h4v4h-4z"/><path fill="#f6eae1" d="M486 128h4v4h-4z"/><path fill="#f6edea" d="M490 128h4v4h-4zM506 132h4v4h-4z"/><path fill="#f3edea" d="M494 128h4v4h-4zM498 128h4v4h-4z"/><path fill="#f6e7e4" d="M502 128h4v4h-4z"/><path fill="#f6eae4" d="M506 128h4v4h-4zM494 136h4v4h-4zM498 136h4v4h-4z"/><path fill="#f9ded2" d="M435 132h4v4h-4zM427 140h4v4h-4zM411 176h4v4h-4zM391 251h4v4h-4zM451 262h4v4h-4zM443 278h4v4h-4z"/><path fill="#f9eae4" d="M482 132h4v4h-4zM510 132h4v4h-4zM494 140h4v4h-4z"/><path fill="#f6e7e1" d="M486 132h4v4h-4z"/><path fill="#f3eae7" d="M490 132h4v4h-4z"/><path fill="#f3eded" d="M494 132h4v4h-4z"/><path fill="#f3eaea" d="M498 132h4v4h-4z"/><path fill="#f3f0ed" d="M502 132h4v4h-4z"/><path fill="#f6f0ed" d="M490 136h4v4h-4z"/><path fill="#f6ede7" d="M502 136h4v4h-4z"/><path fill="#f9edea" d="M506 136h4v4h-4zM399 207h4v4h-4z"/><path fill="#f9e4db" d="M474 144h4v4h-4zM546 144h3v4h-3zM518 164h4v4h-4zM486 168h4v4h-4zM455 172h4v4h-4zM463 180h3v4h-3zM411 211h4v4h-4zM466 219h4v4h-4zM482 223h4v4h-4zM455 227h4v4h-4zM478 231h4v4h-4zM435 247h4v4h-4zM395 255h4v4h-4zM415 255h4v4h-4zM447 259h4v3h-4z"/><path fill="#f9decf" d="M427 148h4v4h-4zM447 148h4v4h-4zM427 152h4v4h-4zM423 156h4v4h-4zM427 156h4v4h-4zM431 156h4v4h-4zM447 203h4v4h-4zM403 243h4v4h-4zM435 255h4v4h-4zM466 259h4v3h-4z"/><path fill="#f9dbcc" d="M419 152h4v4h-4zM435 259h4v3h-4z"/><path fill="#f9dbc9" d="M423 152h4v4h-4z"/><path fill="#d8453c" d="M549 160h4v4h-4zM553 160h4v4h-4z"/><path fill="#f9f3ed" d="M466 164h4v4h-4zM407 207h4v4h-4z"/><path fill="#ba242a" d="M549 164h4v4h-4zM553 164h4v4h-4zM546 180h3v4h-3zM549 180h4v4h-4zM553 180h4v4h-4zM546 195h3v4h-3zM549 195h4v4h-4zM553 195h4v4h-4z"/><path fill="#cc3c36" d="M549 168h4v4h-4zM553 168h4v4h-4zM546 184h3v3h-3zM549 184h4v3h-4zM553 184h4v3h-4zM549 199h4v4h-4zM553 199h4v4h-4z"/><path fill="#c3272d" d="M546 172h3v4h-3zM549 172h4v4h-4zM553 172h4v4h-4zM546 187h3v4h-3zM549 187h4v4h-4zM553 187h4v4h-4zM549 203h4v4h-4zM553 203h4v4h-4z"/><path fill="#d23633" d="M546 176h3v4h-3zM549 176h4v4h-4zM553 176h4v4h-4zM546 191h3v4h-3zM549 191h4v4h-4zM553 191h4v4h-4zM549 207h4v4h-4zM553 207h4v4h-4z"/><path fill="#f9f0ed" d="M399 203h4v4h-4z"/><path fill="#f6f6f6" d="M403 203h4v4h-4z"/><path fill="#f9f6f3" d="M407 203h4v4h-4z"/><path fill="#f6f6f3" d="M403 207h4v4h-4z"/><path fill="#e4968d" d="M549 211h4v4h-4zM553 211h4v4h-4zM549 215h4v4h-4zM553 215h4v4h-4z"/><path fill="#ea8d69" d="M549 219h4v4h-4zM553 219h4v4h-4z"/><path fill="#f6d5c3" d="M399 243h4v4h-4z"/><path fill="#f6ccb7" d="M399 247h4v4h-4z"/><path fill="#f6d2bd" d="M399 251h4v4h-4z"/><path fill="#f6dbcc" d="M399 255h4v4h-4zM439 255h4v4h-4zM447 266h4v4h-4z"/><path fill="#f6c9b7" d="M439 259h4v3h-4z"/><path fill="#f3c6b1" d="M443 259h4v3h-4z"/><path fill="#f3c9b4" d="M443 262h4v4h-4z"/><path fill="#f3c3ae" d="M447 262h4v4h-4z"/><path fill="#f6d8c9" d="M451 266h4v4h-4z"/></g>
<g transform="translate(393.50 125.50)">
<path fill="#97b6e1" d="M0 0 L84.5 0 L84.5 2.5 L14 2.5 L14 7 L17.8 7 L17.8 10.8 L22.3 10.8 L22.3 19.1 L25.5 19.1 L25.5 22.9 L30 22.9 L30 33.8 L25.5 33.8 L25.5 43.3 L22 43.3 L22 51 L19.2 51 L19.2 54.8 L23 54.8 L23 57.7 L20 57.7 L20 71 L13.5 71 L13.5 74 L8.7 74 L8.7 83 L5.8 83 L5.8 88.5 L3 88.5 L3 115 L2.5 115 L2.5 154 L0 154Z"/>
<path fill="#97b6e1" d="M30 35 L33.8 35 L33.8 38.2 L30 38.2Z"/>
<path fill="#97b6e1" d="M22 151 L125 151 L125 156 L22 156Z"/>
<path fill="#97b6e1" d="M159.8 0 L163 0 L163 102 L159.8 102Z"/>
</g>
<g transform="translate(393.50 125.50)">
<path d="M155 30 L153.5 30.5 L150.5 31.3 L147.5 33 L144 35.5 L140.5 39.5 L137.3 43.5 L135.5 47.5 L134 52 L132.5 56.5 L131 61 L129.5 65.5 L127.5 70 L125.5 74.5 L123.5 79.5 L121 84.5 L119 89.5 L117.5 94.5 L116 98.5 L114.3 101.6 L111.5 103.8 L110 106.6 L109.3 110.9 L110 113.7 L111.5 115.9 L110.8 119.5 L111.5 122.3 L115.7 123.7 L117.9 125.9 L119.3 129.4 L120.7 133.7 L122.9 138 L124 142.2 L124.6 147.9 L125 152.9 L125.2 156.5 L165.5 156.5 L165.5 98.5 L160.9 98.1 L159.9 100.7 L157.3 101.8 L154.1 100.7 L152 98.1 L151 95 L151.5 91.8 L152 88.7 L153.6 86 L155.7 82.9 L155.2 80.3 L154.1 82.4 L151.5 82.4 L151.5 80.3 L152.5 77.1 L151.1 74 L149.5 71.5 L147.7 68 L147.8 65 L148.9 59.5 L149.8 54.5 L150.3 50.5 L151.7 46.5 L152.5 41.5 L153.5 36.5 L154.5 33.5 L155.5 31.5Z" fill="#f0f0dc"/>
<path d="M23.1 -15.8L27.3 170.4M46.3 -16.3L50.5 169.9M69.5 -16.7L73.7 169.5M92.7 -17.1L96.9 169.1M115.9 -17.6L120.1 168.6M139.1 -18L143.3 168.2M-18 14.3L176.9 10.7M-17.5 33.9L177.3 30.3M-17.1 53.5L177.8 49.9M-16.7 73.1L178.2 69.5M-16.2 92.7L178.7 89.1M-15.8 112.3L179.1 108.7M-15.3 131.9L179.5 128.3M-14.9 151.5L180 147.9" fill="none" stroke="#b4b4b4" stroke-width="1.1"/>
<path d="M155 30 L153.5 30.5 L150.5 31.3 L147.5 33 L144 35.5 L140.5 39.5 L137.3 43.5 L135.5 47.5 L134 52 L132.5 56.5 L131 61 L129.5 65.5 L127.5 70 L125.5 74.5 L123.5 79.5 L121 84.5 L119 89.5 L117.5 94.5 L116 98.5 L114.3 101.6 L111.5 103.8 L110 106.6 L109.3 110.9 L110 113.7 L111.5 115.9 L110.8 119.5 L111.5 122.3 L115.7 123.7 L117.9 125.9 L119.3 129.4 L120.7 133.7 L122.9 138 L124 142.2 L124.6 147.9 L125 152.9 L125.2 156.5 M160.9 98.1 L159.9 100.7 L157.3 101.8 L154.1 100.7 L152 98.1 L151 95 L151.5 91.8 L152 88.7 L153.6 86 L155.7 82.9 L155.2 80.3 L154.1 82.4 L151.5 82.4 L151.5 80.3 L152.5 77.1 L151.1 74 L149.5 71.5 L147.7 68 L147.8 65 L148.9 59.5 L149.8 54.5 L150.3 50.5 L151.7 46.5 L152.5 41.5 L153.5 36.5 L154.5 33.5 L155.5 31.5 L155 30" fill="none" stroke="#707070" stroke-width="1.4" stroke-linejoin="round"/>
</g></g>
<rect x="393.50" y="125.50" width="162.00" height="154.00" fill="none" stroke="#000" stroke-width="1.1"/>
<text x="393.8" y="114.5" text-anchor="middle" font-size="13.9" textLength="55.38" lengthAdjust="spacingAndGlyphs">112.5°E</text>
<text x="397.2" y="296.8" text-anchor="middle" font-size="13.9" textLength="55.38" lengthAdjust="spacingAndGlyphs">112.5°E</text>
<text x="463.4" y="114.5" text-anchor="middle" font-size="13.9" textLength="64.12" lengthAdjust="spacingAndGlyphs">113.25°E</text>
<text x="466.8" y="296.8" text-anchor="middle" font-size="13.9" textLength="64.12" lengthAdjust="spacingAndGlyphs">113.25°E</text>
<text x="533" y="114.5" text-anchor="middle" font-size="13.9" textLength="42.25" lengthAdjust="spacingAndGlyphs">114°E</text>
<text x="536.4" y="296.8" text-anchor="middle" font-size="13.9" textLength="42.25" lengthAdjust="spacingAndGlyphs">114°E</text>
<rect x="565.61" y="171.3" width="3.1" height="62.2" fill="url(#cb1)" stroke="#000" stroke-width="0.9"/>
<path d="M568.71 183.6h4.8" stroke="#000" stroke-width="0.9"/>
<text x="578.31" y="188.6" font-size="13.9" textLength="30.62" lengthAdjust="spacingAndGlyphs">0.25</text>
<path d="M568.71 202.4h4.8" stroke="#000" stroke-width="0.9"/>
<text x="578.31" y="207.4" font-size="13.9" textLength="30.62" lengthAdjust="spacingAndGlyphs">0.00</text>
<path d="M568.71 221.6h4.8" stroke="#000" stroke-width="0.9"/>
<text x="578.31" y="226.6" font-size="13.9" textLength="42.25" lengthAdjust="spacingAndGlyphs">−0.25</text>
<text x="643.40" y="95.6" font-size="17.9" textLength="121.20" lengthAdjust="spacingAndGlyphs">dSST/dx [K km</text>
<rect x="766.10" y="85.2" width="7.8" height="1.1" fill="#000"/>
<text x="775.60" y="88.75" font-size="11.67">1</text>
<text x="784.20" y="94.8" font-size="17.9">]</text>
<clipPath id="mc2"><rect x="635.50" y="125.50" width="162.00" height="154.00"/></clipPath>
<g clip-path="url(#mc2)">
<rect x="635.50" y="125.50" width="162.00" height="154.00" fill="#97b6e1"/>
<g shape-rendering="crispEdges"><path fill="#f6f3f3" d="M633 124h4v4h-4zM645 124h4v4h-4zM653 124h4v4h-4zM673 124h4v4h-4zM752 124h4v4h-4zM673 128h4v4h-4zM752 128h4v4h-4zM748 132h4v4h-4zM740 136h4v4h-4zM649 140h4v4h-4zM669 140h4v4h-4zM764 144h4v4h-4zM708 148h4v4h-4zM764 152h4v4h-4zM752 160h4v4h-4zM693 164h4v4h-4zM720 164h4v4h-4zM752 164h4v4h-4zM701 168h4v4h-4zM705 168h3v4h-3zM740 168h4v4h-4zM752 168h4v4h-4zM760 168h4v4h-4zM764 168h4v4h-4zM728 172h4v4h-4zM791 172h4v4h-4zM736 176h4v4h-4zM681 180h4v4h-4zM689 180h4v4h-4zM665 184h4v3h-4zM697 187h4v4h-4zM760 187h4v4h-4zM697 191h4v4h-4zM673 199h4v4h-4zM744 199h4v4h-4zM673 203h4v4h-4zM685 203h4v4h-4zM705 203h3v4h-3zM673 207h4v4h-4zM736 207h4v4h-4zM689 211h4v4h-4zM732 211h4v4h-4zM748 211h4v4h-4zM705 215h3v4h-3zM708 215h4v4h-4zM740 215h4v4h-4zM701 219h4v4h-4zM705 219h3v4h-3zM740 219h4v4h-4zM701 223h4v4h-4zM705 223h3v4h-3zM633 227h4v4h-4zM736 227h4v4h-4zM705 239h3v4h-3zM712 239h4v4h-4zM633 243h4v4h-4zM740 247h4v4h-4zM661 251h4v4h-4z"/><path fill="#f3f3f0" d="M637 124h4v4h-4zM764 124h4v4h-4zM784 124h4v4h-4zM795 124h4v4h-4zM653 128h4v4h-4zM740 128h4v4h-4zM756 128h4v4h-4zM776 128h4v4h-4zM784 128h4v4h-4zM788 128h3v4h-3zM637 132h4v4h-4zM641 132h4v4h-4zM653 132h4v4h-4zM673 132h4v4h-4zM744 132h4v4h-4zM752 132h4v4h-4zM764 132h4v4h-4zM772 132h4v4h-4zM784 132h4v4h-4zM649 136h4v4h-4zM768 136h4v4h-4zM641 140h4v4h-4zM645 140h4v4h-4zM724 140h4v4h-4zM728 140h4v4h-4zM740 140h4v4h-4zM760 140h4v4h-4zM641 144h4v4h-4zM645 144h4v4h-4zM649 144h4v4h-4zM728 144h4v4h-4zM736 144h4v4h-4zM740 144h4v4h-4zM752 144h4v4h-4zM756 144h4v4h-4zM784 144h4v4h-4zM633 148h4v4h-4zM649 148h4v4h-4zM669 148h4v4h-4zM705 148h3v4h-3zM716 148h4v4h-4zM728 148h4v4h-4zM764 148h4v4h-4zM780 148h4v4h-4zM784 148h4v4h-4zM788 148h3v4h-3zM661 152h4v4h-4zM705 152h3v4h-3zM708 152h4v4h-4zM728 152h4v4h-4zM744 152h4v4h-4zM780 152h4v4h-4zM637 156h4v4h-4zM645 156h4v4h-4zM669 156h4v4h-4zM705 156h3v4h-3zM728 156h4v4h-4zM649 160h4v4h-4zM669 160h4v4h-4zM697 160h4v4h-4zM701 160h4v4h-4zM736 160h4v4h-4zM748 160h4v4h-4zM633 164h4v4h-4zM657 164h4v4h-4zM669 164h4v4h-4zM677 164h4v4h-4zM689 164h4v4h-4zM708 164h4v4h-4zM756 164h4v4h-4zM665 168h4v4h-4zM697 168h4v4h-4zM736 168h4v4h-4zM744 168h4v4h-4zM748 168h4v4h-4zM669 172h4v4h-4zM677 172h4v4h-4zM685 172h4v4h-4zM724 172h4v4h-4zM744 172h4v4h-4zM633 176h4v4h-4zM673 176h4v4h-4zM677 176h4v4h-4zM665 180h4v4h-4zM693 180h4v4h-4zM724 180h4v4h-4zM728 180h4v4h-4zM705 184h3v3h-3zM756 184h4v3h-4zM673 187h4v4h-4zM732 187h4v4h-4zM740 187h4v4h-4zM752 187h4v4h-4zM673 191h4v4h-4zM677 191h4v4h-4zM708 191h4v4h-4zM728 191h4v4h-4zM791 191h4v4h-4zM681 195h4v4h-4zM732 195h4v4h-4zM736 195h4v4h-4zM756 195h4v4h-4zM665 199h4v4h-4zM669 199h4v4h-4zM681 199h4v4h-4zM697 199h4v4h-4zM791 199h4v4h-4zM752 203h4v4h-4zM791 203h4v4h-4zM677 207h4v4h-4zM728 207h4v4h-4zM669 211h4v4h-4zM681 211h4v4h-4zM685 211h4v4h-4zM705 211h3v4h-3zM728 211h4v4h-4zM744 211h4v4h-4zM677 215h4v4h-4zM685 215h4v4h-4zM689 215h4v4h-4zM736 215h4v4h-4zM712 219h4v4h-4zM720 219h4v4h-4zM685 223h4v4h-4zM693 223h4v4h-4zM724 223h4v4h-4zM736 223h4v4h-4zM689 227h4v4h-4zM708 227h4v4h-4zM712 227h4v4h-4zM712 231h4v4h-4zM708 235h4v4h-4zM708 239h4v4h-4zM701 243h4v4h-4zM740 243h4v4h-4zM633 247h4v4h-4zM633 251h4v4h-4zM657 251h4v4h-4zM740 251h4v4h-4zM744 251h4v4h-4zM657 255h4v4h-4zM705 255h3v4h-3zM665 259h4v3h-4zM712 259h4v3h-4zM681 262h4v4h-4zM633 266h4v4h-4zM669 266h4v4h-4zM673 266h4v4h-4zM681 266h4v4h-4zM673 270h4v4h-4zM712 270h4v4h-4zM633 274h4v4h-4zM661 274h4v4h-4zM665 274h4v4h-4zM681 274h4v4h-4zM752 274h4v4h-4zM740 278h4v4h-4zM744 278h4v4h-4zM748 278h4v4h-4z"/><path fill="#f0f0ea" d="M641 124h4v4h-4zM732 124h4v4h-4zM772 124h4v4h-4zM633 128h4v4h-4zM637 128h4v4h-4zM649 128h4v4h-4zM657 128h4v4h-4zM744 128h4v4h-4zM768 128h4v4h-4zM665 132h4v4h-4zM637 136h4v4h-4zM780 136h4v4h-4zM657 140h4v4h-4zM748 140h4v4h-4zM756 140h4v4h-4zM791 140h4v4h-4zM795 140h4v4h-4zM697 148h4v4h-4zM720 148h4v4h-4zM637 152h4v4h-4zM752 152h4v4h-4zM756 152h4v4h-4zM633 156h4v4h-4zM641 156h4v4h-4zM653 156h4v4h-4zM661 156h4v4h-4zM724 156h4v4h-4zM736 156h4v4h-4zM748 156h4v4h-4zM645 160h4v4h-4zM705 160h3v4h-3zM728 160h4v4h-4zM732 160h4v4h-4zM744 160h4v4h-4zM701 164h4v4h-4zM705 164h3v4h-3zM732 164h4v4h-4zM673 168h4v4h-4zM681 168h4v4h-4zM693 168h4v4h-4zM791 168h4v4h-4zM661 172h4v4h-4zM752 176h4v4h-4zM756 176h4v4h-4zM633 180h4v4h-4zM697 180h4v4h-4zM736 180h4v4h-4zM740 180h4v4h-4zM736 184h4v3h-4zM637 187h4v4h-4zM665 187h4v4h-4zM685 195h4v4h-4zM740 195h4v4h-4zM752 195h4v4h-4zM633 199h4v4h-4zM685 199h4v4h-4zM701 199h4v4h-4zM728 199h4v4h-4zM693 203h4v4h-4zM693 207h4v4h-4zM697 207h4v4h-4zM744 207h4v4h-4zM693 211h4v4h-4zM697 211h4v4h-4zM633 215h4v4h-4zM637 215h4v4h-4zM716 215h4v4h-4zM697 219h4v4h-4zM744 219h4v4h-4zM732 223h4v4h-4zM649 231h4v4h-4zM657 235h4v4h-4zM701 239h4v4h-4zM708 243h4v4h-4zM708 247h4v4h-4zM712 251h4v4h-4zM665 255h4v4h-4zM673 259h4v3h-4zM708 259h4v3h-4zM740 266h4v4h-4zM677 270h4v4h-4zM744 270h4v4h-4zM716 278h4v4h-4z"/><path fill="#f6f3f0" d="M649 124h4v4h-4zM657 124h4v4h-4zM681 124h4v4h-4zM740 124h4v4h-4zM744 124h4v4h-4zM645 128h4v4h-4zM677 128h4v4h-4zM780 128h4v4h-4zM669 132h4v4h-4zM677 132h4v4h-4zM740 132h4v4h-4zM756 132h4v4h-4zM788 132h3v4h-3zM641 136h4v4h-4zM657 136h4v4h-4zM669 136h4v4h-4zM736 136h4v4h-4zM744 136h4v4h-4zM748 136h4v4h-4zM708 140h4v4h-4zM736 140h4v4h-4zM764 140h4v4h-4zM768 140h4v4h-4zM772 140h4v4h-4zM776 140h4v4h-4zM669 144h4v4h-4zM732 144h4v4h-4zM744 144h4v4h-4zM760 144h4v4h-4zM780 144h4v4h-4zM795 144h4v4h-4zM653 148h4v4h-4zM776 148h4v4h-4zM633 152h4v4h-4zM665 152h4v4h-4zM712 152h4v4h-4zM760 152h4v4h-4zM776 152h4v4h-4zM649 156h4v4h-4zM673 156h4v4h-4zM701 156h4v4h-4zM720 156h4v4h-4zM768 156h4v4h-4zM633 160h4v4h-4zM661 160h4v4h-4zM665 160h4v4h-4zM673 160h4v4h-4zM712 160h4v4h-4zM716 160h4v4h-4zM768 160h4v4h-4zM697 164h4v4h-4zM633 168h4v4h-4zM669 168h4v4h-4zM728 168h4v4h-4zM732 168h4v4h-4zM701 172h4v4h-4zM740 172h4v4h-4zM748 172h4v4h-4zM669 176h4v4h-4zM685 176h4v4h-4zM689 176h4v4h-4zM693 176h4v4h-4zM701 176h4v4h-4zM728 176h4v4h-4zM740 176h4v4h-4zM677 180h4v4h-4zM756 180h4v4h-4zM633 184h4v3h-4zM669 184h4v3h-4zM693 184h4v3h-4zM744 184h4v3h-4zM748 184h4v3h-4zM791 184h4v3h-4zM728 187h4v4h-4zM701 191h4v4h-4zM744 191h4v4h-4zM756 191h4v4h-4zM669 195h4v4h-4zM641 199h4v4h-4zM661 199h4v4h-4zM693 199h4v4h-4zM740 199h4v4h-4zM697 203h4v4h-4zM740 203h4v4h-4zM701 207h4v4h-4zM705 207h3v4h-3zM732 207h4v4h-4zM693 215h4v4h-4zM681 219h4v4h-4zM708 219h4v4h-4zM697 223h4v4h-4zM740 223h4v4h-4zM693 227h4v4h-4zM697 227h4v4h-4zM705 227h3v4h-3zM653 231h4v4h-4zM697 231h4v4h-4zM708 231h4v4h-4zM705 235h3v4h-3zM712 235h4v4h-4zM740 239h4v4h-4zM657 243h4v4h-4zM705 247h3v4h-3zM633 262h4v4h-4zM665 266h4v4h-4zM752 266h4v4h-4zM665 270h4v4h-4zM752 270h4v4h-4zM657 274h4v4h-4zM740 274h4v4h-4zM673 278h4v4h-4zM677 278h4v4h-4zM681 278h4v4h-4zM685 278h4v4h-4z"/><path fill="#f0f0ed" d="M661 124h4v4h-4zM677 124h4v4h-4zM768 124h4v4h-4zM673 144h4v4h-4zM705 144h3v4h-3zM716 144h4v4h-4zM724 144h4v4h-4zM712 148h4v4h-4zM732 152h4v4h-4zM772 156h4v4h-4zM673 164h4v4h-4zM740 164h4v4h-4zM720 172h4v4h-4zM744 180h4v4h-4zM708 184h4v3h-4zM637 191h4v4h-4zM748 191h4v4h-4zM705 195h3v4h-3zM728 195h4v4h-4zM712 207h4v4h-4zM637 211h4v4h-4zM716 211h4v4h-4zM720 211h4v4h-4zM724 211h4v4h-4zM637 219h4v4h-4zM645 219h4v4h-4zM720 227h4v4h-4zM724 227h4v4h-4zM637 231h4v4h-4zM716 231h4v4h-4zM736 239h4v4h-4zM716 243h4v4h-4zM736 243h4v4h-4zM716 251h4v4h-4zM736 251h4v4h-4zM661 255h4v4h-4zM740 255h4v4h-4zM708 262h4v4h-4zM716 266h4v4h-4zM716 274h4v4h-4zM748 274h4v4h-4zM633 278h4v4h-4zM653 278h4v4h-4zM689 278h4v4h-4zM736 278h4v4h-4z"/><path fill="#f3f0ed" d="M665 124h4v4h-4zM669 124h4v4h-4zM685 124h4v4h-4zM736 124h4v4h-4zM760 124h4v4h-4zM776 124h4v4h-4zM780 124h4v4h-4zM788 124h3v4h-3zM791 124h4v4h-4zM641 128h4v4h-4zM661 128h4v4h-4zM669 128h4v4h-4zM748 128h4v4h-4zM764 128h4v4h-4zM772 128h4v4h-4zM791 128h4v4h-4zM795 128h4v4h-4zM633 132h4v4h-4zM649 132h4v4h-4zM657 132h4v4h-4zM716 132h4v4h-4zM732 132h4v4h-4zM768 132h4v4h-4zM776 132h4v4h-4zM780 132h4v4h-4zM791 132h4v4h-4zM795 132h4v4h-4zM708 136h4v4h-4zM712 136h4v4h-4zM716 136h4v4h-4zM720 136h4v4h-4zM732 136h4v4h-4zM752 136h4v4h-4zM772 136h4v4h-4zM784 136h4v4h-4zM791 136h4v4h-4zM795 136h4v4h-4zM637 140h4v4h-4zM677 140h4v4h-4zM712 140h4v4h-4zM716 140h4v4h-4zM732 140h4v4h-4zM744 140h4v4h-4zM780 140h4v4h-4zM784 140h4v4h-4zM788 140h3v4h-3zM637 144h4v4h-4zM653 144h4v4h-4zM661 144h4v4h-4zM701 144h4v4h-4zM748 144h4v4h-4zM768 144h4v4h-4zM776 144h4v4h-4zM791 144h4v4h-4zM657 148h4v4h-4zM665 148h4v4h-4zM701 148h4v4h-4zM724 148h4v4h-4zM732 148h4v4h-4zM736 148h4v4h-4zM740 148h4v4h-4zM744 148h4v4h-4zM748 148h4v4h-4zM752 148h4v4h-4zM756 148h4v4h-4zM760 148h4v4h-4zM768 148h4v4h-4zM791 148h4v4h-4zM645 152h4v4h-4zM649 152h4v4h-4zM653 152h4v4h-4zM657 152h4v4h-4zM716 152h4v4h-4zM736 152h4v4h-4zM748 152h4v4h-4zM768 152h4v4h-4zM772 152h4v4h-4zM795 152h4v4h-4zM657 156h4v4h-4zM708 156h4v4h-4zM716 156h4v4h-4zM732 156h4v4h-4zM740 156h4v4h-4zM744 156h4v4h-4zM756 156h4v4h-4zM760 156h4v4h-4zM764 156h4v4h-4zM795 156h4v4h-4zM641 160h4v4h-4zM677 160h4v4h-4zM689 160h4v4h-4zM693 160h4v4h-4zM708 160h4v4h-4zM720 160h4v4h-4zM740 160h4v4h-4zM756 160h4v4h-4zM764 160h4v4h-4zM772 160h4v4h-4zM681 164h4v4h-4zM685 164h4v4h-4zM724 164h4v4h-4zM728 164h4v4h-4zM736 164h4v4h-4zM744 164h4v4h-4zM760 164h4v4h-4zM764 164h4v4h-4zM657 168h4v4h-4zM661 168h4v4h-4zM689 168h4v4h-4zM724 168h4v4h-4zM657 172h4v4h-4zM665 172h4v4h-4zM673 172h4v4h-4zM681 172h4v4h-4zM697 172h4v4h-4zM705 172h3v4h-3zM732 172h4v4h-4zM736 172h4v4h-4zM752 172h4v4h-4zM760 172h4v4h-4zM764 172h4v4h-4zM637 176h4v4h-4zM681 176h4v4h-4zM697 176h4v4h-4zM732 176h4v4h-4zM744 176h4v4h-4zM748 176h4v4h-4zM791 176h4v4h-4zM701 180h4v4h-4zM732 180h4v4h-4zM748 180h4v4h-4zM661 184h4v3h-4zM685 184h4v3h-4zM697 184h4v3h-4zM701 184h4v3h-4zM724 184h4v3h-4zM728 184h4v3h-4zM752 184h4v3h-4zM760 184h4v3h-4zM669 187h4v4h-4zM693 187h4v4h-4zM701 187h4v4h-4zM736 187h4v4h-4zM791 187h4v4h-4zM661 191h4v4h-4zM665 191h4v4h-4zM685 191h4v4h-4zM693 191h4v4h-4zM705 191h3v4h-3zM732 191h4v4h-4zM736 191h4v4h-4zM740 191h4v4h-4zM752 191h4v4h-4zM633 195h4v4h-4zM673 195h4v4h-4zM677 195h4v4h-4zM693 195h4v4h-4zM697 195h4v4h-4zM744 195h4v4h-4zM748 195h4v4h-4zM791 195h4v4h-4zM637 199h4v4h-4zM677 199h4v4h-4zM689 199h4v4h-4zM705 199h3v4h-3zM708 199h4v4h-4zM732 199h4v4h-4zM736 199h4v4h-4zM748 199h4v4h-4zM637 203h4v4h-4zM689 203h4v4h-4zM701 203h4v4h-4zM736 203h4v4h-4zM744 203h4v4h-4zM748 203h4v4h-4zM633 207h4v4h-4zM641 207h4v4h-4zM665 207h4v4h-4zM681 207h4v4h-4zM685 207h4v4h-4zM689 207h4v4h-4zM740 207h4v4h-4zM641 211h4v4h-4zM673 211h4v4h-4zM701 211h4v4h-4zM708 211h4v4h-4zM712 211h4v4h-4zM736 211h4v4h-4zM740 211h4v4h-4zM645 215h4v4h-4zM681 215h4v4h-4zM697 215h4v4h-4zM701 215h4v4h-4zM712 215h4v4h-4zM720 215h4v4h-4zM724 215h4v4h-4zM728 215h4v4h-4zM732 215h4v4h-4zM744 215h4v4h-4zM748 215h4v4h-4zM633 219h4v4h-4zM677 219h4v4h-4zM689 219h4v4h-4zM693 219h4v4h-4zM724 219h4v4h-4zM728 219h4v4h-4zM732 219h4v4h-4zM736 219h4v4h-4zM689 223h4v4h-4zM708 223h4v4h-4zM712 223h4v4h-4zM649 227h4v4h-4zM701 227h4v4h-4zM716 227h4v4h-4zM732 227h4v4h-4zM657 231h4v4h-4zM693 231h4v4h-4zM705 231h3v4h-3zM653 235h4v4h-4zM661 235h4v4h-4zM701 235h4v4h-4zM633 239h4v4h-4zM661 239h4v4h-4zM701 247h4v4h-4zM701 251h4v4h-4zM705 251h3v4h-3zM708 251h4v4h-4zM669 255h4v4h-4zM677 255h4v4h-4zM708 255h4v4h-4zM744 255h4v4h-4zM661 259h4v3h-4zM681 259h4v3h-4zM705 259h3v3h-3zM716 259h4v3h-4zM665 262h4v4h-4zM673 262h4v4h-4zM685 262h4v4h-4zM712 262h4v4h-4zM685 266h4v4h-4zM708 266h4v4h-4zM712 266h4v4h-4zM748 266h4v4h-4zM661 270h4v4h-4zM669 270h4v4h-4zM681 270h4v4h-4zM685 270h4v4h-4zM716 270h4v4h-4zM740 270h4v4h-4zM748 270h4v4h-4zM673 274h4v4h-4zM677 274h4v4h-4zM685 274h4v4h-4zM712 274h4v4h-4zM744 274h4v4h-4zM657 278h4v4h-4zM665 278h4v4h-4zM669 278h4v4h-4zM712 278h4v4h-4zM752 278h4v4h-4z"/><path fill="#edeae4" d="M689 124h4v4h-4zM677 144h4v4h-4zM677 156h4v4h-4zM637 172h4v4h-4zM641 187h4v4h-4zM641 195h4v4h-4zM661 203h4v4h-4zM645 207h4v4h-4zM649 215h4v4h-4zM653 223h4v4h-4zM661 231h4v4h-4zM685 231h4v4h-4zM665 247h4v4h-4zM677 247h4v4h-4zM748 259h4v3h-4zM689 270h4v4h-4zM708 274h4v4h-4z"/><path fill="#e1d8cc" d="M693 124h4v4h-4zM689 132h4v4h-4zM681 148h4v4h-4zM681 152h4v4h-4zM649 203h4v4h-4zM681 239h4v4h-4zM693 247h4v4h-4zM689 259h4v3h-4zM693 270h4v4h-4z"/><path fill="#dbd2c3" d="M697 124h4v4h-4zM689 136h4v4h-4zM685 144h4v4h-4zM649 176h4v4h-4zM653 195h4v4h-4zM649 199h4v4h-4zM653 211h4v4h-4z"/><path fill="#ded8cc" d="M701 124h4v4h-4zM701 132h4v4h-4z"/><path fill="#eae4de" d="M705 124h3v4h-3zM653 176h4v4h-4zM661 207h4v4h-4zM665 231h4v4h-4zM689 235h4v4h-4zM673 239h4v4h-4zM677 243h4v4h-4zM697 251h4v4h-4zM685 255h4v4h-4z"/><path fill="#f0ede7" d="M708 124h4v4h-4zM685 128h4v4h-4zM716 128h4v4h-4zM720 128h4v4h-4zM724 128h4v4h-4zM728 128h4v4h-4zM681 132h4v4h-4zM728 132h4v4h-4zM653 136h4v4h-4zM681 136h4v4h-4zM701 140h4v4h-4zM693 152h4v4h-4zM685 160h4v4h-4zM653 164h4v4h-4zM657 180h4v4h-4zM760 180h4v4h-4zM633 187h4v4h-4zM657 191h4v4h-4zM665 211h4v4h-4zM649 219h4v4h-4zM653 227h4v4h-4zM665 235h4v4h-4zM697 239h4v4h-4zM661 243h4v4h-4zM661 247h4v4h-4zM697 247h4v4h-4zM669 251h4v4h-4zM681 251h4v4h-4zM657 259h4v3h-4zM685 259h4v3h-4zM740 262h4v4h-4zM661 266h4v4h-4zM657 270h4v4h-4zM708 270h4v4h-4z"/><path fill="#f0edea" d="M712 124h4v4h-4zM716 124h4v4h-4zM724 124h4v4h-4zM728 124h4v4h-4zM665 128h4v4h-4zM681 128h4v4h-4zM645 132h4v4h-4zM661 132h4v4h-4zM705 132h3v4h-3zM645 136h4v4h-4zM661 136h4v4h-4zM665 136h4v4h-4zM705 136h3v4h-3zM728 136h4v4h-4zM776 136h4v4h-4zM633 140h4v4h-4zM653 140h4v4h-4zM661 140h4v4h-4zM665 140h4v4h-4zM673 140h4v4h-4zM705 140h3v4h-3zM720 140h4v4h-4zM752 140h4v4h-4zM720 144h4v4h-4zM772 144h4v4h-4zM788 144h3v4h-3zM637 148h4v4h-4zM641 148h4v4h-4zM645 148h4v4h-4zM661 148h4v4h-4zM772 148h4v4h-4zM795 148h4v4h-4zM641 152h4v4h-4zM697 152h4v4h-4zM701 152h4v4h-4zM720 152h4v4h-4zM724 152h4v4h-4zM697 156h4v4h-4zM712 156h4v4h-4zM776 156h4v4h-4zM637 160h4v4h-4zM657 160h4v4h-4zM681 160h4v4h-4zM724 160h4v4h-4zM637 164h4v4h-4zM641 164h4v4h-4zM645 164h4v4h-4zM649 164h4v4h-4zM665 164h4v4h-4zM637 168h4v4h-4zM677 168h4v4h-4zM685 168h4v4h-4zM633 172h4v4h-4zM689 172h4v4h-4zM756 172h4v4h-4zM657 176h4v4h-4zM661 176h4v4h-4zM705 176h3v4h-3zM637 180h4v4h-4zM661 180h4v4h-4zM673 180h4v4h-4zM637 184h4v3h-4zM689 184h4v3h-4zM732 184h4v3h-4zM677 187h4v4h-4zM681 187h4v4h-4zM685 187h4v4h-4zM689 187h4v4h-4zM705 187h3v4h-3zM708 187h4v4h-4zM633 191h4v4h-4zM681 191h4v4h-4zM689 191h4v4h-4zM661 195h4v4h-4zM665 195h4v4h-4zM689 195h4v4h-4zM701 195h4v4h-4zM708 195h4v4h-4zM633 203h4v4h-4zM641 203h4v4h-4zM665 203h4v4h-4zM677 203h4v4h-4zM708 203h4v4h-4zM732 203h4v4h-4zM748 207h4v4h-4zM645 211h4v4h-4zM677 211h4v4h-4zM669 215h4v4h-4zM633 223h4v4h-4zM645 223h4v4h-4zM681 223h4v4h-4zM716 223h4v4h-4zM720 223h4v4h-4zM728 223h4v4h-4zM744 223h4v4h-4zM657 227h4v4h-4zM685 227h4v4h-4zM633 231h4v4h-4zM689 231h4v4h-4zM736 231h4v4h-4zM693 235h4v4h-4zM657 239h4v4h-4zM697 243h4v4h-4zM712 243h4v4h-4zM712 247h4v4h-4zM633 255h4v4h-4zM681 255h4v4h-4zM712 255h4v4h-4zM716 255h4v4h-4zM633 259h4v3h-4zM677 259h4v3h-4zM740 259h4v3h-4zM661 262h4v4h-4zM669 262h4v4h-4zM677 262h4v4h-4zM705 262h3v4h-3zM716 262h4v4h-4zM752 262h4v4h-4zM677 266h4v4h-4zM744 266h4v4h-4zM633 270h4v4h-4zM689 274h4v4h-4zM693 278h4v4h-4z"/><path fill="#f3f0ea" d="M720 124h4v4h-4zM708 132h4v4h-4zM712 132h4v4h-4zM720 132h4v4h-4zM673 152h4v4h-4zM653 168h4v4h-4zM657 187h4v4h-4zM748 187h4v4h-4zM673 219h4v4h-4zM649 223h4v4h-4zM697 235h4v4h-4zM665 239h4v4h-4zM673 251h4v4h-4zM677 251h4v4h-4zM673 255h4v4h-4z"/><path fill="#f3f0f0" d="M748 124h4v4h-4zM756 124h4v4h-4zM760 128h4v4h-4zM736 132h4v4h-4zM677 136h4v4h-4zM724 136h4v4h-4zM756 136h4v4h-4zM788 136h3v4h-3zM665 144h4v4h-4zM712 144h4v4h-4zM673 148h4v4h-4zM665 156h4v4h-4zM748 164h4v4h-4zM720 168h4v4h-4zM693 172h4v4h-4zM665 176h4v4h-4zM724 176h4v4h-4zM669 180h4v4h-4zM705 180h3v4h-3zM791 180h4v4h-4zM673 184h4v3h-4zM677 184h4v3h-4zM744 187h4v4h-4zM756 187h4v4h-4zM724 191h4v4h-4zM752 199h4v4h-4zM681 203h4v4h-4zM712 203h4v4h-4zM708 207h4v4h-4zM633 211h4v4h-4zM641 215h4v4h-4zM673 215h4v4h-4zM685 219h4v4h-4zM633 235h4v4h-4zM657 247h4v4h-4zM716 247h4v4h-4zM736 247h4v4h-4zM748 255h4v4h-4zM661 278h4v4h-4z"/><path fill="#e7e1d8" d="M689 128h4v4h-4zM689 152h4v4h-4zM645 168h4v4h-4zM641 172h4v4h-4zM653 180h4v4h-4zM657 199h4v4h-4zM677 227h4v4h-4zM669 231h4v4h-4zM681 231h4v4h-4zM673 235h4v4h-4zM677 239h4v4h-4zM673 243h4v4h-4zM693 243h4v4h-4zM744 262h4v4h-4zM697 278h4v4h-4z"/><path fill="#d8cfbd" d="M693 128h4v4h-4zM697 132h4v4h-4zM649 184h4v3h-4zM649 187h4v4h-4zM649 191h4v4h-4zM653 203h4v4h-4zM685 239h4v4h-4zM693 251h4v4h-4zM689 255h4v4h-4z"/><path fill="#d5ccba" d="M697 128h4v4h-4z"/><path fill="#e1dbcc" d="M701 128h4v4h-4zM689 148h4v4h-4zM645 187h4v4h-4zM661 219h4v4h-4zM665 223h4v4h-4zM681 235h4v4h-4z"/><path fill="#ede7e1" d="M705 128h3v4h-3zM677 148h4v4h-4zM677 152h4v4h-4zM681 156h4v4h-4zM649 168h4v4h-4zM657 195h4v4h-4zM661 227h4v4h-4zM681 227h4v4h-4zM669 239h4v4h-4zM744 259h4v3h-4zM748 262h4v4h-4zM693 274h4v4h-4z"/><path fill="#f0eae4" d="M708 128h4v4h-4zM712 128h4v4h-4zM665 243h4v4h-4z"/><path fill="#eaeaed" d="M732 128h4v4h-4zM716 176h4v4h-4zM720 191h4v4h-4zM720 203h4v4h-4zM720 239h4v4h-4zM732 243h4v4h-4zM720 247h4v4h-4zM732 247h4v4h-4zM720 251h4v4h-4zM720 262h4v4h-4zM724 278h4v4h-4zM732 278h4v4h-4z"/><path fill="#ededed" d="M736 128h4v4h-4zM720 176h4v4h-4zM712 184h4v3h-4zM645 231h4v4h-4zM732 235h4v4h-4zM637 239h4v4h-4zM637 251h4v4h-4zM653 251h4v4h-4zM637 274h4v4h-4zM653 274h4v4h-4zM720 274h4v4h-4zM736 274h4v4h-4zM720 278h4v4h-4z"/><path fill="#e7e4db" d="M685 132h4v4h-4zM681 140h4v4h-4zM693 144h4v4h-4zM641 176h4v4h-4zM641 180h4v4h-4zM645 199h4v4h-4zM681 247h4v4h-4zM701 259h4v3h-4z"/><path fill="#d8cfc0" d="M693 132h4v4h-4zM649 180h4v4h-4zM649 195h4v4h-4zM653 199h4v4h-4zM653 207h4v4h-4zM657 211h4v4h-4zM697 259h4v3h-4z"/><path fill="#f3edea" d="M724 132h4v4h-4z"/><path fill="#f6f6f3" d="M760 132h4v4h-4zM760 136h4v4h-4zM764 136h4v4h-4zM633 144h4v4h-4zM669 152h4v4h-4zM653 160h4v4h-4zM661 164h4v4h-4zM768 164h4v4h-4zM756 168h4v4h-4zM685 180h4v4h-4zM661 187h4v4h-4zM669 191h4v4h-4zM669 203h4v4h-4zM637 207h4v4h-4zM669 207h4v4h-4zM716 219h4v4h-4zM740 227h4v4h-4zM701 231h4v4h-4zM705 243h3v4h-3zM669 259h4v3h-4z"/><path fill="#edede7" d="M633 136h4v4h-4zM752 156h4v4h-4zM760 160h4v4h-4zM637 195h4v4h-4zM728 203h4v4h-4zM665 251h4v4h-4z"/><path fill="#f3f3ed" d="M673 136h4v4h-4zM657 144h4v4h-4zM708 144h4v4h-4zM740 152h4v4h-4zM740 184h4v3h-4zM669 274h4v4h-4z"/><path fill="#e4ded5" d="M685 136h4v4h-4zM645 195h4v4h-4zM661 211h4v4h-4zM657 219h4v4h-4zM661 223h4v4h-4zM665 227h4v4h-4zM657 262h4v4h-4z"/><path fill="#dbd5c6" d="M693 136h4v4h-4zM645 180h4v4h-4zM657 207h4v4h-4z"/><path fill="#e1dbcf" d="M697 136h4v4h-4zM693 140h4v4h-4zM649 172h4v4h-4zM653 187h4v4h-4zM661 215h4v4h-4zM669 227h4v4h-4zM673 227h4v4h-4zM673 231h4v4h-4zM677 231h4v4h-4zM677 235h4v4h-4zM685 251h4v4h-4zM697 255h4v4h-4zM689 262h4v4h-4zM705 270h3v4h-3z"/><path fill="#e4e1d8" d="M701 136h4v4h-4z"/><path fill="#ded8c9" d="M685 140h4v4h-4zM645 172h4v4h-4zM689 239h4v4h-4zM705 278h3v4h-3z"/><path fill="#dbd2c0" d="M689 140h4v4h-4zM685 148h4v4h-4z"/><path fill="#eae7de" d="M697 140h4v4h-4zM693 148h4v4h-4zM641 168h4v4h-4zM665 215h4v4h-4zM669 235h4v4h-4zM669 247h4v4h-4zM689 266h4v4h-4z"/><path fill="#e4ded2" d="M681 144h4v4h-4zM653 184h4v3h-4zM645 191h4v4h-4zM665 219h4v4h-4zM669 223h4v4h-4zM685 235h4v4h-4zM681 243h4v4h-4zM701 262h4v4h-4zM657 266h4v4h-4z"/><path fill="#ded5c9" d="M689 144h4v4h-4zM685 152h4v4h-4zM645 184h4v3h-4zM653 191h4v4h-4zM657 215h4v4h-4z"/><path fill="#edeae7" d="M697 144h4v4h-4zM693 156h4v4h-4zM657 184h4v3h-4zM677 223h4v4h-4zM701 255h4v4h-4zM708 278h4v4h-4z"/><path fill="#eae4db" d="M685 156h4v4h-4zM760 176h4v4h-4zM764 176h4v4h-4zM649 211h4v4h-4zM669 219h4v4h-4zM673 223h4v4h-4zM673 247h4v4h-4z"/><path fill="#eae7e1" d="M689 156h4v4h-4zM641 184h4v3h-4zM641 191h4v4h-4zM653 219h4v4h-4zM657 223h4v4h-4zM693 239h4v4h-4z"/><path fill="#f0f0f0" d="M712 164h4v4h-4zM708 168h4v4h-4zM708 172h4v4h-4zM712 195h4v4h-4zM712 199h4v4h-4zM716 207h4v4h-4zM724 207h4v4h-4zM645 227h4v4h-4zM728 227h4v4h-4zM637 235h4v4h-4zM716 235h4v4h-4zM716 239h4v4h-4z"/><path fill="#f3f3f3" d="M716 164h4v4h-4z"/><path fill="#eaeded" d="M712 168h4v4h-4zM712 180h4v4h-4zM720 187h4v4h-4zM720 195h4v4h-4zM732 239h4v4h-4z"/><path fill="#ededf0" d="M716 168h4v4h-4zM720 180h4v4h-4zM720 184h4v3h-4zM712 187h4v4h-4zM712 191h4v4h-4zM720 207h4v4h-4z"/><path fill="#f0eae7" d="M653 172h4v4h-4z"/><path fill="#eaedf0" d="M712 172h4v4h-4zM716 172h4v4h-4zM712 176h4v4h-4zM716 191h4v4h-4zM716 195h4v4h-4zM716 199h4v4h-4zM720 199h4v4h-4zM716 203h4v4h-4z"/><path fill="#d8d2c0" d="M645 176h4v4h-4zM685 247h4v4h-4z"/><path fill="#f0eded" d="M708 176h4v4h-4zM708 180h4v4h-4zM724 187h4v4h-4zM724 195h4v4h-4zM724 199h4v4h-4zM736 235h4v4h-4z"/><path fill="#e7eaed" d="M716 180h4v4h-4zM716 184h4v3h-4zM716 187h4v4h-4zM720 243h4v4h-4z"/><path fill="#f9f6f3" d="M752 180h4v4h-4z"/><path fill="#f9f6f6" d="M681 184h4v3h-4z"/><path fill="#edeae1" d="M645 203h4v4h-4zM705 266h3v4h-3z"/><path fill="#e1dbd2" d="M657 203h4v4h-4z"/><path fill="#eaeaea" d="M724 203h4v4h-4zM641 219h4v4h-4zM637 223h4v4h-4zM720 231h4v4h-4zM637 255h4v4h-4zM720 259h4v3h-4zM637 266h4v4h-4zM720 266h4v4h-4zM720 270h4v4h-4z"/><path fill="#e4dbd2" d="M649 207h4v4h-4zM653 215h4v4h-4z"/><path fill="#e1e4ea" d="M641 223h4v4h-4zM641 227h4v4h-4zM641 231h4v4h-4zM728 235h4v4h-4zM728 239h4v4h-4zM649 243h4v4h-4zM724 259h4v3h-4zM724 262h4v4h-4zM724 266h4v4h-4zM724 270h4v4h-4zM724 274h4v4h-4z"/><path fill="#edeaea" d="M637 227h4v4h-4zM637 259h4v3h-4zM653 270h4v4h-4z"/><path fill="#e4e7ea" d="M724 231h4v4h-4zM649 239h4v4h-4z"/><path fill="#e7e7ea" d="M728 231h4v4h-4zM720 235h4v4h-4zM732 251h4v4h-4zM728 278h4v4h-4z"/><path fill="#ededea" d="M732 231h4v4h-4zM649 235h4v4h-4zM653 239h4v4h-4zM653 243h4v4h-4zM653 247h4v4h-4zM653 255h4v4h-4zM637 262h4v4h-4zM637 270h4v4h-4zM637 278h4v4h-4z"/><path fill="#e1e4e7" d="M641 235h4v4h-4zM649 278h4v4h-4z"/><path fill="#e4e4e7" d="M645 235h4v4h-4zM736 262h4v4h-4z"/><path fill="#dee1e7" d="M724 235h4v4h-4zM724 243h4v4h-4zM728 243h4v4h-4zM649 255h4v4h-4z"/><path fill="#dbe1e7" d="M641 239h4v4h-4zM649 266h4v4h-4zM728 274h4v4h-4z"/><path fill="#d8dee4" d="M645 239h4v4h-4zM649 274h4v4h-4z"/><path fill="#dee1ea" d="M724 239h4v4h-4z"/><path fill="#eaeae7" d="M637 243h4v4h-4zM637 247h4v4h-4zM653 259h4v3h-4z"/><path fill="#d5dbe1" d="M641 243h4v4h-4zM641 247h4v4h-4zM641 251h4v4h-4z"/><path fill="#cfd5e1" d="M645 243h4v4h-4z"/><path fill="#ede7de" d="M669 243h4v4h-4z"/><path fill="#d2c9b4" d="M685 243h4v4h-4zM689 247h4v4h-4zM689 251h4v4h-4zM693 255h4v4h-4zM697 274h4v4h-4z"/><path fill="#d5cfbd" d="M689 243h4v4h-4z"/><path fill="#ccd5de" d="M645 247h4v4h-4zM645 251h4v4h-4z"/><path fill="#dee4e7" d="M649 247h4v4h-4zM649 251h4v4h-4z"/><path fill="#dee4ea" d="M724 247h4v4h-4zM728 247h4v4h-4zM724 251h4v4h-4zM728 251h4v4h-4zM724 255h4v4h-4z"/><path fill="#bdc6d5" d="M641 255h4v4h-4z"/><path fill="#b1bdcf" d="M645 255h4v4h-4z"/><path fill="#e7eaea" d="M720 255h4v4h-4z"/><path fill="#dbdee7" d="M728 255h4v4h-4z"/><path fill="#b7c3d2" d="M732 255h4v4h-4z"/><path fill="#e4e7e7" d="M736 255h4v4h-4zM736 266h4v4h-4zM736 270h4v4h-4z"/><path fill="#bac6d2" d="M641 259h4v3h-4zM641 262h4v4h-4zM641 266h4v4h-4zM641 270h4v4h-4zM641 274h4v4h-4z"/><path fill="#aebacc" d="M645 259h4v3h-4zM645 262h4v4h-4zM645 266h4v4h-4zM645 270h4v4h-4zM645 274h4v4h-4z"/><path fill="#dbdee4" d="M649 259h4v3h-4zM649 270h4v4h-4z"/><path fill="#cfc6ae" d="M693 259h4v3h-4z"/><path fill="#d8dee7" d="M728 259h4v3h-4zM728 262h4v4h-4zM728 266h4v4h-4zM728 270h4v4h-4z"/><path fill="#b4c0cf" d="M732 259h4v3h-4zM732 262h4v4h-4zM732 266h4v4h-4zM732 270h4v4h-4z"/><path fill="#e1e1e4" d="M736 259h4v3h-4z"/><path fill="#dbe1e4" d="M649 262h4v4h-4z"/><path fill="#eae7e4" d="M653 262h4v4h-4zM653 266h4v4h-4z"/><path fill="#baae90" d="M693 262h4v4h-4z"/><path fill="#c6bda5" d="M697 262h4v4h-4z"/><path fill="#c6bda2" d="M693 266h4v4h-4z"/><path fill="#b7ab8a" d="M697 266h4v4h-4z"/><path fill="#d5ccb7" d="M701 266h4v4h-4z"/><path fill="#baae8d" d="M697 270h4v4h-4z"/><path fill="#c0b496" d="M701 270h4v4h-4z"/><path fill="#b4a887" d="M701 274h4v4h-4z"/><path fill="#cfc3ae" d="M705 274h3v4h-3zM701 278h4v4h-4z"/><path fill="#d2d8e1" d="M732 274h4v4h-4z"/><path fill="#d2d8de" d="M641 278h4v4h-4z"/><path fill="#c6cfdb" d="M645 278h4v4h-4z"/></g>
<g transform="translate(635.50 125.50)">
<path fill="#97b6e1" d="M0 0 L84.5 0 L84.5 2.5 L15.3 2.5 L15.3 10.8 L19.1 10.8 L19.1 14.6 L26.1 14.6 L26.1 19.1 L30 19.1 L30 26.8 L26.8 26.8 L26.8 31.2 L23.6 31.2 L23.6 34.4 L19.7 34.4 L19.7 38.2 L15.3 38.2 L15.3 42.7 L8.9 42.7 L8.9 47.1 L2.5 47.1 L2.5 154 L0 154Z"/>
<path fill="#97b6e1" d="M22 151 L125 151 L125 156 L22 156Z"/>
<path fill="#97b6e1" d="M159.5 0 L163 0 L163 104 L159.5 104Z"/>
</g>
<g transform="translate(635.50 125.50)">
<path d="M155 30 L153.5 30.5 L150.5 31.3 L147.5 33 L144 35.5 L140.5 39.5 L137.3 43.5 L135.5 47.5 L134 52 L132.5 56.5 L131 61 L129.5 65.5 L127.5 70 L125.5 74.5 L123.5 79.5 L121 84.5 L119 89.5 L117.5 94.5 L116 98.5 L114.3 101.6 L111.5 103.8 L110 106.6 L109.3 110.9 L110 113.7 L111.5 115.9 L110.8 119.5 L111.5 122.3 L115.7 123.7 L117.9 125.9 L119.3 129.4 L120.7 133.7 L122.9 138 L124 142.2 L124.6 147.9 L125 152.9 L125.2 156.5 L165.5 156.5 L165.5 98.5 L160.9 98.1 L159.9 100.7 L157.3 101.8 L154.1 100.7 L152 98.1 L151 95 L151.5 91.8 L152 88.7 L153.6 86 L155.7 82.9 L155.2 80.3 L154.1 82.4 L151.5 82.4 L151.5 80.3 L152.5 77.1 L151.1 74 L149.5 71.5 L147.7 68 L147.8 65 L148.9 59.5 L149.8 54.5 L150.3 50.5 L151.7 46.5 L152.5 41.5 L153.5 36.5 L154.5 33.5 L155.5 31.5Z" fill="#f0f0dc"/>
<path d="M23.1 -15.8L27.3 170.4M46.3 -16.3L50.5 169.9M69.5 -16.7L73.7 169.5M92.7 -17.1L96.9 169.1M115.9 -17.6L120.1 168.6M139.1 -18L143.3 168.2M-18 14.3L176.9 10.7M-17.5 33.9L177.3 30.3M-17.1 53.5L177.8 49.9M-16.7 73.1L178.2 69.5M-16.2 92.7L178.7 89.1M-15.8 112.3L179.1 108.7M-15.3 131.9L179.5 128.3M-14.9 151.5L180 147.9" fill="none" stroke="#b4b4b4" stroke-width="1.1"/>
<path d="M155 30 L153.5 30.5 L150.5 31.3 L147.5 33 L144 35.5 L140.5 39.5 L137.3 43.5 L135.5 47.5 L134 52 L132.5 56.5 L131 61 L129.5 65.5 L127.5 70 L125.5 74.5 L123.5 79.5 L121 84.5 L119 89.5 L117.5 94.5 L116 98.5 L114.3 101.6 L111.5 103.8 L110 106.6 L109.3 110.9 L110 113.7 L111.5 115.9 L110.8 119.5 L111.5 122.3 L115.7 123.7 L117.9 125.9 L119.3 129.4 L120.7 133.7 L122.9 138 L124 142.2 L124.6 147.9 L125 152.9 L125.2 156.5 M160.9 98.1 L159.9 100.7 L157.3 101.8 L154.1 100.7 L152 98.1 L151 95 L151.5 91.8 L152 88.7 L153.6 86 L155.7 82.9 L155.2 80.3 L154.1 82.4 L151.5 82.4 L151.5 80.3 L152.5 77.1 L151.1 74 L149.5 71.5 L147.7 68 L147.8 65 L148.9 59.5 L149.8 54.5 L150.3 50.5 L151.7 46.5 L152.5 41.5 L153.5 36.5 L154.5 33.5 L155.5 31.5 L155 30" fill="none" stroke="#707070" stroke-width="1.4" stroke-linejoin="round"/>
</g></g>
<rect x="635.50" y="125.50" width="162.00" height="154.00" fill="none" stroke="#000" stroke-width="1.1"/>
<text x="635.8" y="114.5" text-anchor="middle" font-size="13.9" textLength="55.38" lengthAdjust="spacingAndGlyphs">112.5°E</text>
<text x="639.2" y="296.8" text-anchor="middle" font-size="13.9" textLength="55.38" lengthAdjust="spacingAndGlyphs">112.5°E</text>
<text x="705.4" y="114.5" text-anchor="middle" font-size="13.9" textLength="64.12" lengthAdjust="spacingAndGlyphs">113.25°E</text>
<text x="708.8" y="296.8" text-anchor="middle" font-size="13.9" textLength="64.12" lengthAdjust="spacingAndGlyphs">113.25°E</text>
<text x="775" y="114.5" text-anchor="middle" font-size="13.9" textLength="42.25" lengthAdjust="spacingAndGlyphs">114°E</text>
<text x="778.4" y="296.8" text-anchor="middle" font-size="13.9" textLength="42.25" lengthAdjust="spacingAndGlyphs">114°E</text>
<rect x="807.61" y="171.3" width="3.1" height="62.2" fill="url(#cb2)" stroke="#000" stroke-width="0.9"/>
<path d="M810.71 171.3h4.8" stroke="#000" stroke-width="0.9"/>
<text x="820.31" y="176.3" font-size="13.9" textLength="21.88" lengthAdjust="spacingAndGlyphs">0.2</text>
<path d="M810.71 202.4h4.8" stroke="#000" stroke-width="0.9"/>
<text x="820.31" y="207.4" font-size="13.9" textLength="21.88" lengthAdjust="spacingAndGlyphs">0.0</text>
<path d="M810.71 233.5h4.8" stroke="#000" stroke-width="0.9"/>
<text x="820.31" y="238.5" font-size="13.9" textLength="33.5" lengthAdjust="spacingAndGlyphs">−0.2</text>
<text x="886.00" y="95.6" font-size="17.9" textLength="121.20" lengthAdjust="spacingAndGlyphs">dSST/dy [K km</text>
<rect x="1008.70" y="85.2" width="7.8" height="1.1" fill="#000"/>
<text x="1018.20" y="88.75" font-size="11.67">1</text>
<text x="1026.80" y="94.8" font-size="17.9">]</text>
<clipPath id="mc3"><rect x="878.50" y="125.50" width="162.00" height="154.00"/></clipPath>
<g clip-path="url(#mc3)">
<rect x="878.50" y="125.50" width="162.00" height="154.00" fill="#97b6e1"/>
<g shape-rendering="crispEdges"><path fill="#f3f0f0" d="M876 124h4v4h-4zM912 124h4v4h-4zM928 124h4v4h-4zM932 124h4v4h-4zM940 124h4v4h-4zM952 124h3v4h-3zM955 124h4v4h-4zM963 124h4v4h-4zM971 124h4v4h-4zM983 124h4v4h-4zM987 124h4v4h-4zM995 124h4v4h-4zM1003 124h4v4h-4zM1007 124h4v4h-4zM1011 124h4v4h-4zM1019 124h4v4h-4zM1023 124h4v4h-4zM1034 124h4v4h-4zM876 128h4v4h-4zM880 128h4v4h-4zM892 128h4v4h-4zM896 128h4v4h-4zM900 128h4v4h-4zM904 128h4v4h-4zM920 128h4v4h-4zM924 128h4v4h-4zM928 128h4v4h-4zM940 128h4v4h-4zM955 128h4v4h-4zM963 128h4v4h-4zM967 128h4v4h-4zM1023 128h4v4h-4zM1030 128h4v4h-4zM1034 128h4v4h-4zM876 132h4v4h-4zM884 132h4v4h-4zM888 132h4v4h-4zM892 132h4v4h-4zM904 132h4v4h-4zM920 132h4v4h-4zM948 132h4v4h-4zM952 132h3v4h-3zM959 132h4v4h-4zM963 132h4v4h-4zM967 132h4v4h-4zM1023 132h4v4h-4zM1027 132h3v4h-3zM1030 132h4v4h-4zM1038 132h4v4h-4zM888 136h4v4h-4zM896 136h4v4h-4zM908 136h4v4h-4zM912 136h4v4h-4zM916 136h4v4h-4zM944 136h4v4h-4zM948 136h4v4h-4zM952 136h3v4h-3zM955 136h4v4h-4zM959 136h4v4h-4zM963 136h4v4h-4zM1027 136h3v4h-3zM1034 136h4v4h-4zM888 140h4v4h-4zM920 140h4v4h-4zM924 140h4v4h-4zM928 140h4v4h-4zM932 140h4v4h-4zM944 140h4v4h-4zM952 140h3v4h-3zM955 140h4v4h-4zM963 140h4v4h-4zM967 140h4v4h-4zM975 140h4v4h-4zM979 140h4v4h-4zM983 140h4v4h-4zM987 140h4v4h-4zM991 140h4v4h-4zM995 140h4v4h-4zM1011 140h4v4h-4zM1015 140h4v4h-4zM1027 140h3v4h-3zM1034 140h4v4h-4zM1038 140h4v4h-4zM876 144h4v4h-4zM940 144h4v4h-4zM948 144h4v4h-4zM952 144h3v4h-3zM955 144h4v4h-4zM963 144h4v4h-4zM975 144h4v4h-4zM979 144h4v4h-4zM983 144h4v4h-4zM987 144h4v4h-4zM1023 144h4v4h-4zM1027 144h3v4h-3zM1030 144h4v4h-4zM1034 144h4v4h-4zM1038 144h4v4h-4zM876 148h4v4h-4zM880 148h4v4h-4zM884 148h4v4h-4zM888 148h4v4h-4zM928 148h4v4h-4zM932 148h4v4h-4zM936 148h4v4h-4zM944 148h4v4h-4zM955 148h4v4h-4zM959 148h4v4h-4zM967 148h4v4h-4zM971 148h4v4h-4zM975 148h4v4h-4zM979 148h4v4h-4zM983 148h4v4h-4zM1023 148h4v4h-4zM1027 148h3v4h-3zM1034 148h4v4h-4zM1038 148h4v4h-4zM876 152h4v4h-4zM932 152h4v4h-4zM936 152h4v4h-4zM940 152h4v4h-4zM952 152h3v4h-3zM955 152h4v4h-4zM959 152h4v4h-4zM971 152h4v4h-4zM975 152h4v4h-4zM1023 152h4v4h-4zM1027 152h3v4h-3zM1034 152h4v4h-4zM900 156h4v4h-4zM904 156h4v4h-4zM924 156h4v4h-4zM936 156h4v4h-4zM940 156h4v4h-4zM944 156h4v4h-4zM948 156h4v4h-4zM955 156h4v4h-4zM971 156h4v4h-4zM975 156h4v4h-4zM979 156h4v4h-4zM983 156h4v4h-4zM987 156h4v4h-4zM995 156h4v4h-4zM1003 156h4v4h-4zM880 160h4v4h-4zM884 160h4v4h-4zM888 160h4v4h-4zM892 160h4v4h-4zM908 160h4v4h-4zM912 160h4v4h-4zM916 160h4v4h-4zM932 160h4v4h-4zM944 160h4v4h-4zM948 160h4v4h-4zM955 160h4v4h-4zM967 160h4v4h-4zM888 164h4v4h-4zM892 164h4v4h-4zM904 164h4v4h-4zM912 164h4v4h-4zM916 164h4v4h-4zM920 164h4v4h-4zM940 164h4v4h-4zM955 164h4v4h-4zM884 168h4v4h-4zM896 168h4v4h-4zM912 168h4v4h-4zM924 168h4v4h-4zM928 168h4v4h-4zM940 168h4v4h-4zM955 168h4v4h-4zM876 172h4v4h-4zM880 172h4v4h-4zM888 172h4v4h-4zM900 172h4v4h-4zM916 172h4v4h-4zM936 172h4v4h-4zM944 172h4v4h-4zM959 172h4v4h-4zM880 176h4v4h-4zM884 176h4v4h-4zM896 176h4v4h-4zM908 176h4v4h-4zM912 176h4v4h-4zM932 176h4v4h-4zM936 176h4v4h-4zM948 176h4v4h-4zM975 176h4v4h-4zM991 176h4v4h-4zM995 176h4v4h-4zM1007 176h4v4h-4zM880 180h4v4h-4zM888 180h4v4h-4zM900 180h4v4h-4zM904 180h4v4h-4zM928 180h4v4h-4zM948 180h4v4h-4zM975 180h4v4h-4zM983 180h4v4h-4zM987 180h4v4h-4zM991 180h4v4h-4zM999 180h4v4h-4zM1003 180h4v4h-4zM896 184h4v3h-4zM912 184h4v3h-4zM924 184h4v3h-4zM928 184h4v3h-4zM932 184h4v3h-4zM936 184h4v3h-4zM971 184h4v3h-4zM975 184h4v3h-4zM991 184h4v3h-4zM995 184h4v3h-4zM999 184h4v3h-4zM1003 184h4v3h-4zM888 187h4v4h-4zM892 187h4v4h-4zM900 187h4v4h-4zM904 187h4v4h-4zM916 187h4v4h-4zM928 187h4v4h-4zM940 187h4v4h-4zM944 187h4v4h-4zM948 187h4v4h-4zM975 187h4v4h-4zM979 187h4v4h-4zM983 187h4v4h-4zM991 187h4v4h-4zM995 187h4v4h-4zM999 187h4v4h-4zM1003 187h4v4h-4zM876 191h4v4h-4zM892 191h4v4h-4zM916 191h4v4h-4zM920 191h4v4h-4zM928 191h4v4h-4zM932 191h4v4h-4zM940 191h4v4h-4zM944 191h4v4h-4zM952 191h3v4h-3zM955 191h4v4h-4zM963 191h4v4h-4zM983 191h4v4h-4zM987 191h4v4h-4zM995 191h4v4h-4zM999 191h4v4h-4zM880 195h4v4h-4zM884 195h4v4h-4zM892 195h4v4h-4zM896 195h4v4h-4zM904 195h4v4h-4zM908 195h4v4h-4zM916 195h4v4h-4zM924 195h4v4h-4zM932 195h4v4h-4zM940 195h4v4h-4zM944 195h4v4h-4zM955 195h4v4h-4zM959 195h4v4h-4zM963 195h4v4h-4zM967 195h4v4h-4zM971 195h4v4h-4zM975 195h4v4h-4zM995 195h4v4h-4zM999 195h4v4h-4zM880 199h4v4h-4zM892 199h4v4h-4zM896 199h4v4h-4zM900 199h4v4h-4zM904 199h4v4h-4zM908 199h4v4h-4zM912 199h4v4h-4zM916 199h4v4h-4zM920 199h4v4h-4zM924 199h4v4h-4zM932 199h4v4h-4zM936 199h4v4h-4zM944 199h4v4h-4zM952 199h3v4h-3zM955 199h4v4h-4zM967 199h4v4h-4zM975 199h4v4h-4zM979 199h4v4h-4zM987 199h4v4h-4zM991 199h4v4h-4zM995 199h4v4h-4zM884 203h4v4h-4zM892 203h4v4h-4zM896 203h4v4h-4zM900 203h4v4h-4zM904 203h4v4h-4zM912 203h4v4h-4zM920 203h4v4h-4zM924 203h4v4h-4zM936 203h4v4h-4zM948 203h4v4h-4zM955 203h4v4h-4zM959 203h4v4h-4zM963 203h4v4h-4zM975 203h4v4h-4zM979 203h4v4h-4zM991 203h4v4h-4zM995 203h4v4h-4zM888 207h4v4h-4zM904 207h4v4h-4zM916 207h4v4h-4zM924 207h4v4h-4zM936 207h4v4h-4zM940 207h4v4h-4zM948 207h4v4h-4zM959 207h4v4h-4zM975 207h4v4h-4zM979 207h4v4h-4zM991 207h4v4h-4zM876 211h4v4h-4zM880 211h4v4h-4zM884 211h4v4h-4zM908 211h4v4h-4zM916 211h4v4h-4zM928 211h4v4h-4zM936 211h4v4h-4zM944 211h4v4h-4zM948 211h4v4h-4zM955 211h4v4h-4zM975 211h4v4h-4zM987 211h4v4h-4zM991 211h4v4h-4zM896 215h4v4h-4zM900 215h4v4h-4zM904 215h4v4h-4zM916 215h4v4h-4zM924 215h4v4h-4zM928 215h4v4h-4zM932 215h4v4h-4zM940 215h4v4h-4zM955 215h4v4h-4zM959 215h4v4h-4zM967 215h4v4h-4zM971 215h4v4h-4zM979 215h4v4h-4zM987 215h4v4h-4zM991 215h4v4h-4zM880 219h4v4h-4zM888 219h4v4h-4zM892 219h4v4h-4zM908 219h4v4h-4zM916 219h4v4h-4zM920 219h4v4h-4zM924 219h4v4h-4zM928 219h4v4h-4zM932 219h4v4h-4zM936 219h4v4h-4zM944 219h4v4h-4zM952 219h3v4h-3zM955 219h4v4h-4zM963 219h4v4h-4zM971 219h4v4h-4zM975 219h4v4h-4zM979 219h4v4h-4zM884 223h4v4h-4zM900 223h4v4h-4zM916 223h4v4h-4zM920 223h4v4h-4zM928 223h4v4h-4zM940 223h4v4h-4zM948 223h4v4h-4zM955 223h4v4h-4zM967 223h4v4h-4zM971 223h4v4h-4zM983 223h4v4h-4zM896 227h4v4h-4zM900 227h4v4h-4zM940 227h4v4h-4zM948 227h4v4h-4zM952 227h3v4h-3zM959 227h4v4h-4zM963 227h4v4h-4zM971 227h4v4h-4zM975 227h4v4h-4zM983 227h4v4h-4zM884 231h4v4h-4zM888 231h4v4h-4zM936 231h4v4h-4zM955 231h4v4h-4zM959 231h4v4h-4zM963 231h4v4h-4zM975 231h4v4h-4zM983 231h4v4h-4zM876 235h4v4h-4zM952 235h3v4h-3zM963 235h4v4h-4zM975 235h4v4h-4zM932 239h4v4h-4zM936 239h4v4h-4zM940 239h4v4h-4zM944 239h4v4h-4zM948 239h4v4h-4zM952 239h3v4h-3zM955 239h4v4h-4zM963 239h4v4h-4zM967 239h4v4h-4zM971 239h4v4h-4zM928 243h4v4h-4zM932 243h4v4h-4zM936 243h4v4h-4zM944 243h4v4h-4zM948 243h4v4h-4zM952 243h3v4h-3zM955 243h4v4h-4zM963 243h4v4h-4zM880 247h4v4h-4zM892 247h4v4h-4zM932 247h4v4h-4zM936 247h4v4h-4zM940 247h4v4h-4zM944 247h4v4h-4zM948 247h4v4h-4zM959 247h4v4h-4zM963 247h4v4h-4zM971 247h4v4h-4zM876 251h4v4h-4zM880 251h4v4h-4zM944 251h4v4h-4zM948 251h4v4h-4zM952 251h3v4h-3zM955 251h4v4h-4zM959 251h4v4h-4zM963 251h4v4h-4zM967 251h4v4h-4zM983 251h4v4h-4zM987 251h4v4h-4zM991 251h4v4h-4zM944 255h4v4h-4zM955 255h4v4h-4zM959 255h4v4h-4zM876 259h4v3h-4zM896 259h4v3h-4zM959 259h4v3h-4zM967 259h4v3h-4zM916 262h4v4h-4zM952 262h3v4h-3zM955 262h4v4h-4zM959 262h4v4h-4zM971 262h4v4h-4zM904 266h4v4h-4zM912 266h4v4h-4zM916 266h4v4h-4zM959 266h4v4h-4zM971 266h4v4h-4zM975 266h4v4h-4zM979 266h4v4h-4zM987 266h4v4h-4zM991 266h4v4h-4zM880 270h4v4h-4zM924 270h4v4h-4zM959 270h4v4h-4zM963 270h4v4h-4zM967 270h4v4h-4zM971 270h4v4h-4zM975 270h4v4h-4zM979 270h4v4h-4zM991 270h4v4h-4zM995 270h4v4h-4zM884 274h4v4h-4zM892 274h4v4h-4zM904 274h4v4h-4zM916 274h4v4h-4zM920 274h4v4h-4zM924 274h4v4h-4zM928 274h4v4h-4zM932 274h4v4h-4zM955 274h4v4h-4zM959 274h4v4h-4zM963 274h4v4h-4zM967 274h4v4h-4zM971 274h4v4h-4zM975 274h4v4h-4zM979 274h4v4h-4zM987 274h4v4h-4zM991 274h4v4h-4zM995 274h4v4h-4zM876 278h4v4h-4zM880 278h4v4h-4zM884 278h4v4h-4zM892 278h4v4h-4zM904 278h4v4h-4zM912 278h4v4h-4zM920 278h4v4h-4zM924 278h4v4h-4zM932 278h4v4h-4zM940 278h4v4h-4zM948 278h4v4h-4zM952 278h3v4h-3zM955 278h4v4h-4zM959 278h4v4h-4zM963 278h4v4h-4zM967 278h4v4h-4zM971 278h4v4h-4zM975 278h4v4h-4zM983 278h4v4h-4zM987 278h4v4h-4zM991 278h4v4h-4z"/><path fill="#f0edf0" d="M880 124h4v4h-4zM924 124h4v4h-4zM1038 124h4v4h-4zM908 128h4v4h-4zM916 128h4v4h-4zM952 128h3v4h-3zM908 132h4v4h-4zM884 136h4v4h-4zM892 136h4v4h-4zM1038 136h4v4h-4zM900 140h4v4h-4zM936 144h4v4h-4zM991 144h4v4h-4zM995 144h4v4h-4zM1007 144h4v4h-4zM1011 144h4v4h-4zM1015 144h4v4h-4zM948 148h4v4h-4zM987 148h4v4h-4zM884 152h4v4h-4zM944 152h4v4h-4zM948 152h4v4h-4zM999 152h4v4h-4zM1003 152h4v4h-4zM1007 152h4v4h-4zM1011 152h4v4h-4zM896 156h4v4h-4zM952 156h3v4h-3zM959 156h4v4h-4zM920 160h4v4h-4zM924 160h4v4h-4zM987 160h4v4h-4zM936 164h4v4h-4zM963 164h4v4h-4zM880 168h4v4h-4zM948 172h4v4h-4zM995 172h4v4h-4zM876 176h4v4h-4zM940 176h4v4h-4zM963 176h4v4h-4zM979 176h4v4h-4zM983 176h4v4h-4zM892 180h4v4h-4zM952 180h3v4h-3zM955 180h4v4h-4zM995 180h4v4h-4zM888 184h4v3h-4zM940 184h4v3h-4zM896 187h4v4h-4zM908 187h4v4h-4zM924 187h4v4h-4zM948 191h4v4h-4zM967 191h4v4h-4zM991 191h4v4h-4zM936 195h4v4h-4zM880 203h4v4h-4zM952 203h3v4h-3zM987 203h4v4h-4zM920 207h4v4h-4zM983 207h4v4h-4zM892 211h4v4h-4zM900 211h4v4h-4zM952 211h3v4h-3zM944 215h4v4h-4zM952 215h3v4h-3zM963 215h4v4h-4zM884 219h4v4h-4zM904 219h4v4h-4zM912 219h4v4h-4zM880 223h4v4h-4zM892 223h4v4h-4zM912 223h4v4h-4zM932 223h4v4h-4zM959 223h4v4h-4zM979 223h4v4h-4zM892 227h4v4h-4zM967 227h4v4h-4zM896 231h4v4h-4zM940 231h4v4h-4zM944 231h4v4h-4zM948 231h4v4h-4zM892 235h4v4h-4zM944 235h4v4h-4zM967 235h4v4h-4zM920 239h4v4h-4zM924 239h4v4h-4zM892 243h4v4h-4zM971 243h4v4h-4zM896 251h4v4h-4zM896 255h4v4h-4zM967 255h4v4h-4zM975 255h4v4h-4zM971 259h4v3h-4zM991 262h4v4h-4zM995 262h4v4h-4zM876 266h4v4h-4zM876 270h4v4h-4zM936 274h4v4h-4zM896 278h4v4h-4zM944 278h4v4h-4z"/><path fill="#f0eded" d="M884 124h4v4h-4zM888 124h4v4h-4zM967 124h4v4h-4zM884 128h4v4h-4zM888 128h4v4h-4zM936 128h4v4h-4zM1027 128h3v4h-3zM896 132h4v4h-4zM900 132h4v4h-4zM944 132h4v4h-4zM904 136h4v4h-4zM967 136h4v4h-4zM975 136h4v4h-4zM987 136h4v4h-4zM991 136h4v4h-4zM1011 136h4v4h-4zM1015 136h4v4h-4zM1019 136h4v4h-4zM1023 136h4v4h-4zM880 140h4v4h-4zM892 140h4v4h-4zM936 140h4v4h-4zM959 140h4v4h-4zM971 140h4v4h-4zM1030 140h4v4h-4zM884 144h4v4h-4zM896 144h4v4h-4zM900 144h4v4h-4zM924 144h4v4h-4zM959 144h4v4h-4zM896 148h4v4h-4zM900 148h4v4h-4zM952 148h3v4h-3zM963 148h4v4h-4zM1030 148h4v4h-4zM896 152h4v4h-4zM900 152h4v4h-4zM967 152h4v4h-4zM876 156h4v4h-4zM884 156h4v4h-4zM920 156h4v4h-4zM963 156h4v4h-4zM967 156h4v4h-4zM991 156h4v4h-4zM896 160h4v4h-4zM928 160h4v4h-4zM936 160h4v4h-4zM940 160h4v4h-4zM952 160h3v4h-3zM959 160h4v4h-4zM971 160h4v4h-4zM991 160h4v4h-4zM884 164h4v4h-4zM896 164h4v4h-4zM924 164h4v4h-4zM944 164h4v4h-4zM948 164h4v4h-4zM952 164h3v4h-3zM944 168h4v4h-4zM959 168h4v4h-4zM912 172h4v4h-4zM924 172h4v4h-4zM928 172h4v4h-4zM892 176h4v4h-4zM924 176h4v4h-4zM944 176h4v4h-4zM971 176h4v4h-4zM987 176h4v4h-4zM999 176h4v4h-4zM1003 176h4v4h-4zM916 180h4v4h-4zM876 184h4v3h-4zM900 184h4v3h-4zM916 184h4v3h-4zM948 184h4v3h-4zM876 187h4v4h-4zM912 187h4v4h-4zM920 187h4v4h-4zM896 191h4v4h-4zM924 191h4v4h-4zM979 191h4v4h-4zM876 195h4v4h-4zM920 195h4v4h-4zM876 199h4v4h-4zM932 203h4v4h-4zM971 203h4v4h-4zM983 203h4v4h-4zM908 207h4v4h-4zM920 211h4v4h-4zM924 211h4v4h-4zM940 211h4v4h-4zM959 211h4v4h-4zM884 215h4v4h-4zM948 215h4v4h-4zM896 219h4v4h-4zM900 219h4v4h-4zM959 219h4v4h-4zM888 223h4v4h-4zM896 223h4v4h-4zM904 223h4v4h-4zM924 223h4v4h-4zM936 223h4v4h-4zM963 223h4v4h-4zM876 227h4v4h-4zM967 231h4v4h-4zM971 231h4v4h-4zM884 235h4v4h-4zM888 235h4v4h-4zM971 235h4v4h-4zM979 235h4v4h-4zM975 247h4v4h-4zM892 251h4v4h-4zM900 251h4v4h-4zM979 251h4v4h-4zM900 255h4v4h-4zM904 255h4v4h-4zM948 255h4v4h-4zM963 255h4v4h-4zM880 259h4v3h-4zM884 259h4v3h-4zM952 259h3v3h-3zM963 259h4v3h-4zM876 262h4v4h-4zM880 262h4v4h-4zM896 262h4v4h-4zM904 262h4v4h-4zM912 262h4v4h-4zM963 262h4v4h-4zM967 262h4v4h-4zM880 266h4v4h-4zM952 266h3v4h-3zM963 266h4v4h-4zM967 266h4v4h-4zM983 266h4v4h-4zM995 266h4v4h-4zM920 270h4v4h-4zM928 270h4v4h-4zM932 270h4v4h-4zM983 270h4v4h-4zM876 274h4v4h-4zM888 274h4v4h-4zM896 274h4v4h-4zM888 278h4v4h-4zM916 278h4v4h-4z"/><path fill="#f6f3f0" d="M892 124h4v4h-4zM908 124h4v4h-4zM916 124h4v4h-4zM920 124h4v4h-4zM936 124h4v4h-4zM944 124h4v4h-4zM959 124h4v4h-4zM1030 124h4v4h-4zM920 136h4v4h-4zM924 136h4v4h-4zM896 140h4v4h-4zM948 140h4v4h-4zM928 144h4v4h-4zM892 148h4v4h-4zM940 148h4v4h-4zM888 152h4v4h-4zM892 152h4v4h-4zM928 152h4v4h-4zM983 152h4v4h-4zM900 168h4v4h-4zM952 168h3v4h-3zM896 172h4v4h-4zM908 172h4v4h-4zM888 176h4v4h-4zM904 176h4v4h-4zM908 180h4v4h-4zM936 180h4v4h-4zM908 184h4v3h-4zM983 184h4v3h-4zM936 187h4v4h-4zM880 191h4v4h-4zM888 191h4v4h-4zM900 191h4v4h-4zM959 191h4v4h-4zM888 195h4v4h-4zM912 195h4v4h-4zM987 195h4v4h-4zM888 199h4v4h-4zM908 203h4v4h-4zM955 207h4v4h-4zM892 215h4v4h-4zM936 215h4v4h-4zM987 223h4v4h-4zM888 227h4v4h-4zM880 231h4v4h-4zM880 235h4v4h-4zM955 235h4v4h-4zM959 243h4v4h-4zM876 255h4v4h-4zM952 255h3v4h-3zM908 266h4v4h-4zM916 270h4v4h-4zM900 274h4v4h-4zM912 274h4v4h-4zM983 274h4v4h-4z"/><path fill="#f6f0f0" d="M896 124h4v4h-4zM975 124h4v4h-4zM979 124h4v4h-4zM991 124h4v4h-4zM1027 124h3v4h-3zM944 128h4v4h-4zM880 132h4v4h-4zM1034 132h4v4h-4zM900 136h4v4h-4zM928 136h4v4h-4zM999 136h4v4h-4zM1003 136h4v4h-4zM1003 140h4v4h-4zM1023 140h4v4h-4zM888 144h4v4h-4zM932 144h4v4h-4zM963 152h4v4h-4zM1038 152h4v4h-4zM892 156h4v4h-4zM912 156h4v4h-4zM900 160h4v4h-4zM963 160h4v4h-4zM900 164h4v4h-4zM908 164h4v4h-4zM928 164h4v4h-4zM932 164h4v4h-4zM892 168h4v4h-4zM936 168h4v4h-4zM920 172h4v4h-4zM955 172h4v4h-4zM959 176h4v4h-4zM876 180h4v4h-4zM932 180h4v4h-4zM940 180h4v4h-4zM975 191h4v4h-4zM928 195h4v4h-4zM952 195h3v4h-3zM928 199h4v4h-4zM983 199h4v4h-4zM876 203h4v4h-4zM944 207h4v4h-4zM888 211h4v4h-4zM908 215h4v4h-4zM920 215h4v4h-4zM975 215h4v4h-4zM940 219h4v4h-4zM876 223h4v4h-4zM955 227h4v4h-4zM876 231h4v4h-4zM948 235h4v4h-4zM876 239h4v4h-4zM967 247h4v4h-4zM900 262h4v4h-4zM900 266h4v4h-4zM900 270h4v4h-4zM904 270h4v4h-4zM955 270h4v4h-4zM880 274h4v4h-4zM928 278h4v4h-4zM979 278h4v4h-4zM995 278h4v4h-4z"/><path fill="#f0f0f0" d="M900 124h4v4h-4zM1038 128h4v4h-4zM955 132h4v4h-4zM1030 136h4v4h-4zM884 140h4v4h-4zM940 140h4v4h-4zM892 144h4v4h-4zM971 144h4v4h-4zM999 144h4v4h-4zM1003 144h4v4h-4zM1019 144h4v4h-4zM880 152h4v4h-4zM987 152h4v4h-4zM995 152h4v4h-4zM1015 152h4v4h-4zM1019 152h4v4h-4zM1019 156h4v4h-4zM888 168h4v4h-4zM908 168h4v4h-4zM916 168h4v4h-4zM948 168h4v4h-4zM892 172h4v4h-4zM904 172h4v4h-4zM932 172h4v4h-4zM952 172h3v4h-3zM999 172h4v4h-4zM1003 172h4v4h-4zM1007 172h4v4h-4zM920 176h4v4h-4zM912 180h4v4h-4zM920 180h4v4h-4zM971 180h4v4h-4zM880 184h4v3h-4zM920 184h4v3h-4zM979 184h4v3h-4zM952 187h3v4h-3zM904 191h4v4h-4zM971 191h4v4h-4zM979 195h4v4h-4zM983 195h4v4h-4zM940 199h4v4h-4zM959 199h4v4h-4zM963 199h4v4h-4zM971 199h4v4h-4zM880 207h4v4h-4zM900 207h4v4h-4zM952 207h3v4h-3zM963 207h4v4h-4zM987 207h4v4h-4zM932 211h4v4h-4zM983 211h4v4h-4zM983 215h4v4h-4zM948 219h4v4h-4zM967 219h4v4h-4zM944 223h4v4h-4zM936 227h4v4h-4zM944 227h4v4h-4zM892 231h4v4h-4zM952 231h3v4h-3zM936 235h4v4h-4zM940 235h4v4h-4zM892 239h4v4h-4zM928 239h4v4h-4zM967 243h4v4h-4zM952 247h3v4h-3zM955 247h4v4h-4zM940 251h4v4h-4zM975 251h4v4h-4zM971 255h4v4h-4zM955 259h4v3h-4zM987 270h4v4h-4zM908 274h4v4h-4zM952 274h3v4h-3zM900 278h4v4h-4zM908 278h4v4h-4zM936 278h4v4h-4z"/><path fill="#f6f3f3" d="M904 124h4v4h-4zM948 124h4v4h-4zM999 124h4v4h-4zM1015 124h4v4h-4zM948 128h4v4h-4zM959 128h4v4h-4zM924 132h4v4h-4zM876 136h4v4h-4zM880 136h4v4h-4zM876 140h4v4h-4zM999 140h4v4h-4zM1007 140h4v4h-4zM1019 140h4v4h-4zM880 144h4v4h-4zM944 144h4v4h-4zM967 144h4v4h-4zM979 152h4v4h-4zM880 156h4v4h-4zM888 156h4v4h-4zM928 156h4v4h-4zM932 156h4v4h-4zM999 156h4v4h-4zM1038 156h4v4h-4zM876 160h4v4h-4zM904 160h4v4h-4zM876 164h4v4h-4zM880 164h4v4h-4zM876 168h4v4h-4zM904 168h4v4h-4zM920 168h4v4h-4zM932 168h4v4h-4zM884 172h4v4h-4zM940 172h4v4h-4zM900 176h4v4h-4zM916 176h4v4h-4zM928 176h4v4h-4zM952 176h3v4h-3zM955 176h4v4h-4zM884 180h4v4h-4zM924 180h4v4h-4zM944 180h4v4h-4zM979 180h4v4h-4zM892 184h4v3h-4zM904 184h4v3h-4zM944 184h4v3h-4zM987 184h4v3h-4zM932 187h4v4h-4zM987 187h4v4h-4zM908 191h4v4h-4zM912 191h4v4h-4zM936 191h4v4h-4zM900 195h4v4h-4zM948 195h4v4h-4zM991 195h4v4h-4zM884 199h4v4h-4zM948 199h4v4h-4zM888 203h4v4h-4zM916 203h4v4h-4zM928 203h4v4h-4zM940 203h4v4h-4zM944 203h4v4h-4zM967 203h4v4h-4zM884 207h4v4h-4zM912 207h4v4h-4zM928 207h4v4h-4zM932 207h4v4h-4zM967 207h4v4h-4zM971 207h4v4h-4zM904 211h4v4h-4zM912 211h4v4h-4zM963 211h4v4h-4zM967 211h4v4h-4zM971 211h4v4h-4zM979 211h4v4h-4zM876 215h4v4h-4zM880 215h4v4h-4zM888 215h4v4h-4zM912 215h4v4h-4zM876 219h4v4h-4zM983 219h4v4h-4zM987 219h4v4h-4zM952 223h3v4h-3zM975 223h4v4h-4zM880 227h4v4h-4zM884 227h4v4h-4zM979 227h4v4h-4zM979 231h4v4h-4zM959 235h4v4h-4zM959 239h4v4h-4zM876 243h4v4h-4zM940 243h4v4h-4zM876 247h4v4h-4zM971 251h4v4h-4zM955 266h4v4h-4zM908 270h4v4h-4zM912 270h4v4h-4z"/><path fill="#edeaed" d="M912 128h4v4h-4zM1015 156h4v4h-4zM963 172h4v4h-4zM963 180h4v4h-4zM967 180h4v4h-4zM884 184h4v3h-4zM967 184h4v3h-4zM892 207h4v4h-4zM920 235h4v4h-4zM924 243h4v4h-4zM936 251h4v4h-4zM912 255h4v4h-4zM940 255h4v4h-4zM979 255h4v4h-4zM991 255h4v4h-4zM944 259h4v3h-4z"/><path fill="#f3f0ed" d="M932 128h4v4h-4zM979 136h4v4h-4zM995 136h4v4h-4zM1007 136h4v4h-4zM904 140h4v4h-4zM916 140h4v4h-4zM924 152h4v4h-4zM880 239h4v4h-4zM888 247h4v4h-4zM908 262h4v4h-4zM896 270h4v4h-4z"/><path fill="#f0edea" d="M971 128h4v4h-4zM979 128h4v4h-4zM983 128h4v4h-4zM991 128h4v4h-4zM995 128h4v4h-4zM1003 128h4v4h-4zM1007 128h4v4h-4zM1011 128h4v4h-4zM1015 128h4v4h-4zM1019 128h4v4h-4zM928 132h4v4h-4zM971 136h4v4h-4zM908 140h4v4h-4zM912 140h4v4h-4zM904 144h4v4h-4zM924 148h4v4h-4zM916 156h4v4h-4zM888 239h4v4h-4zM896 266h4v4h-4z"/><path fill="#f3edea" d="M975 128h4v4h-4zM987 128h4v4h-4zM999 128h4v4h-4zM900 259h4v3h-4z"/><path fill="#e4e7ea" d="M912 132h4v4h-4zM971 164h4v4h-4zM955 184h4v3h-4zM959 184h4v3h-4zM967 187h4v4h-4zM912 231h4v4h-4zM932 231h4v4h-4zM908 235h4v4h-4zM920 243h4v4h-4zM979 259h4v3h-4z"/><path fill="#e7e7ed" d="M916 132h4v4h-4zM991 148h4v4h-4zM995 148h4v4h-4zM1003 148h4v4h-4zM1007 148h4v4h-4zM1011 148h4v4h-4zM1015 148h4v4h-4zM967 164h4v4h-4zM963 184h4v3h-4zM963 187h4v4h-4zM920 227h4v4h-4zM924 227h4v4h-4zM983 247h4v4h-4z"/><path fill="#f0eae1" d="M932 132h4v4h-4z"/><path fill="#eae4de" d="M936 132h4v4h-4zM979 132h4v4h-4zM983 132h4v4h-4zM995 132h4v4h-4zM916 144h4v4h-4zM920 148h4v4h-4zM912 152h4v4h-4zM892 262h4v4h-4z"/><path fill="#f0eae7" d="M940 132h4v4h-4zM920 152h4v4h-4zM880 243h4v4h-4z"/><path fill="#ede7e1" d="M971 132h4v4h-4zM936 136h4v4h-4zM908 144h4v4h-4zM908 152h4v4h-4zM916 152h4v4h-4zM888 270h4v4h-4z"/><path fill="#ede7de" d="M975 132h4v4h-4zM991 132h4v4h-4zM1003 132h4v4h-4zM1007 132h4v4h-4zM1015 132h4v4h-4z"/><path fill="#eae7de" d="M987 132h4v4h-4zM999 132h4v4h-4zM1011 132h4v4h-4z"/><path fill="#edeae4" d="M1019 132h4v4h-4zM904 148h4v4h-4zM892 270h4v4h-4z"/><path fill="#f0eae4" d="M932 136h4v4h-4z"/><path fill="#edeaea" d="M940 136h4v4h-4zM888 259h4v3h-4z"/><path fill="#f3eded" d="M983 136h4v4h-4zM908 156h4v4h-4zM892 259h4v3h-4z"/><path fill="#ede4db" d="M912 144h4v4h-4z"/><path fill="#ede7e4" d="M920 144h4v4h-4z"/><path fill="#eae1d8" d="M908 148h4v4h-4z"/><path fill="#e4dbcf" d="M912 148h4v4h-4zM884 243h4v4h-4zM888 262h4v4h-4z"/><path fill="#e4ded2" d="M916 148h4v4h-4z"/><path fill="#e4e7ed" d="M999 148h4v4h-4zM916 227h4v4h-4z"/><path fill="#eaeaed" d="M1019 148h4v4h-4zM995 160h4v4h-4zM963 168h4v4h-4zM967 172h4v4h-4zM991 172h4v4h-4zM884 187h4v4h-4zM959 187h4v4h-4zM928 227h4v4h-4zM896 235h4v4h-4zM916 235h4v4h-4zM928 235h4v4h-4zM975 239h4v4h-4zM896 243h4v4h-4zM975 243h4v4h-4zM900 247h4v4h-4zM928 247h4v4h-4zM979 247h4v4h-4zM983 255h4v4h-4zM987 255h4v4h-4zM991 259h4v3h-4zM979 262h4v4h-4zM948 274h4v4h-4z"/><path fill="#edeae7" d="M904 152h4v4h-4zM888 243h4v4h-4zM884 247h4v4h-4zM884 270h4v4h-4z"/><path fill="#ededed" d="M991 152h4v4h-4zM1007 156h4v4h-4zM1011 156h4v4h-4zM975 160h4v4h-4zM979 160h4v4h-4zM983 160h4v4h-4zM1034 160h4v4h-4zM1038 160h4v4h-4zM959 164h4v4h-4zM1034 164h4v4h-4zM1038 164h4v4h-4zM1034 168h4v4h-4zM1038 168h4v4h-4zM1030 172h4v4h-4zM1034 172h4v4h-4zM1038 172h4v4h-4zM967 176h4v4h-4zM1030 176h4v4h-4zM1034 176h4v4h-4zM1038 176h4v4h-4zM959 180h4v4h-4zM1030 180h4v4h-4zM1034 180h4v4h-4zM1038 180h4v4h-4zM1030 184h4v3h-4zM1034 184h4v3h-4zM1038 184h4v3h-4zM971 187h4v4h-4zM884 191h4v4h-4zM1030 195h4v4h-4zM1034 195h4v4h-4zM1038 195h4v4h-4zM1034 199h4v4h-4zM1038 199h4v4h-4zM1034 203h4v4h-4zM1038 203h4v4h-4zM1034 207h4v4h-4zM1038 207h4v4h-4zM1034 211h4v4h-4zM1038 211h4v4h-4zM1030 215h4v4h-4zM1030 219h4v4h-4zM908 223h4v4h-4zM932 227h4v4h-4zM900 231h4v4h-4zM912 235h4v4h-4zM924 235h4v4h-4zM896 247h4v4h-4zM904 251h4v4h-4zM880 255h4v4h-4zM892 255h4v4h-4zM908 255h4v4h-4zM948 259h4v3h-4zM975 259h4v3h-4zM920 262h4v4h-4zM975 262h4v4h-4zM952 270h3v4h-3z"/><path fill="#e1e4ea" d="M999 160h4v4h-4zM908 227h4v4h-4zM912 227h4v4h-4zM920 231h4v4h-4zM924 231h4v4h-4zM928 231h4v4h-4zM979 243h4v4h-4z"/><path fill="#dbdee7" d="M1003 160h4v4h-4zM1011 164h4v4h-4zM900 243h4v4h-4z"/><path fill="#d8dee4" d="M1007 160h4v4h-4zM912 251h4v4h-4z"/><path fill="#d5dbe4" d="M1011 160h4v4h-4zM995 164h4v4h-4zM1003 164h4v4h-4zM900 239h4v4h-4zM908 247h4v4h-4z"/><path fill="#dee1e7" d="M1015 160h4v4h-4zM983 164h4v4h-4zM987 164h4v4h-4zM967 168h4v4h-4zM995 168h4v4h-4zM900 235h4v4h-4zM983 243h4v4h-4zM916 255h4v4h-4zM987 259h4v3h-4zM932 266h4v4h-4zM948 270h4v4h-4z"/><path fill="#e1e1e7" d="M975 164h4v4h-4zM979 164h4v4h-4zM975 172h4v4h-4zM904 247h4v4h-4zM888 255h4v4h-4zM940 259h4v3h-4zM936 270h4v4h-4z"/><path fill="#dbdee4" d="M991 164h4v4h-4zM924 247h4v4h-4zM944 262h4v4h-4z"/><path fill="#d5d8e1" d="M999 164h4v4h-4z"/><path fill="#d8dbe4" d="M1007 164h4v4h-4zM971 168h4v4h-4zM908 239h4v4h-4zM916 243h4v4h-4zM928 251h4v4h-4z"/><path fill="#cfd5e1" d="M975 168h4v4h-4zM979 168h4v4h-4zM983 168h4v4h-4zM987 168h4v4h-4zM991 168h4v4h-4zM908 243h4v4h-4z"/><path fill="#e1e4e7" d="M999 168h4v4h-4zM904 235h4v4h-4zM983 239h4v4h-4zM884 251h4v4h-4zM888 251h4v4h-4zM884 255h4v4h-4z"/><path fill="#e4e4ea" d="M1003 168h4v4h-4zM971 172h4v4h-4zM979 172h4v4h-4zM916 231h4v4h-4zM912 239h4v4h-4zM979 239h4v4h-4zM936 255h4v4h-4zM944 274h4v4h-4z"/><path fill="#e7e7ea" d="M1007 168h4v4h-4zM983 172h4v4h-4zM987 172h4v4h-4zM904 227h4v4h-4zM908 231h4v4h-4zM896 239h4v4h-4zM916 239h4v4h-4zM908 251h4v4h-4zM932 251h4v4h-4zM920 259h4v3h-4zM924 262h4v4h-4zM948 262h4v4h-4zM983 262h4v4h-4zM940 274h4v4h-4z"/><path fill="#f9f3f3" d="M896 180h4v4h-4zM876 207h4v4h-4z"/><path fill="#e7eaed" d="M952 184h3v3h-3zM904 231h4v4h-4zM932 235h4v4h-4z"/><path fill="#f3f0f3" d="M880 187h4v4h-4z"/><path fill="#ededf0" d="M955 187h4v4h-4zM896 211h4v4h-4z"/><path fill="#e1dbcc" d="M1030 187h4v4h-4zM1034 187h4v4h-4zM1038 187h4v4h-4zM1027 191h3v4h-3zM1030 191h4v4h-4zM1034 191h4v4h-4zM1038 191h4v4h-4z"/><path fill="#eaedf0" d="M896 207h4v4h-4z"/><path fill="#b19963" d="M1034 215h4v4h-4zM1038 215h4v4h-4zM1034 219h4v4h-4zM1038 219h4v4h-4z"/><path fill="#e7e1d5" d="M884 239h4v4h-4zM904 259h4v3h-4z"/><path fill="#d2d8e1" d="M904 239h4v4h-4zM904 243h4v4h-4zM912 243h4v4h-4zM924 259h4v3h-4z"/><path fill="#ccd2de" d="M912 247h4v4h-4zM920 255h4v4h-4z"/><path fill="#bac3d2" d="M916 247h4v4h-4zM924 255h4v4h-4z"/><path fill="#c6cfdb" d="M920 247h4v4h-4z"/><path fill="#c6ccd8" d="M916 251h4v4h-4zM936 259h4v3h-4z"/><path fill="#b7c3d2" d="M920 251h4v4h-4z"/><path fill="#c0c9d8" d="M924 251h4v4h-4z"/><path fill="#bdc6d5" d="M928 255h4v4h-4zM928 259h4v3h-4zM932 262h4v4h-4z"/><path fill="#cfd5de" d="M932 255h4v4h-4z"/><path fill="#ded5c3" d="M908 259h4v3h-4z"/><path fill="#e4decf" d="M912 259h4v3h-4z"/><path fill="#eae7e4" d="M916 259h4v3h-4z"/><path fill="#b1c0cf" d="M932 259h4v3h-4z"/><path fill="#dbe1e7" d="M983 259h4v3h-4z"/><path fill="#eae4e1" d="M884 262h4v4h-4z"/><path fill="#d5dbe1" d="M928 262h4v4h-4z"/><path fill="#b1bdcf" d="M936 262h4v4h-4zM940 266h4v4h-4z"/><path fill="#c0c9d5" d="M940 262h4v4h-4z"/><path fill="#eaeaea" d="M987 262h4v4h-4zM928 266h4v4h-4z"/><path fill="#e4ded5" d="M884 266h4v4h-4zM892 266h4v4h-4z"/><path fill="#dbd2c0" d="M888 266h4v4h-4z"/><path fill="#e7e4db" d="M920 266h4v4h-4z"/><path fill="#e7ded2" d="M924 266h4v4h-4z"/><path fill="#c3ccd8" d="M936 266h4v4h-4z"/><path fill="#bac6d5" d="M944 266h4v4h-4zM944 270h4v4h-4z"/><path fill="#dedee4" d="M948 266h4v4h-4z"/><path fill="#c9cfdb" d="M940 270h4v4h-4z"/></g>
<g transform="translate(878.50 125.50)">
<path fill="#97b6e1" d="M0 0 L84.5 0 L84.5 2.5 L10.8 2.5 L10.8 7 L14.6 7 L14.6 10.8 L22.3 10.8 L22.3 14.6 L25.5 14.6 L25.5 31.2 L22.9 31.2 L22.9 35 L19.1 35 L19.1 38.2 L15.9 38.2 L15.9 42.7 L12.1 42.7 L12.1 46.5 L8.3 46.5 L8.3 42.7 L5.1 42.7 L5.1 46.5 L2.5 46.5 L2.5 154 L0 154Z"/>
<path fill="#97b6e1" d="M22 151 L125 151 L125 156 L22 156Z"/>
<path fill="#97b6e1" d="M159.5 0 L163 0 L163 104 L159.5 104Z"/>
</g>
<g transform="translate(878.50 125.50)">
<path d="M155 30 L153.5 30.5 L150.5 31.3 L147.5 33 L144 35.5 L140.5 39.5 L137.3 43.5 L135.5 47.5 L134 52 L132.5 56.5 L131 61 L129.5 65.5 L127.5 70 L125.5 74.5 L123.5 79.5 L121 84.5 L119 89.5 L117.5 94.5 L116 98.5 L114.3 101.6 L111.5 103.8 L110 106.6 L109.3 110.9 L110 113.7 L111.5 115.9 L110.8 119.5 L111.5 122.3 L115.7 123.7 L117.9 125.9 L119.3 129.4 L120.7 133.7 L122.9 138 L124 142.2 L124.6 147.9 L125 152.9 L125.2 156.5 L165.5 156.5 L165.5 98.5 L160.9 98.1 L159.9 100.7 L157.3 101.8 L154.1 100.7 L152 98.1 L151 95 L151.5 91.8 L152 88.7 L153.6 86 L155.7 82.9 L155.2 80.3 L154.1 82.4 L151.5 82.4 L151.5 80.3 L152.5 77.1 L151.1 74 L149.5 71.5 L147.7 68 L147.8 65 L148.9 59.5 L149.8 54.5 L150.3 50.5 L151.7 46.5 L152.5 41.5 L153.5 36.5 L154.5 33.5 L155.5 31.5Z" fill="#f0f0dc"/>
<path d="M23.1 -15.8L27.3 170.4M46.3 -16.3L50.5 169.9M69.5 -16.7L73.7 169.5M92.7 -17.1L96.9 169.1M115.9 -17.6L120.1 168.6M139.1 -18L143.3 168.2M-18 14.3L176.9 10.7M-17.5 33.9L177.3 30.3M-17.1 53.5L177.8 49.9M-16.7 73.1L178.2 69.5M-16.2 92.7L178.7 89.1M-15.8 112.3L179.1 108.7M-15.3 131.9L179.5 128.3M-14.9 151.5L180 147.9" fill="none" stroke="#b4b4b4" stroke-width="1.1"/>
<path d="M155 30 L153.5 30.5 L150.5 31.3 L147.5 33 L144 35.5 L140.5 39.5 L137.3 43.5 L135.5 47.5 L134 52 L132.5 56.5 L131 61 L129.5 65.5 L127.5 70 L125.5 74.5 L123.5 79.5 L121 84.5 L119 89.5 L117.5 94.5 L116 98.5 L114.3 101.6 L111.5 103.8 L110 106.6 L109.3 110.9 L110 113.7 L111.5 115.9 L110.8 119.5 L111.5 122.3 L115.7 123.7 L117.9 125.9 L119.3 129.4 L120.7 133.7 L122.9 138 L124 142.2 L124.6 147.9 L125 152.9 L125.2 156.5 M160.9 98.1 L159.9 100.7 L157.3 101.8 L154.1 100.7 L152 98.1 L151 95 L151.5 91.8 L152 88.7 L153.6 86 L155.7 82.9 L155.2 80.3 L154.1 82.4 L151.5 82.4 L151.5 80.3 L152.5 77.1 L151.1 74 L149.5 71.5 L147.7 68 L147.8 65 L148.9 59.5 L149.8 54.5 L150.3 50.5 L151.7 46.5 L152.5 41.5 L153.5 36.5 L154.5 33.5 L155.5 31.5 L155 30" fill="none" stroke="#707070" stroke-width="1.4" stroke-linejoin="round"/>
</g></g>
<rect x="878.50" y="125.50" width="162.00" height="154.00" fill="none" stroke="#000" stroke-width="1.1"/>
<text x="878.8" y="114.5" text-anchor="middle" font-size="13.9" textLength="55.38" lengthAdjust="spacingAndGlyphs">112.5°E</text>
<text x="882.2" y="296.8" text-anchor="middle" font-size="13.9" textLength="55.38" lengthAdjust="spacingAndGlyphs">112.5°E</text>
<text x="948.4" y="114.5" text-anchor="middle" font-size="13.9" textLength="64.12" lengthAdjust="spacingAndGlyphs">113.25°E</text>
<text x="951.8" y="296.8" text-anchor="middle" font-size="13.9" textLength="64.12" lengthAdjust="spacingAndGlyphs">113.25°E</text>
<text x="1018" y="114.5" text-anchor="middle" font-size="13.9" textLength="42.25" lengthAdjust="spacingAndGlyphs">114°E</text>
<text x="1021.4" y="296.8" text-anchor="middle" font-size="13.9" textLength="42.25" lengthAdjust="spacingAndGlyphs">114°E</text>
<rect x="1050.61" y="171.3" width="3.1" height="62.2" fill="url(#cb2)" stroke="#000" stroke-width="0.9"/>
<path d="M1053.71 171.3h4.8" stroke="#000" stroke-width="0.9"/>
<text x="1063.31" y="176.3" font-size="13.9" textLength="21.88" lengthAdjust="spacingAndGlyphs">0.2</text>
<path d="M1053.71 202.4h4.8" stroke="#000" stroke-width="0.9"/>
<text x="1063.31" y="207.4" font-size="13.9" textLength="21.88" lengthAdjust="spacingAndGlyphs">0.0</text>
<path d="M1053.71 233.5h4.8" stroke="#000" stroke-width="0.9"/>
<text x="1063.31" y="238.5" font-size="13.9" textLength="33.5" lengthAdjust="spacingAndGlyphs">−0.2</text>
</svg></body></html>
